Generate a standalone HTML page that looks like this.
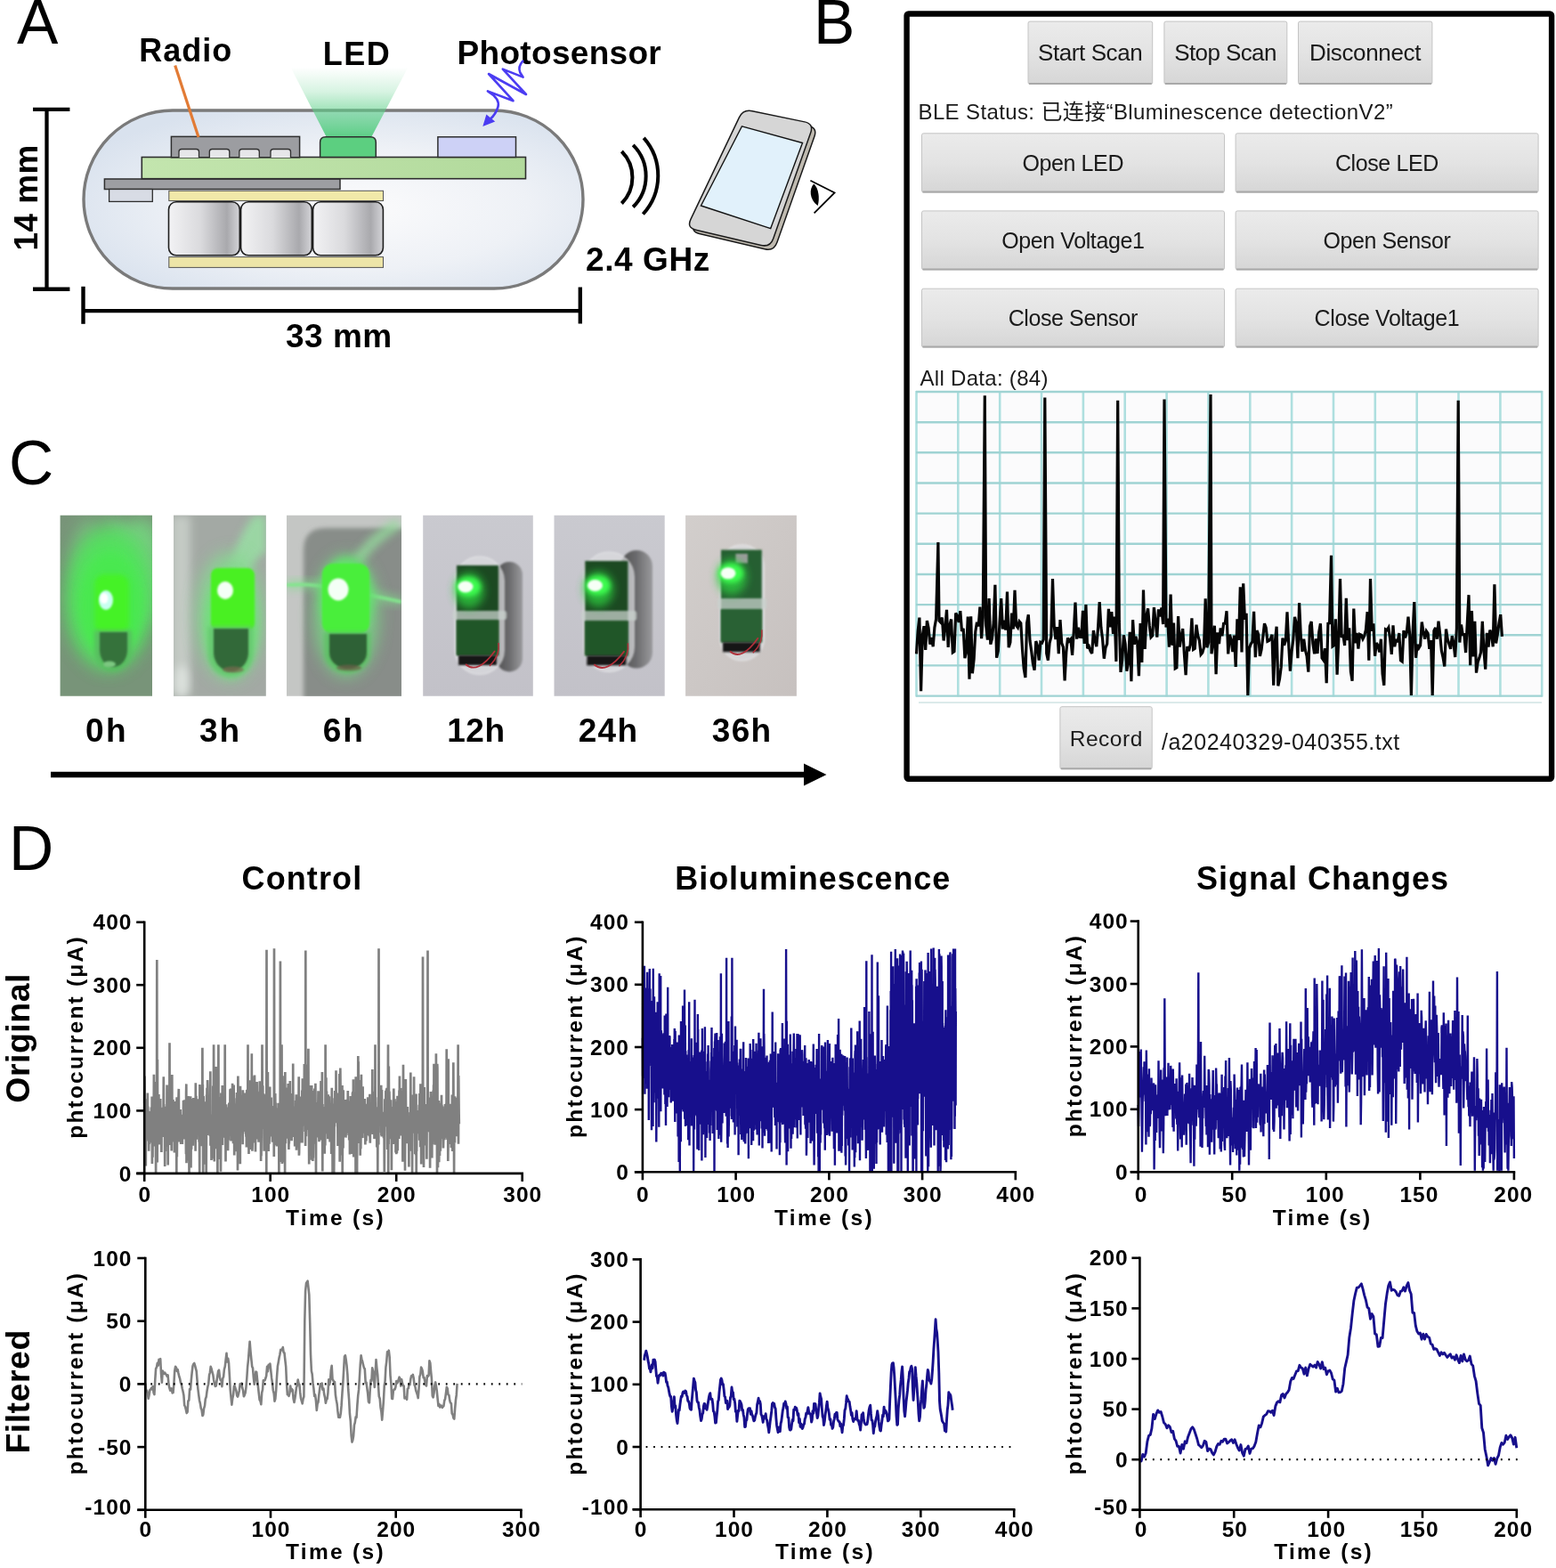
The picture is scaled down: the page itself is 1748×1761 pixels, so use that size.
<!DOCTYPE html>
<html><head><meta charset="utf-8"><title>Figure</title>
<style>html,body{margin:0;padding:0;background:#fff;overflow:hidden;width:1748px;height:1761px;} svg{display:block;}</style>
</head><body>
<svg width="1748" height="1761" viewBox="0 0 1748 1761">
<rect x="0" y="0" width="1748" height="1761" fill="#fff"/>
<defs>
<radialGradient id="capg" cx="0.55" cy="0.55" r="0.62">
 <stop offset="0" stop-color="#fbfbfc"/><stop offset="0.55" stop-color="#eef1f6"/><stop offset="1" stop-color="#d9e2ee"/>
</radialGradient>
<linearGradient id="coneg" x1="0" y1="0" x2="0" y2="1">
 <stop offset="0" stop-color="#5fd08a" stop-opacity="0"/><stop offset="0.35" stop-color="#5fd08a" stop-opacity="0.25"/><stop offset="0.62" stop-color="#5fd08a" stop-opacity="0.6"/><stop offset="1" stop-color="#55cc80" stop-opacity="0.95"/>
</linearGradient>
<linearGradient id="batg" x1="0" y1="0" x2="1" y2="0">
 <stop offset="0" stop-color="#f2f2f4"/><stop offset="0.45" stop-color="#dadadd"/><stop offset="0.82" stop-color="#a9a9ad"/><stop offset="1" stop-color="#d4d4d8"/>
</linearGradient>
<linearGradient id="pcbg" x1="0" y1="0" x2="1" y2="0">
 <stop offset="0" stop-color="#c3e5ae"/><stop offset="1" stop-color="#b2da9c"/>
</linearGradient>
</defs>
<text x="18.90" y="48.90" text-anchor="start" fill="#000" style="font-family:'Liberation Sans',Arial,sans-serif;font-size:69.5px">A</text>
<rect x="94" y="124" width="561" height="200" rx="100" ry="100" fill="url(#capg)" stroke="#7a7a7a" stroke-width="3.4"/>
<polygon points="326.5,75.6 458.4,75.6 417.2,154 366.8,154" fill="url(#coneg)"/>
<rect x="117.4" y="201" width="264.6" height="11.5" fill="#9d9ea2" stroke="#2e2e2e" stroke-width="1.5"/>
<rect x="122.6" y="212.5" width="48.7" height="13.9" fill="#d8dce5" stroke="#2e2e2e" stroke-width="1.3"/>
<rect x="159.3" y="176.5" width="431.2" height="24.2" fill="url(#pcbg)" stroke="#2e2e2e" stroke-width="1.6"/>
<rect x="192.4" y="153.4" width="144.2" height="23.4" fill="#9c9da1" stroke="#2e2e2e" stroke-width="1.5"/>
<path d="M201.0,177 L201.0,170.5 Q201.0,167.5 204.0,167.5 L220.5,167.5 Q223.5,167.5 223.5,170.5 L223.5,177" fill="#e7e7ea" stroke="#2e2e2e" stroke-width="1.3"/>
<path d="M235.3,177 L235.3,170.5 Q235.3,167.5 238.3,167.5 L254.8,167.5 Q257.8,167.5 257.8,170.5 L257.8,177" fill="#e7e7ea" stroke="#2e2e2e" stroke-width="1.3"/>
<path d="M268.8,177 L268.8,170.5 Q268.8,167.5 271.8,167.5 L288.3,167.5 Q291.3,167.5 291.3,170.5 L291.3,177" fill="#e7e7ea" stroke="#2e2e2e" stroke-width="1.3"/>
<path d="M304.0,177 L304.0,170.5 Q304.0,167.5 307.0,167.5 L323.5,167.5 Q326.5,167.5 326.5,170.5 L326.5,177" fill="#e7e7ea" stroke="#2e2e2e" stroke-width="1.3"/>
<line x1="196.7" y1="73.5" x2="223" y2="154" stroke="#e27b35" stroke-width="3.2"/>
<path d="M359.6,176.5 L359.6,160 Q359.6,153.8 366,153.8 L416,153.8 Q422.3,153.8 422.3,160 L422.3,176.5 Z" fill="#5ccf80" stroke="#2e2e2e" stroke-width="1.5"/>
<rect x="491.9" y="153.8" width="87.6" height="22.7" fill="#cdd1f6" stroke="#2e2e2e" stroke-width="1.5"/>
<rect x="189.8" y="214.3" width="240.7" height="11.2" fill="#f1e9a9" stroke="#555" stroke-width="1"/>
<rect x="189.8" y="288.6" width="240.7" height="11.8" fill="#ede5a8" stroke="#555" stroke-width="1"/>
<rect x="189.5" y="226.8" width="79.8" height="60" rx="8.5" fill="url(#batg)" stroke="#1e1e1e" stroke-width="1.6"/>
<rect x="270.6" y="226.8" width="79.7" height="60" rx="8.5" fill="url(#batg)" stroke="#1e1e1e" stroke-width="1.6"/>
<rect x="351.6" y="226.8" width="78.8" height="60" rx="8.5" fill="url(#batg)" stroke="#1e1e1e" stroke-width="1.6"/>
<line x1="52.5" y1="122.9" x2="52.5" y2="324.8" stroke="#000" stroke-width="4.3"/>
<line x1="37" y1="122.9" x2="78.4" y2="122.9" stroke="#000" stroke-width="4.4"/>
<line x1="37" y1="324.8" x2="78.4" y2="324.8" stroke="#000" stroke-width="4.4"/>
<line x1="93.5" y1="349.2" x2="651.8" y2="349.2" stroke="#000" stroke-width="4.3"/>
<line x1="93.5" y1="321.8" x2="93.5" y2="363.8" stroke="#000" stroke-width="4.4"/>
<line x1="651.8" y1="322.5" x2="651.8" y2="363.5" stroke="#000" stroke-width="4.4"/>
<text x="156.30" y="69.40" text-anchor="start" fill="#000" style="font-family:'Liberation Sans',Arial,sans-serif;font-weight:bold;font-size:36px;letter-spacing:1px">Radio</text>
<text x="362.80" y="72.50" text-anchor="start" fill="#000" style="font-family:'Liberation Sans',Arial,sans-serif;font-weight:bold;font-size:36px;letter-spacing:1.5px">LED</text>
<text x="513.60" y="72.00" text-anchor="start" fill="#000" style="font-family:'Liberation Sans',Arial,sans-serif;font-weight:bold;font-size:37px;letter-spacing:0.3px">Photosensor</text>
<text x="41.60" y="281.40" text-anchor="start" fill="#000" style="font-family:'Liberation Sans',Arial,sans-serif;font-weight:bold;font-size:37px;letter-spacing:0.4px" transform="rotate(-90 41.6 281.4)">14 mm</text>
<text x="321.00" y="390.00" text-anchor="start" fill="#000" style="font-family:'Liberation Sans',Arial,sans-serif;font-weight:bold;font-size:37px;letter-spacing:0.5px">33 mm</text>
<text x="658.00" y="303.50" text-anchor="start" fill="#000" style="font-family:'Liberation Sans',Arial,sans-serif;font-weight:bold;font-size:37px;letter-spacing:0.6px">2.4 GHz</text>
<path d="M587.3,68.7 Q581.5,75 584.3,81.5 L587.6,86.6 L564.8,77.6 L591,106 L549,83 L576.5,113.2 L547.9,102.4 Q562,111 559.5,120 Q557,128 551,133.5" fill="none" stroke="#4b3cf2" stroke-width="2.6" stroke-linejoin="round" stroke-linecap="round"/>
<polygon points="546.4,128.5 556.2,136.6 542.3,142" fill="#4b3cf2"/>
<path d="M698.4,170 A41.6,41.6 0 0 1 698.4,228.5" fill="none" stroke="#000" stroke-width="4"/>
<path d="M711.2,162.9 A49.2,49.2 0 0 1 711.2,232.5" fill="none" stroke="#000" stroke-width="4"/>
<path d="M723.2,154.8 A64,64 0 0 1 722.4,240.5" fill="none" stroke="#000" stroke-width="4"/>
<path d="M834.49,136.48 Q839.00,127.00 849.28,129.12 L908.12,141.28 Q918.40,143.40 914.90,153.30 L872.90,272.30 Q869.40,282.20 859.18,279.80 L785.82,262.60 Q775.60,260.20 780.11,250.72 Z" fill="#bfbab0" stroke="#1a1a1a" stroke-width="1.5"/>
<path d="M830.29,132.08 Q834.80,122.60 845.08,124.72 L903.92,136.88 Q914.20,139.00 910.70,148.90 L868.70,267.90 Q865.20,277.80 854.98,275.40 L781.62,258.20 Q771.40,255.80 775.91,246.32 Z" fill="#d6d6d6" stroke="#1a1a1a" stroke-width="1.5"/>
<polygon points="833.5,141.8 901.5,160.5 865.7,256.6 787.5,231.0" fill="#e1f1fb" stroke="#111" stroke-width="1.4"/>
<polyline points="910.4,202.7 937.6,216.4 914.6,239.4" fill="none" stroke="#000" stroke-width="1.7"/>
<path d="M914.3,206.5 C908.8,212 909,224 918.7,231 C921,223 919.8,211.5 914.3,206.5 Z" fill="#000"/>
<defs>
<linearGradient id="btng" x1="0" y1="0" x2="0" y2="1">
 <stop offset="0" stop-color="#ebebeb"/><stop offset="0.5" stop-color="#e3e3e3"/><stop offset="1" stop-color="#d6d6d6"/>
</linearGradient>
</defs>
<text x="913.90" y="48.90" text-anchor="start" fill="#000" style="font-family:'Liberation Sans',Arial,sans-serif;font-size:69.5px">B</text>
<rect x="1018.6" y="15.5" width="724.5" height="859.2" rx="2" fill="#fff" stroke="#000" stroke-width="6.4"/>
<rect x="1155.0" y="24.1" width="139.7" height="70.4" rx="2" fill="url(#btng)" stroke="#c4c4c4" stroke-width="1"/>
<line x1="1156.0" y1="94.0" x2="1293.7" y2="94.0" stroke="#a8a8a8" stroke-width="2"/>
<text x="1224.65" y="68.40" text-anchor="middle" fill="#1a1a1a" style="font-family:'Liberation Sans','Noto Sans CJK SC',sans-serif;font-size:26px;letter-spacing:-0.4px">Start Scan</text>
<rect x="1307.9" y="24.1" width="137.9" height="70.4" rx="2" fill="url(#btng)" stroke="#c4c4c4" stroke-width="1"/>
<line x1="1308.9" y1="94.0" x2="1444.8" y2="94.0" stroke="#a8a8a8" stroke-width="2"/>
<text x="1376.55" y="68.40" text-anchor="middle" fill="#1a1a1a" style="font-family:'Liberation Sans','Noto Sans CJK SC',sans-serif;font-size:26px;letter-spacing:-0.6px">Stop Scan</text>
<rect x="1458.5" y="24.1" width="150.4" height="70.4" rx="2" fill="url(#btng)" stroke="#c4c4c4" stroke-width="1"/>
<line x1="1459.5" y1="94.0" x2="1607.9" y2="94.0" stroke="#a8a8a8" stroke-width="2"/>
<text x="1533.53" y="68.40" text-anchor="middle" fill="#1a1a1a" style="font-family:'Liberation Sans','Noto Sans CJK SC',sans-serif;font-size:26px;letter-spacing:-0.35px">Disconnect</text>
<text x="1031.50" y="133.50" text-anchor="start" fill="#1a1a1a" style="font-family:'Liberation Sans','Noto Sans CJK SC',sans-serif;font-size:24px;letter-spacing:0.38px">BLE Status: 已连接“Bluminescence detectionV2”</text>
<rect x="1035.5" y="149.8" width="340.0" height="66.3" rx="2" fill="url(#btng)" stroke="#c4c4c4" stroke-width="1"/>
<line x1="1036.5" y1="215.6" x2="1374.5" y2="215.6" stroke="#a8a8a8" stroke-width="2"/>
<text x="1205.30" y="191.85" text-anchor="middle" fill="#1a1a1a" style="font-family:'Liberation Sans','Noto Sans CJK SC',sans-serif;font-size:25px;letter-spacing:-0.4px">Open LED</text>
<rect x="1388.1" y="149.8" width="340.0" height="66.3" rx="2" fill="url(#btng)" stroke="#c4c4c4" stroke-width="1"/>
<line x1="1389.1" y1="215.6" x2="1727.1" y2="215.6" stroke="#a8a8a8" stroke-width="2"/>
<text x="1557.90" y="191.85" text-anchor="middle" fill="#1a1a1a" style="font-family:'Liberation Sans','Noto Sans CJK SC',sans-serif;font-size:25px;letter-spacing:-0.4px">Close LED</text>
<rect x="1035.5" y="236.9" width="340.0" height="66.0" rx="2" fill="url(#btng)" stroke="#c4c4c4" stroke-width="1"/>
<line x1="1036.5" y1="302.4" x2="1374.5" y2="302.4" stroke="#a8a8a8" stroke-width="2"/>
<text x="1205.30" y="278.80" text-anchor="middle" fill="#1a1a1a" style="font-family:'Liberation Sans','Noto Sans CJK SC',sans-serif;font-size:25px;letter-spacing:-0.4px">Open Voltage1</text>
<rect x="1388.1" y="236.9" width="340.0" height="66.0" rx="2" fill="url(#btng)" stroke="#c4c4c4" stroke-width="1"/>
<line x1="1389.1" y1="302.4" x2="1727.1" y2="302.4" stroke="#a8a8a8" stroke-width="2"/>
<text x="1557.90" y="278.80" text-anchor="middle" fill="#1a1a1a" style="font-family:'Liberation Sans','Noto Sans CJK SC',sans-serif;font-size:25px;letter-spacing:-0.4px">Open Sensor</text>
<rect x="1035.5" y="324.2" width="340.0" height="65.8" rx="2" fill="url(#btng)" stroke="#c4c4c4" stroke-width="1"/>
<line x1="1036.5" y1="389.5" x2="1374.5" y2="389.5" stroke="#a8a8a8" stroke-width="2"/>
<text x="1205.30" y="366.00" text-anchor="middle" fill="#1a1a1a" style="font-family:'Liberation Sans','Noto Sans CJK SC',sans-serif;font-size:25px;letter-spacing:-0.4px">Close Sensor</text>
<rect x="1388.1" y="324.2" width="340.0" height="65.8" rx="2" fill="url(#btng)" stroke="#c4c4c4" stroke-width="1"/>
<line x1="1389.1" y1="389.5" x2="1727.1" y2="389.5" stroke="#a8a8a8" stroke-width="2"/>
<text x="1557.90" y="366.00" text-anchor="middle" fill="#1a1a1a" style="font-family:'Liberation Sans','Noto Sans CJK SC',sans-serif;font-size:25px;letter-spacing:-0.4px">Close Voltage1</text>
<text x="1033.50" y="432.50" text-anchor="start" fill="#1a1a1a" style="font-family:'Liberation Sans','Noto Sans CJK SC',sans-serif;font-size:24px;letter-spacing:0.3px">All Data: (84)</text>
<rect x="1029.0" y="439.0" width="703.7" height="343.6" fill="#fbfbfc"/>
<line x1="1029.5" y1="439.0" x2="1029.5" y2="782.6" stroke="#a6dcdc" stroke-width="2.6" opacity="0.9"/>
<line x1="1076.3" y1="439.0" x2="1076.3" y2="782.6" stroke="#a6dcdc" stroke-width="2.6" opacity="0.9"/>
<line x1="1123.2" y1="439.0" x2="1123.2" y2="782.6" stroke="#a6dcdc" stroke-width="2.6" opacity="0.9"/>
<line x1="1170.0" y1="439.0" x2="1170.0" y2="782.6" stroke="#a6dcdc" stroke-width="2.6" opacity="0.9"/>
<line x1="1216.9" y1="439.0" x2="1216.9" y2="782.6" stroke="#a6dcdc" stroke-width="2.6" opacity="0.9"/>
<line x1="1263.7" y1="439.0" x2="1263.7" y2="782.6" stroke="#a6dcdc" stroke-width="2.6" opacity="0.9"/>
<line x1="1310.6" y1="439.0" x2="1310.6" y2="782.6" stroke="#a6dcdc" stroke-width="2.6" opacity="0.9"/>
<line x1="1357.4" y1="439.0" x2="1357.4" y2="782.6" stroke="#a6dcdc" stroke-width="2.6" opacity="0.9"/>
<line x1="1404.3" y1="439.0" x2="1404.3" y2="782.6" stroke="#a6dcdc" stroke-width="2.6" opacity="0.9"/>
<line x1="1451.1" y1="439.0" x2="1451.1" y2="782.6" stroke="#a6dcdc" stroke-width="2.6" opacity="0.9"/>
<line x1="1498.0" y1="439.0" x2="1498.0" y2="782.6" stroke="#a6dcdc" stroke-width="2.6" opacity="0.9"/>
<line x1="1544.8" y1="439.0" x2="1544.8" y2="782.6" stroke="#a6dcdc" stroke-width="2.6" opacity="0.9"/>
<line x1="1591.7" y1="439.0" x2="1591.7" y2="782.6" stroke="#a6dcdc" stroke-width="2.6" opacity="0.9"/>
<line x1="1638.5" y1="439.0" x2="1638.5" y2="782.6" stroke="#a6dcdc" stroke-width="2.6" opacity="0.9"/>
<line x1="1685.4" y1="439.0" x2="1685.4" y2="782.6" stroke="#a6dcdc" stroke-width="2.6" opacity="0.9"/>
<line x1="1732.2" y1="439.0" x2="1732.2" y2="782.6" stroke="#a6dcdc" stroke-width="2.6" opacity="0.9"/>
<line x1="1029.0" y1="440.0" x2="1732.7" y2="440.0" stroke="#9fd3d3" stroke-width="2.4"/>
<line x1="1029.0" y1="474.2" x2="1732.7" y2="474.2" stroke="#9fd3d3" stroke-width="2.4"/>
<line x1="1029.0" y1="508.3" x2="1732.7" y2="508.3" stroke="#9fd3d3" stroke-width="2.4"/>
<line x1="1029.0" y1="542.5" x2="1732.7" y2="542.5" stroke="#9fd3d3" stroke-width="2.4"/>
<line x1="1029.0" y1="576.6" x2="1732.7" y2="576.6" stroke="#9fd3d3" stroke-width="2.4"/>
<line x1="1029.0" y1="610.8" x2="1732.7" y2="610.8" stroke="#9fd3d3" stroke-width="2.4"/>
<line x1="1029.0" y1="645.0" x2="1732.7" y2="645.0" stroke="#9fd3d3" stroke-width="2.4"/>
<line x1="1029.0" y1="679.1" x2="1732.7" y2="679.1" stroke="#9fd3d3" stroke-width="2.4"/>
<line x1="1029.0" y1="713.3" x2="1732.7" y2="713.3" stroke="#9fd3d3" stroke-width="2.4"/>
<line x1="1029.0" y1="747.4" x2="1732.7" y2="747.4" stroke="#9fd3d3" stroke-width="2.4"/>
<line x1="1029.0" y1="781.6" x2="1732.7" y2="781.6" stroke="#9fd3d3" stroke-width="2.4"/>
<line x1="1032" y1="789" x2="1732" y2="789" stroke="#cfe3e3" stroke-width="1.5"/>
<polyline points="1029.5,734.4 1031.2,708.4 1032.9,693.6 1034.6,776.2 1036.3,713.3 1038.0,703.2 1039.7,729.9 1041.4,697.2 1043.1,705.2 1044.8,723.7 1046.5,716.0 1048.2,726.2 1049.9,704.6 1051.6,695.3 1053.9,609.0 1055.0,697.2 1056.7,699.0 1058.4,693.6 1060.1,719.5 1061.8,704.8 1063.5,684.8 1065.2,726.9 1066.9,701.9 1068.6,695.5 1070.3,732.8 1072.0,731.6 1073.7,688.5 1075.4,691.8 1077.1,698.8 1078.8,686.1 1080.5,708.9 1082.2,705.8 1083.9,739.1 1085.6,731.4 1087.3,692.5 1089.0,762.8 1090.7,692.4 1092.4,756.3 1094.1,740.4 1095.8,709.3 1097.5,698.8 1099.2,703.5 1100.9,681.5 1102.6,717.1 1104.3,693.0 1106.3,444.3 1107.7,702.4 1109.4,718.7 1111.1,672.1 1112.8,723.6 1114.5,717.1 1116.2,699.0 1117.9,656.7 1119.6,738.7 1121.3,731.0 1123.0,699.6 1124.7,672.0 1126.4,706.4 1128.1,696.8 1129.8,707.6 1131.5,664.6 1133.2,727.1 1134.9,721.5 1136.6,688.5 1138.3,706.5 1140.0,662.7 1141.7,702.6 1143.4,704.9 1145.1,697.9 1146.8,699.9 1148.5,729.4 1150.2,750.7 1151.9,761.0 1153.6,699.7 1155.3,690.3 1157.0,719.5 1158.7,731.3 1160.4,745.2 1162.1,752.7 1163.8,720.1 1165.5,725.3 1167.2,741.7 1168.9,721.2 1170.6,722.1 1172.3,718.2 1173.8,446.4 1175.7,733.8 1177.4,741.7 1179.1,722.1 1180.8,715.3 1182.5,650.0 1184.2,702.6 1185.9,718.1 1187.6,704.1 1189.3,734.1 1191.0,696.1 1192.7,722.2 1194.4,726.7 1196.1,764.4 1197.8,732.4 1199.5,716.4 1201.2,719.9 1202.9,717.9 1204.6,735.9 1206.3,709.1 1208.0,676.6 1209.7,717.6 1211.4,704.7 1213.1,715.2 1214.8,715.4 1216.5,685.9 1218.2,723.0 1219.9,679.1 1221.6,728.3 1223.3,725.9 1225.0,731.1 1226.7,733.9 1228.4,708.0 1230.1,719.2 1231.8,726.2 1233.5,705.4 1235.2,676.2 1236.9,704.5 1238.6,717.9 1240.3,739.7 1242.0,727.4 1243.7,723.1 1245.4,683.8 1247.1,704.3 1248.8,687.0 1250.5,711.9 1252.2,692.6 1253.9,742.9 1255.7,449.8 1257.3,697.9 1259.0,754.9 1260.7,741.1 1262.4,713.4 1264.1,722.9 1265.8,753.6 1267.5,743.9 1269.2,709.9 1270.9,765.1 1272.6,696.2 1274.3,723.6 1276.0,714.8 1277.7,721.2 1279.4,759.2 1281.1,700.1 1282.8,744.0 1284.5,662.6 1286.2,728.9 1287.9,691.6 1289.6,683.3 1291.3,702.9 1293.0,715.7 1294.7,713.9 1296.4,682.1 1298.1,698.0 1299.8,715.6 1301.5,684.3 1303.2,692.3 1304.9,682.4 1306.6,701.1 1308.0,448.5 1310.0,704.5 1311.7,694.6 1313.4,726.6 1315.1,667.6 1316.8,724.8 1318.5,699.5 1320.2,750.8 1321.9,749.8 1323.6,692.0 1325.3,726.6 1327.0,714.7 1328.7,706.0 1330.4,734.5 1332.1,758.1 1333.8,726.1 1335.5,731.2 1337.2,724.0 1338.9,694.3 1340.6,729.4 1342.3,728.3 1344.0,701.7 1345.7,713.9 1347.4,719.3 1349.1,735.0 1350.8,732.9 1352.5,727.0 1354.2,672.3 1355.9,727.3 1357.6,721.6 1360.0,443.0 1361.0,734.2 1362.7,721.3 1364.4,702.7 1366.1,757.2 1367.8,710.4 1369.5,723.2 1371.2,705.5 1372.9,714.2 1374.6,700.4 1376.3,700.1 1378.0,686.2 1379.7,734.5 1381.4,712.8 1383.1,718.8 1384.8,732.0 1386.5,713.7 1388.2,749.0 1389.9,695.4 1391.6,718.8 1393.3,659.4 1395.0,732.4 1396.7,655.4 1398.4,695.6 1400.1,688.8 1401.8,781.0 1403.5,727.9 1405.2,723.3 1406.9,720.7 1408.6,686.9 1410.3,738.1 1412.0,708.1 1413.7,712.6 1415.4,736.8 1417.1,729.4 1418.8,715.3 1420.5,700.2 1422.2,704.9 1423.9,720.3 1425.6,719.4 1427.3,717.3 1429.0,712.8 1430.7,769.6 1432.4,720.4 1434.1,703.7 1435.8,770.3 1437.5,762.5 1439.2,749.2 1440.9,716.5 1442.6,724.8 1444.3,719.8 1446.0,687.4 1447.7,724.0 1449.4,753.7 1451.1,731.5 1452.8,718.1 1454.5,692.9 1456.2,699.9 1457.9,739.3 1459.6,677.1 1461.3,714.1 1463.0,731.9 1464.7,717.7 1466.4,730.1 1468.1,736.8 1469.8,754.6 1471.5,703.2 1473.2,698.1 1474.9,722.6 1476.6,734.3 1478.3,717.5 1480.0,734.0 1481.7,710.2 1483.4,700.3 1485.1,738.9 1486.8,741.4 1488.5,728.1 1490.2,767.3 1491.9,700.2 1493.6,699.8 1495.5,623.8 1497.0,725.9 1498.7,724.6 1500.4,695.3 1502.1,757.8 1503.8,716.9 1505.5,650.0 1507.2,716.0 1508.9,713.1 1510.6,724.9 1512.3,671.8 1514.0,719.1 1515.7,705.3 1517.4,754.1 1519.1,764.7 1520.8,683.5 1522.5,722.3 1524.2,711.0 1525.9,728.7 1527.6,712.3 1529.3,713.1 1531.0,717.6 1532.7,714.2 1534.4,707.5 1536.1,687.2 1537.8,741.7 1539.5,650.0 1541.2,708.7 1542.9,700.3 1544.6,736.7 1546.3,722.1 1548.0,725.0 1549.7,732.4 1551.4,717.8 1553.1,756.9 1554.8,769.8 1556.5,706.8 1558.2,707.7 1559.9,704.9 1561.6,717.4 1563.3,734.9 1565.0,702.4 1566.7,726.3 1568.4,717.9 1570.1,721.2 1571.8,711.0 1573.5,741.6 1575.2,742.9 1576.9,708.1 1578.6,716.3 1580.3,710.5 1582.0,692.7 1583.7,713.4 1585.4,781.0 1587.1,709.9 1588.8,676.1 1590.5,738.8 1592.2,724.0 1593.9,727.7 1595.6,724.8 1597.3,698.5 1599.0,709.7 1600.7,717.7 1602.4,708.9 1604.1,711.4 1605.8,728.8 1607.5,719.0 1609.2,781.0 1610.9,708.3 1612.6,705.0 1614.3,717.7 1616.0,697.6 1617.7,712.5 1619.4,730.8 1621.1,738.4 1622.8,748.5 1624.5,706.5 1626.2,717.8 1627.9,723.3 1629.6,728.7 1631.3,714.1 1633.0,722.4 1634.7,738.0 1636.4,705.9 1638.2,449.8 1639.8,721.6 1641.5,701.6 1643.2,712.5 1644.9,712.6 1646.6,733.0 1648.3,700.2 1650.0,668.2 1651.7,747.1 1653.4,686.0 1655.1,737.5 1656.8,697.7 1658.5,755.6 1660.2,743.6 1661.9,738.6 1663.6,732.6 1665.3,697.8 1667.0,731.3 1668.7,751.6 1670.4,710.9 1672.1,726.7 1673.8,707.7 1675.5,711.9 1677.2,726.3 1678.9,656.3 1680.6,722.4 1682.3,712.6 1684.0,699.7 1685.7,690.2 1687.4,714.8" fill="none" stroke="#050505" stroke-width="3.2" stroke-linejoin="miter" stroke-miterlimit="3"/>
<rect x="1190.9" y="793.7" width="103.3" height="70.0" rx="2" fill="url(#btng)" stroke="#c4c4c4" stroke-width="1"/>
<line x1="1191.9" y1="863.2" x2="1293.2" y2="863.2" stroke="#a8a8a8" stroke-width="2"/>
<text x="1242.80" y="837.70" text-anchor="middle" fill="#1a1a1a" style="font-family:'Liberation Sans','Noto Sans CJK SC',sans-serif;font-size:24.5px;letter-spacing:0.5px">Record</text>
<text x="1305.00" y="841.90" text-anchor="start" fill="#1a1a1a" style="font-family:'Liberation Sans','Noto Sans CJK SC',sans-serif;font-size:25px;letter-spacing:0.5px">/a20240329-040355.txt</text>
<text x="10.00" y="543.80" text-anchor="start" fill="#000" style="font-family:'Liberation Sans',Arial,sans-serif;font-size:69.5px">C</text>
<defs>
<filter id="b1" x="-50%" y="-50%" width="200%" height="200%"><feGaussianBlur stdDeviation="1.2"/></filter>
<filter id="b2" x="-50%" y="-50%" width="200%" height="200%"><feGaussianBlur stdDeviation="2.5"/></filter>
<filter id="b4" x="-50%" y="-50%" width="200%" height="200%"><feGaussianBlur stdDeviation="5"/></filter>
<filter id="b8" x="-50%" y="-50%" width="200%" height="200%"><feGaussianBlur stdDeviation="9"/></filter>
<linearGradient id="shadg" x1="0" y1="0" x2="1" y2="0"><stop offset="0" stop-color="#505052"/><stop offset="0.5" stop-color="#6c6c6e"/><stop offset="1" stop-color="#9a9a9d"/></linearGradient>
<linearGradient id="bg12" x1="0" y1="0" x2="0" y2="1"><stop offset="0" stop-color="#cacad0"/><stop offset="1" stop-color="#c2c1c8"/></linearGradient>
<linearGradient id="bg36" x1="0" y1="0" x2="1" y2="1"><stop offset="0" stop-color="#d3cfcd"/><stop offset="1" stop-color="#c6c0be"/></linearGradient>

<clipPath id="pc0"><rect x="67.6" y="578.8" width="103.4" height="203.0"/></clipPath>
<clipPath id="pc1"><rect x="195.0" y="578.8" width="103.8" height="203.0"/></clipPath>
<clipPath id="pc2"><rect x="322.0" y="578.8" width="129.0" height="203.0"/></clipPath>
<clipPath id="pc3"><rect x="475.2" y="578.8" width="123.6" height="203.0"/></clipPath>
<clipPath id="pc4"><rect x="622.5" y="578.8" width="124.2" height="203.0"/></clipPath>
<clipPath id="pc5"><rect x="770.1" y="578.8" width="124.8" height="203.0"/></clipPath>
</defs>
<g clip-path="url(#pc0)">
<rect x="57.599999999999994" y="568.8" width="123.4" height="223.0" fill="#789479" />
<path d="M120,579 Q150,600 171,590 L171,660 Q150,640 130,650 Z" fill="#7ee08a" filter="url(#b8)" opacity="0.8"/>
<ellipse cx="158" cy="640" rx="22" ry="60" fill="#74cf7e" filter="url(#b8)" opacity="0.8"/>
<ellipse cx="100" cy="620" rx="20" ry="40" fill="#7fbf85" filter="url(#b8)" opacity="0.6"/>
<ellipse cx="122" cy="672" rx="50" ry="82" fill="#58dc64" filter="url(#b8)" opacity="0.92"/>
<ellipse cx="124" cy="672" rx="38" ry="62" fill="#4ee856" filter="url(#b8)" opacity="0.9"/>
<ellipse cx="124" cy="680" rx="34" ry="56" fill="#4ae850" filter="url(#b4)"/>
<rect x="106" y="645" width="39.0" height="67.0" fill="#44f226" rx="12" filter="url(#b2)"/>
<path d="M106,708 L106,730 A21,24 0 0 0 148,730 L148,708 Z" fill="#58bd60" filter="url(#b2)"/>
<path d="M112,710 L112,730 A15.5,19 0 0 0 143,730 L143,710 Z" fill="#336b37" filter="url(#b1)" opacity="0.9"/>
<ellipse cx="123" cy="746" rx="7" ry="3.5" fill="#7cc880" filter="url(#b1)"/>
<ellipse cx="119" cy="674" rx="8" ry="11" fill="#c8fff0" filter="url(#b1)"/>
<ellipse cx="117" cy="672" rx="4.5" ry="6" fill="#ffffff" filter="url(#b1)"/>
</g>
<g clip-path="url(#pc1)">
<rect x="185.0" y="568.8" width="123.8" height="223.0" fill="#a3a9a4" />
<rect x="193" y="579" width="21.0" height="203.0" fill="#c4cac5" filter="url(#b4)"/>
<ellipse cx="204" cy="765" rx="7" ry="18" fill="#dde2de" filter="url(#b4)"/>
<path d="M255,650 Q262,610 285,579 L299,579 L299,620 Q280,630 275,660 Z" fill="#9adba4" filter="url(#b4)" opacity="0.9"/>
<ellipse cx="258" cy="692" rx="38" ry="72" fill="#86d890" filter="url(#b8)" opacity="0.85"/>
<ellipse cx="260" cy="700" rx="30" ry="60" fill="#6ee078" filter="url(#b4)" opacity="0.9"/>
<rect x="237" y="638" width="49.0" height="70.0" fill="#48f022" rx="8" filter="url(#b1)"/>
<path d="M234,704 L234,735 A25,25 0 0 0 284,735 L284,704 Z" fill="#66c870" filter="url(#b2)"/>
<path d="M240,706 L240,733 A19.5,21 0 0 0 279,733 L279,706 Z" fill="#2f6234" filter="url(#b1)" opacity="0.92"/>
<ellipse cx="262" cy="752" rx="12" ry="3.5" fill="#7a6a50" filter="url(#b1)" opacity="0.7"/>
<ellipse cx="253" cy="663" rx="9" ry="10" fill="#f4fff6" filter="url(#b1)"/>
</g>
<g clip-path="url(#pc2)">
<rect x="312.0" y="568.8" width="149.0" height="223.0" fill="#c4c6c4" />
<path d="M341,800 L341,618 Q341,593 366,593 L470,593 L470,800 Z" fill="#888d89" filter="url(#b2)"/>
<path d="M322,657 Q350,655 370,660 Q415,668 451,676" stroke="#86e890" stroke-width="4" fill="none" filter="url(#b1)" opacity="0.9"/>
<path d="M322,657 Q350,655 370,660 Q415,668 451,676" stroke="#80e08a" stroke-width="12" fill="none" filter="url(#b4)" opacity="0.5"/>
<path d="M400,632 Q418,605 448,588" stroke="#94dc9c" stroke-width="12" fill="none" filter="url(#b4)" opacity="0.8"/>
<ellipse cx="389" cy="692" rx="36" ry="68" fill="#78d884" filter="url(#b8)" opacity="0.85"/>
<ellipse cx="389" cy="672" rx="30" ry="46" fill="#5ee468" filter="url(#b4)" opacity="0.9"/>
<rect x="362" y="633" width="53.0" height="79.0" fill="#4aee3a" rx="12" filter="url(#b1)"/>
<path d="M364,710 L364,734 A26,22 0 0 0 416,734 L416,710 Z" fill="#60bf68" filter="url(#b2)"/>
<path d="M370,712 L370,733 A21,18 0 0 0 412,733 L412,712 Z" fill="#2c5a30" filter="url(#b1)" opacity="0.92"/>
<ellipse cx="392" cy="750" rx="14" ry="3.5" fill="#6d5e48" filter="url(#b1)" opacity="0.7"/>
<ellipse cx="380" cy="662" rx="11.5" ry="12.5" fill="#f4fff6" filter="url(#b1)"/>
</g>
<g clip-path="url(#pc3)">
<rect x="465.2" y="568.8" width="143.6" height="223.0" fill="url(#bg12)" />
<rect x="557.5" y="631" width="29.5" height="123.39999999999998" rx="14.8" fill="url(#shadg)" filter="url(#b1)"/>
<rect x="511.3" y="625" width="54.99999999999994" height="132.5" rx="27.5" fill="#dcdde0" opacity="0.7" stroke="#eeeef0" stroke-width="1.2" filter="url(#b1)"/>
<rect x="513" y="635" width="47" height="101" fill="#1d4a24" filter="url(#b1)"/>
<rect x="513" y="696" width="47" height="40.0" fill="#245a2c" opacity="0.8" filter="url(#b1)"/>
<rect x="508.3" y="686" width="61.0" height="10.0" rx="3" fill="#c8d0cc" opacity="0.75" filter="url(#b1)"/>
<rect x="515" y="736" width="43" height="11" fill="#161616" filter="url(#b1)"/>
<path d="M523,746 Q536.5,758 556,731" stroke="#b0303a" stroke-width="1.8" fill="none"/>
<path d="M550,748 Q562,736 560,722" stroke="#b0303a" stroke-width="1.5" fill="none"/>
<ellipse cx="527" cy="663" rx="17" ry="20" fill="#2fd040" filter="url(#b4)" opacity="0.75"/>
<ellipse cx="526" cy="659" rx="14" ry="11" fill="#3cff50" filter="url(#b2)" opacity="0.95"/>
<ellipse cx="523" cy="659" rx="8.5" ry="6.5" fill="#f6fff6" filter="url(#b1)"/>
</g>
<g clip-path="url(#pc4)">
<rect x="612.5" y="568.8" width="144.2" height="223.0" fill="url(#bg12)" />
<rect x="697.3" y="618" width="35.700000000000045" height="132.60000000000002" rx="17.9" fill="url(#shadg)" filter="url(#b1)"/>
<rect x="656" y="620" width="56.299999999999955" height="134.39999999999998" rx="28.1" fill="#dcdde0" opacity="0.7" stroke="#eeeef0" stroke-width="1.2" filter="url(#b1)"/>
<rect x="657.3" y="630" width="48.10000000000002" height="106.29999999999995" fill="#1d4a24" filter="url(#b1)"/>
<rect x="657.3" y="697" width="48.10000000000002" height="39.3" fill="#245a2c" opacity="0.8" filter="url(#b1)"/>
<rect x="653" y="686" width="62.3" height="11.0" rx="3" fill="#c8d0cc" opacity="0.75" filter="url(#b1)"/>
<rect x="659.3" y="736.3" width="44.10000000000002" height="11" fill="#161616" filter="url(#b1)"/>
<path d="M667.3,746.3 Q681.3499999999999,758.3 701.4,731.3" stroke="#b0303a" stroke-width="1.8" fill="none"/>
<path d="M695.4,748.3 Q707.4,736.3 705.4,722.3" stroke="#b0303a" stroke-width="1.5" fill="none"/>
<ellipse cx="672.5" cy="661.5" rx="17" ry="20" fill="#2fd040" filter="url(#b4)" opacity="0.75"/>
<ellipse cx="671.5" cy="657.5" rx="14" ry="11" fill="#3cff50" filter="url(#b2)" opacity="0.95"/>
<ellipse cx="668.5" cy="657.5" rx="8.5" ry="6.5" fill="#f6fff6" filter="url(#b1)"/>
</g>
<g clip-path="url(#pc5)">
<rect x="760.1" y="568.8" width="144.8" height="223.0" fill="url(#bg36)" />
<rect x="808.9" y="611.9" width="49.39999999999998" height="130.0" rx="24.7" fill="#dcdde0" opacity="0.7" stroke="#eeeef0" stroke-width="1.2" filter="url(#b1)"/>
<rect x="810" y="617.5" width="45.799999999999955" height="103.79999999999995" fill="#285f33" filter="url(#b1)"/>
<rect x="810" y="684" width="45.799999999999955" height="37.3" fill="#2a6234" opacity="0.8" filter="url(#b1)"/>
<rect x="805.9" y="672" width="55.4" height="12.0" rx="3" fill="#c8d0cc" opacity="0.75" filter="url(#b1)"/>
<rect x="812" y="721.3" width="41.799999999999955" height="11" fill="#161616" filter="url(#b1)"/>
<path d="M820,731.3 Q832.9,743.3 851.8,716.3" stroke="#b0303a" stroke-width="1.8" fill="none"/>
<path d="M845.8,733.3 Q857.8,721.3 855.8,707.3" stroke="#b0303a" stroke-width="1.5" fill="none"/>
<rect x="826.4" y="621.9" width="13.6" height="10.6" fill="#9c9c9c" filter="url(#b1)"/>
<ellipse cx="822" cy="647.8" rx="17" ry="20" fill="#2fd040" filter="url(#b4)" opacity="0.75"/>
<ellipse cx="821" cy="643.8" rx="14" ry="11" fill="#3cff50" filter="url(#b2)" opacity="0.95"/>
<ellipse cx="818" cy="643.8" rx="8.5" ry="6.5" fill="#f6fff6" filter="url(#b1)"/>
</g>
<text x="96.00" y="833.30" text-anchor="start" fill="#000" style="font-family:'Liberation Sans',Arial,sans-serif;font-weight:bold;font-size:37px;letter-spacing:2.5px">0h</text>
<text x="224.00" y="833.30" text-anchor="start" fill="#000" style="font-family:'Liberation Sans',Arial,sans-serif;font-weight:bold;font-size:37px;letter-spacing:2.0px">3h</text>
<text x="362.70" y="833.30" text-anchor="start" fill="#000" style="font-family:'Liberation Sans',Arial,sans-serif;font-weight:bold;font-size:37px;letter-spacing:2.0px">6h</text>
<text x="502.30" y="833.30" text-anchor="start" fill="#000" style="font-family:'Liberation Sans',Arial,sans-serif;font-weight:bold;font-size:37px;letter-spacing:0.5px">12h</text>
<text x="649.70" y="833.30" text-anchor="start" fill="#000" style="font-family:'Liberation Sans',Arial,sans-serif;font-weight:bold;font-size:37px;letter-spacing:1.3px">24h</text>
<text x="799.80" y="833.30" text-anchor="start" fill="#000" style="font-family:'Liberation Sans',Arial,sans-serif;font-weight:bold;font-size:37px;letter-spacing:1.3px">36h</text>
<line x1="57" y1="870" x2="905" y2="870" stroke="#000" stroke-width="6.5"/>
<polygon points="903,857.5 928.5,870 903,882.6" fill="#000"/>
<polyline points="162.2,1238.9 162.4,1208.6 162.6,1222.0 162.8,1283.4 163.0,1257.9 163.2,1234.2 163.4,1242.9 163.6,1267.0 163.8,1309.6 164.0,1265.6 164.2,1269.6 164.4,1281.5 164.6,1247.0 164.8,1267.9 165.0,1272.8 165.2,1261.7 165.4,1269.9 165.6,1242.7 165.8,1227.6 166.0,1265.5 166.2,1242.6 166.4,1250.0 166.6,1268.3 166.8,1275.6 167.0,1251.9 167.2,1292.8 167.4,1266.4 167.5,1247.9 167.7,1285.0 167.9,1262.3 168.1,1283.5 168.3,1255.7 168.5,1270.8 168.7,1247.9 168.9,1271.0 169.1,1255.3 169.3,1273.2 169.5,1260.5 169.7,1270.8 169.9,1243.6 170.1,1246.5 170.3,1283.4 170.5,1277.2 170.7,1231.5 170.9,1307.1 171.1,1256.2 171.3,1260.9 171.5,1299.8 171.7,1249.3 171.9,1248.5 172.1,1275.0 172.3,1269.0 172.5,1257.3 172.7,1250.3 172.9,1206.8 173.1,1284.7 173.3,1242.4 173.5,1286.9 173.7,1215.1 173.9,1287.6 174.1,1249.9 174.3,1242.3 174.5,1280.3 174.7,1232.3 174.9,1253.4 175.1,1317.2 175.3,1273.9 175.5,1271.6 175.7,1245.9 175.9,1302.2 176.1,1235.8 176.3,1078.0 176.5,1242.5 176.7,1305.4 176.9,1190.0 177.1,1255.8 177.3,1266.6 177.5,1269.8 177.7,1245.6 177.8,1276.9 178.0,1267.6 178.2,1259.6 178.4,1229.0 178.6,1264.7 178.8,1278.7 179.0,1285.5 179.2,1282.8 179.4,1284.1 179.6,1259.3 179.8,1254.7 180.0,1284.2 180.2,1234.1 180.4,1265.4 180.6,1264.0 180.8,1270.8 181.0,1265.8 181.2,1269.8 181.4,1294.1 181.6,1253.8 181.8,1271.3 182.0,1251.8 182.2,1243.8 182.4,1266.4 182.6,1260.5 182.8,1252.1 183.0,1262.3 183.2,1262.6 183.4,1277.0 183.6,1241.4 183.8,1209.3 184.0,1266.9 184.2,1239.9 184.4,1267.8 184.6,1258.4 184.8,1256.7 185.0,1253.7 185.2,1309.9 185.4,1271.1 185.6,1242.7 185.8,1293.0 186.0,1253.2 186.2,1267.8 186.4,1265.7 186.6,1247.2 186.8,1246.7 187.0,1288.0 187.2,1266.4 187.4,1252.9 187.6,1218.6 187.8,1280.0 188.0,1277.5 188.2,1255.9 188.3,1257.1 188.5,1269.6 188.7,1308.4 188.9,1255.2 189.1,1257.3 189.3,1275.1 189.5,1235.8 189.7,1243.6 189.9,1248.1 190.1,1286.0 190.3,1262.1 190.5,1171.2 190.7,1276.1 190.9,1277.4 191.1,1246.4 191.3,1236.8 191.5,1233.6 191.7,1242.2 191.9,1249.5 192.1,1249.0 192.3,1265.5 192.5,1264.1 192.7,1292.5 192.9,1244.6 193.1,1271.8 193.3,1206.9 193.5,1272.2 193.7,1272.3 193.9,1249.1 194.1,1251.9 194.3,1279.5 194.5,1235.0 194.7,1263.3 194.9,1271.4 195.1,1282.6 195.3,1248.8 195.5,1248.7 195.7,1242.4 195.9,1294.4 196.1,1263.0 196.3,1281.0 196.5,1244.2 196.7,1236.9 196.9,1276.1 197.1,1279.5 197.3,1262.6 197.5,1248.5 197.7,1267.2 197.9,1294.7 198.1,1249.2 198.3,1317.2 198.5,1237.1 198.7,1232.3 198.8,1299.3 199.0,1279.0 199.2,1270.4 199.4,1262.4 199.6,1245.1 199.8,1263.4 200.0,1258.5 200.2,1280.0 200.4,1235.8 200.6,1229.4 200.8,1222.9 201.0,1243.4 201.2,1269.7 201.4,1252.6 201.6,1282.5 201.8,1279.7 202.0,1265.8 202.2,1257.8 202.4,1261.5 202.6,1245.9 202.8,1268.5 203.0,1255.5 203.2,1285.1 203.4,1251.7 203.6,1271.4 203.8,1266.1 204.0,1254.0 204.2,1261.9 204.4,1284.1 204.6,1252.7 204.8,1285.1 205.0,1267.1 205.2,1261.2 205.4,1255.0 205.6,1261.8 205.8,1256.0 206.0,1235.7 206.2,1274.0 206.4,1245.5 206.6,1279.4 206.8,1270.1 207.0,1277.6 207.2,1257.2 207.4,1235.3 207.6,1258.9 207.8,1246.3 208.0,1274.0 208.2,1261.9 208.4,1236.8 208.6,1256.4 208.8,1277.3 209.0,1296.2 209.1,1227.6 209.3,1217.4 209.5,1306.3 209.7,1284.0 209.9,1262.4 210.1,1256.3 210.3,1252.8 210.5,1303.4 210.7,1256.0 210.9,1249.3 211.1,1276.5 211.3,1274.4 211.5,1231.0 211.7,1264.7 211.9,1254.1 212.1,1238.0 212.3,1265.1 212.5,1317.2 212.7,1252.6 212.9,1292.1 213.1,1304.7 213.3,1251.3 213.5,1262.2 213.7,1258.8 213.9,1262.9 214.1,1231.2 214.3,1238.1 214.5,1311.4 214.7,1234.0 214.9,1274.9 215.1,1290.8 215.3,1245.2 215.5,1237.9 215.7,1283.3 215.9,1234.5 216.1,1285.5 216.3,1254.0 216.5,1270.8 216.7,1286.7 216.9,1272.7 217.1,1278.1 217.3,1232.9 217.5,1245.3 217.7,1269.4 217.9,1241.3 218.1,1259.2 218.3,1254.4 218.5,1272.8 218.7,1243.5 218.9,1256.8 219.1,1261.1 219.3,1264.8 219.5,1276.6 219.6,1292.8 219.8,1216.3 220.0,1253.2 220.2,1265.2 220.4,1230.8 220.6,1265.6 220.8,1279.7 221.0,1247.2 221.2,1259.3 221.4,1269.4 221.6,1272.2 221.8,1264.9 222.0,1270.5 222.2,1234.2 222.4,1251.4 222.6,1267.6 222.8,1268.0 223.0,1270.7 223.2,1241.9 223.4,1254.5 223.6,1282.4 223.8,1271.6 224.0,1286.0 224.2,1317.2 224.4,1218.0 224.6,1220.6 224.8,1263.0 225.0,1268.4 225.2,1265.7 225.4,1287.3 225.6,1238.1 225.8,1277.1 226.0,1268.6 226.2,1247.1 226.4,1257.1 226.6,1265.0 226.8,1253.3 227.0,1286.2 227.2,1272.2 227.4,1176.8 227.6,1267.3 227.8,1217.9 228.0,1248.7 228.2,1317.2 228.4,1240.2 228.6,1231.0 228.8,1246.9 229.0,1287.8 229.2,1254.3 229.4,1294.6 229.6,1277.2 229.8,1264.6 230.0,1258.0 230.1,1261.8 230.3,1266.0 230.5,1281.4 230.7,1307.7 230.9,1258.9 231.1,1261.0 231.3,1237.3 231.5,1259.5 231.7,1317.2 231.9,1268.4 232.1,1229.4 232.3,1253.4 232.5,1221.8 232.7,1253.0 232.9,1274.9 233.1,1213.0 233.3,1219.5 233.5,1239.8 233.7,1229.8 233.9,1261.0 234.1,1274.0 234.3,1259.0 234.5,1264.4 234.7,1271.5 234.9,1244.6 235.1,1243.1 235.3,1263.3 235.5,1246.1 235.7,1275.8 235.9,1250.3 236.1,1233.0 236.3,1203.2 236.5,1286.8 236.7,1270.2 236.9,1260.3 237.1,1270.7 237.3,1253.3 237.5,1302.9 237.7,1259.7 237.9,1251.6 238.1,1301.4 238.3,1273.1 238.5,1267.3 238.7,1268.9 238.9,1275.9 239.1,1285.0 239.3,1219.4 239.5,1245.0 239.7,1294.8 239.9,1224.3 240.1,1173.3 240.3,1231.8 240.4,1264.1 240.6,1271.6 240.8,1304.6 241.0,1274.8 241.2,1252.5 241.4,1228.0 241.6,1254.9 241.8,1243.4 242.0,1270.2 242.2,1233.4 242.4,1288.2 242.6,1198.1 242.8,1263.7 243.0,1270.1 243.2,1241.5 243.4,1254.6 243.6,1290.3 243.8,1254.8 244.0,1286.4 244.2,1235.4 244.4,1317.2 244.6,1246.5 244.8,1255.3 245.0,1246.9 245.2,1253.6 245.4,1173.3 245.6,1255.7 245.8,1231.9 246.0,1268.2 246.2,1239.5 246.4,1232.7 246.6,1302.1 246.8,1274.9 247.0,1264.6 247.2,1235.2 247.4,1253.3 247.6,1233.7 247.8,1287.8 248.0,1315.8 248.2,1274.5 248.4,1227.6 248.6,1262.7 248.8,1254.2 249.0,1254.4 249.2,1259.6 249.4,1264.8 249.6,1245.7 249.8,1219.0 250.0,1285.9 250.2,1243.7 250.4,1231.0 250.6,1264.9 250.8,1241.5 250.9,1271.9 251.1,1263.1 251.3,1258.6 251.5,1240.0 251.7,1240.1 251.9,1277.8 252.1,1259.6 252.3,1254.4 252.5,1257.8 252.7,1173.3 252.9,1271.8 253.1,1276.1 253.3,1256.6 253.5,1304.4 253.7,1261.2 253.9,1267.0 254.1,1240.4 254.3,1247.2 254.5,1272.2 254.7,1263.9 254.9,1264.3 255.1,1276.2 255.3,1290.4 255.5,1245.3 255.7,1244.4 255.9,1285.4 256.1,1292.3 256.3,1262.7 256.5,1243.6 256.7,1280.5 256.9,1251.0 257.1,1250.7 257.3,1238.6 257.5,1276.0 257.7,1250.0 257.9,1261.3 258.1,1261.2 258.3,1265.3 258.5,1223.3 258.7,1254.7 258.9,1270.7 259.1,1232.3 259.3,1222.6 259.5,1281.5 259.7,1266.1 259.9,1246.4 260.1,1255.5 260.3,1274.6 260.5,1247.5 260.7,1256.6 260.9,1238.4 261.1,1216.8 261.2,1266.4 261.4,1237.3 261.6,1266.2 261.8,1259.9 262.0,1284.2 262.2,1277.9 262.4,1273.0 262.6,1218.5 262.8,1261.2 263.0,1233.2 263.2,1297.6 263.4,1254.7 263.6,1252.0 263.8,1248.5 264.0,1273.8 264.2,1239.5 264.4,1276.2 264.6,1260.4 264.8,1254.7 265.0,1283.2 265.2,1253.7 265.4,1281.7 265.6,1293.3 265.8,1240.1 266.0,1226.9 266.2,1285.1 266.4,1271.0 266.6,1284.5 266.8,1255.1 267.0,1314.4 267.2,1255.2 267.4,1208.4 267.6,1276.1 267.8,1281.0 268.0,1269.1 268.2,1238.6 268.4,1287.7 268.6,1284.6 268.8,1253.3 269.0,1248.9 269.2,1264.4 269.4,1255.8 269.6,1242.8 269.8,1307.2 270.0,1219.7 270.2,1236.6 270.4,1253.3 270.6,1244.9 270.8,1271.1 271.0,1243.3 271.2,1271.9 271.4,1261.4 271.6,1264.8 271.7,1256.3 271.9,1230.1 272.1,1240.7 272.3,1239.2 272.5,1258.0 272.7,1285.3 272.9,1224.2 273.1,1259.3 273.3,1240.5 273.5,1256.7 273.7,1257.3 273.9,1254.0 274.1,1247.2 274.3,1258.6 274.5,1238.6 274.7,1270.9 274.9,1238.6 275.1,1250.2 275.3,1254.7 275.5,1227.5 275.7,1236.5 275.9,1273.2 276.1,1255.5 276.3,1270.2 276.5,1276.8 276.7,1250.0 276.9,1288.5 277.1,1233.1 277.3,1223.9 277.5,1266.8 277.7,1268.4 277.9,1255.2 278.1,1279.0 278.3,1234.6 278.5,1173.3 278.7,1243.7 278.9,1249.0 279.1,1244.4 279.3,1273.3 279.5,1296.0 279.7,1242.0 279.9,1252.2 280.1,1254.2 280.3,1231.5 280.5,1288.3 280.7,1277.1 280.9,1291.1 281.1,1213.2 281.3,1255.8 281.5,1239.8 281.7,1285.7 281.9,1290.6 282.1,1255.3 282.2,1242.3 282.4,1253.1 282.6,1259.4 282.8,1183.3 283.0,1279.9 283.2,1208.5 283.4,1292.8 283.6,1287.5 283.8,1262.0 284.0,1263.2 284.2,1239.2 284.4,1276.9 284.6,1283.5 284.8,1258.6 285.0,1243.9 285.2,1227.6 285.4,1277.0 285.6,1257.7 285.8,1234.0 286.0,1207.6 286.2,1253.0 286.4,1266.0 286.6,1283.3 286.8,1248.9 287.0,1293.5 287.2,1243.8 287.4,1255.3 287.6,1264.7 287.8,1244.3 288.0,1279.5 288.2,1250.1 288.4,1249.7 288.6,1215.1 288.8,1246.9 289.0,1252.9 289.2,1249.8 289.4,1238.9 289.6,1255.9 289.8,1250.2 290.0,1235.3 290.2,1269.4 290.4,1272.5 290.6,1282.8 290.8,1228.6 291.0,1230.8 291.2,1248.2 291.4,1225.8 291.6,1227.7 291.8,1214.3 292.0,1227.0 292.2,1221.2 292.4,1245.5 292.5,1236.4 292.7,1281.2 292.9,1239.8 293.1,1304.1 293.3,1232.5 293.5,1298.3 293.7,1265.0 293.9,1241.5 294.1,1262.0 294.3,1252.1 294.5,1173.3 294.7,1219.3 294.9,1235.3 295.1,1262.7 295.3,1219.3 295.5,1268.0 295.7,1253.5 295.9,1266.7 296.1,1238.3 296.3,1228.3 296.5,1274.0 296.7,1292.8 296.9,1245.4 297.1,1250.2 297.3,1244.9 297.5,1262.8 297.7,1229.2 297.9,1257.1 298.1,1261.2 298.3,1284.0 298.5,1259.8 298.7,1267.2 298.9,1260.8 299.1,1259.9 299.3,1317.2 299.5,1066.7 299.7,1256.7 299.9,1223.6 300.1,1261.6 300.3,1254.9 300.5,1275.5 300.7,1266.7 300.9,1204.0 301.1,1279.3 301.3,1269.3 301.5,1255.0 301.7,1293.1 301.9,1240.0 302.1,1240.6 302.3,1248.3 302.5,1284.8 302.7,1274.1 302.9,1266.6 303.0,1272.9 303.2,1220.6 303.4,1268.1 303.6,1263.5 303.8,1260.3 304.0,1275.4 304.2,1276.3 304.4,1250.9 304.6,1232.5 304.8,1266.9 305.0,1253.3 305.2,1257.9 305.4,1275.8 305.6,1268.4 305.8,1264.4 306.0,1282.7 306.2,1276.5 306.4,1242.0 306.6,1260.1 306.8,1269.8 307.0,1253.5 307.2,1250.6 307.4,1273.9 307.6,1259.8 307.8,1299.0 308.0,1065.3 308.2,1234.7 308.4,1254.1 308.6,1236.9 308.8,1244.2 309.0,1286.3 309.2,1228.1 309.4,1243.7 309.6,1238.4 309.8,1285.7 310.0,1277.8 310.2,1265.0 310.4,1284.0 310.6,1244.3 310.8,1263.6 311.0,1287.4 311.2,1250.5 311.4,1256.4 311.6,1261.6 311.8,1278.4 312.0,1257.0 312.2,1259.7 312.4,1278.5 312.6,1238.8 312.8,1262.9 313.0,1257.0 313.2,1259.4 313.4,1317.2 313.5,1274.4 313.7,1261.6 313.9,1284.9 314.1,1248.6 314.3,1264.9 314.5,1257.8 314.7,1248.8 314.9,1079.4 315.1,1260.1 315.3,1288.7 315.5,1225.2 315.7,1203.6 315.9,1305.1 316.1,1252.9 316.3,1273.6 316.5,1173.3 316.7,1245.6 316.9,1306.9 317.1,1278.4 317.3,1259.5 317.5,1208.3 317.7,1233.6 317.9,1223.4 318.1,1259.7 318.3,1254.2 318.5,1245.7 318.7,1281.2 318.9,1267.8 319.1,1232.5 319.3,1256.6 319.5,1305.4 319.7,1251.6 319.9,1292.2 320.1,1317.2 320.3,1203.9 320.5,1247.3 320.7,1247.0 320.9,1284.2 321.1,1271.7 321.3,1247.7 321.5,1251.7 321.7,1273.5 321.9,1264.2 322.1,1278.8 322.3,1246.2 322.5,1260.8 322.7,1221.6 322.9,1276.8 323.1,1241.8 323.3,1254.1 323.5,1263.1 323.7,1216.9 323.8,1224.7 324.0,1266.6 324.2,1221.1 324.4,1291.1 324.6,1270.5 324.8,1284.5 325.0,1265.9 325.2,1248.8 325.4,1263.9 325.6,1258.2 325.8,1214.0 326.0,1259.9 326.2,1270.6 326.4,1240.1 326.6,1262.4 326.8,1228.1 327.0,1279.0 327.2,1268.6 327.4,1253.0 327.6,1281.2 327.8,1253.2 328.0,1262.3 328.2,1276.4 328.4,1265.0 328.6,1275.4 328.8,1239.6 329.0,1276.9 329.2,1194.4 329.4,1252.2 329.6,1246.2 329.8,1248.1 330.0,1256.3 330.2,1242.4 330.4,1256.5 330.6,1263.6 330.8,1254.4 331.0,1248.9 331.2,1287.4 331.4,1248.5 331.6,1249.7 331.8,1257.9 332.0,1271.1 332.2,1235.9 332.4,1255.5 332.6,1242.2 332.8,1229.2 333.0,1291.7 333.2,1287.3 333.4,1237.0 333.6,1281.9 333.8,1288.1 334.0,1237.0 334.2,1243.3 334.3,1249.8 334.5,1255.1 334.7,1263.8 334.9,1242.5 335.1,1264.4 335.3,1261.0 335.5,1235.1 335.7,1209.2 335.9,1297.7 336.1,1294.6 336.3,1278.3 336.5,1250.0 336.7,1250.7 336.9,1283.6 337.1,1251.1 337.3,1236.4 337.5,1231.4 337.7,1244.2 337.9,1262.2 338.1,1240.9 338.3,1280.3 338.5,1260.0 338.7,1237.0 338.9,1272.1 339.1,1277.7 339.3,1224.6 339.5,1283.5 339.7,1247.8 339.9,1211.3 340.1,1248.8 340.3,1264.4 340.5,1250.6 340.7,1239.9 340.9,1262.5 341.1,1260.8 341.3,1223.4 341.5,1240.3 341.7,1240.2 341.9,1195.0 342.1,1260.5 342.3,1218.2 342.5,1271.0 342.7,1225.9 342.9,1227.8 343.1,1286.9 343.3,1067.4 343.5,1253.0 343.7,1254.5 343.9,1276.3 344.1,1262.6 344.3,1241.2 344.5,1266.6 344.7,1268.8 344.8,1247.4 345.0,1263.2 345.2,1265.5 345.4,1251.2 345.6,1253.0 345.8,1231.5 346.0,1195.4 346.2,1250.4 346.4,1177.7 346.6,1240.4 346.8,1260.1 347.0,1273.6 347.2,1307.6 347.4,1246.0 347.6,1256.9 347.8,1244.3 348.0,1266.2 348.2,1254.4 348.4,1239.4 348.6,1266.7 348.8,1218.9 349.0,1271.4 349.2,1219.9 349.4,1254.7 349.6,1253.2 349.8,1269.8 350.0,1302.8 350.2,1218.9 350.4,1259.0 350.6,1265.3 350.8,1232.8 351.0,1262.1 351.2,1225.1 351.4,1304.1 351.6,1255.0 351.8,1300.6 352.0,1281.0 352.2,1247.4 352.4,1254.2 352.6,1256.7 352.8,1239.7 353.0,1281.0 353.2,1233.6 353.4,1222.5 353.6,1284.8 353.8,1250.5 354.0,1256.9 354.2,1262.3 354.4,1216.7 354.6,1269.2 354.8,1283.9 355.0,1317.2 355.1,1240.3 355.3,1271.3 355.5,1271.5 355.7,1263.1 355.9,1277.5 356.1,1237.9 356.3,1271.7 356.5,1252.9 356.7,1277.4 356.9,1266.2 357.1,1267.4 357.3,1244.6 357.5,1225.2 357.7,1246.1 357.9,1263.1 358.1,1267.9 358.3,1270.0 358.5,1282.2 358.7,1265.0 358.9,1246.7 359.1,1225.8 359.3,1245.0 359.5,1225.4 359.7,1243.4 359.9,1271.2 360.1,1250.5 360.3,1249.8 360.5,1213.9 360.7,1248.1 360.9,1251.6 361.1,1280.6 361.3,1254.8 361.5,1268.4 361.7,1260.5 361.9,1204.0 362.1,1262.2 362.3,1315.4 362.5,1240.1 362.7,1276.5 362.9,1243.1 363.1,1253.8 363.3,1246.5 363.5,1265.9 363.7,1267.7 363.9,1269.2 364.1,1247.4 364.3,1279.1 364.5,1281.0 364.7,1295.7 364.9,1254.2 365.1,1251.3 365.3,1286.6 365.5,1242.0 365.6,1173.3 365.8,1250.6 366.0,1220.3 366.2,1267.7 366.4,1210.3 366.6,1255.2 366.8,1273.3 367.0,1225.5 367.2,1256.4 367.4,1264.7 367.6,1269.8 367.8,1232.7 368.0,1239.9 368.2,1270.7 368.4,1279.2 368.6,1243.6 368.8,1229.2 369.0,1264.2 369.2,1246.6 369.4,1249.2 369.6,1254.3 369.8,1231.2 370.0,1241.6 370.2,1275.4 370.4,1253.8 370.6,1282.5 370.8,1276.9 371.0,1253.8 371.2,1264.8 371.4,1268.4 371.6,1253.9 371.8,1249.8 372.0,1252.9 372.2,1296.1 372.4,1254.2 372.6,1246.3 372.8,1221.7 373.0,1252.1 373.2,1240.9 373.4,1256.9 373.6,1317.2 373.8,1241.0 374.0,1240.5 374.2,1242.1 374.4,1273.2 374.6,1289.9 374.8,1239.4 375.0,1240.6 375.2,1317.2 375.4,1286.0 375.6,1256.8 375.8,1233.3 375.9,1265.3 376.1,1256.9 376.3,1225.0 376.5,1250.7 376.7,1237.4 376.9,1252.9 377.1,1226.0 377.3,1257.9 377.5,1202.3 377.7,1245.4 377.9,1248.3 378.1,1243.0 378.3,1241.2 378.5,1253.1 378.7,1261.3 378.9,1227.4 379.1,1253.4 379.3,1251.3 379.5,1287.0 379.7,1267.4 379.9,1286.1 380.1,1245.7 380.3,1265.5 380.5,1278.8 380.7,1229.0 380.9,1253.0 381.1,1262.7 381.3,1206.1 381.5,1248.0 381.7,1304.7 381.9,1226.8 382.1,1297.4 382.3,1199.5 382.5,1216.9 382.7,1272.7 382.9,1242.3 383.1,1287.6 383.3,1255.0 383.5,1293.0 383.7,1254.9 383.9,1252.1 384.1,1233.5 384.3,1266.0 384.5,1218.9 384.7,1317.2 384.9,1278.9 385.1,1235.0 385.3,1257.8 385.5,1289.6 385.7,1224.2 385.9,1253.5 386.1,1273.5 386.3,1265.1 386.4,1252.2 386.6,1256.0 386.8,1277.6 387.0,1252.6 387.2,1235.0 387.4,1274.8 387.6,1255.1 387.8,1262.2 388.0,1257.3 388.2,1241.3 388.4,1277.6 388.6,1273.9 388.8,1260.5 389.0,1238.1 389.2,1234.9 389.4,1256.2 389.6,1255.8 389.8,1263.6 390.0,1272.7 390.2,1245.3 390.4,1247.0 390.6,1254.0 390.8,1225.1 391.0,1249.8 391.2,1268.0 391.4,1254.7 391.6,1275.1 391.8,1252.3 392.0,1238.8 392.2,1280.4 392.4,1271.3 392.6,1236.6 392.8,1265.3 393.0,1296.4 393.2,1278.9 393.4,1256.6 393.6,1261.8 393.8,1230.9 394.0,1252.0 394.2,1266.3 394.4,1251.0 394.6,1267.5 394.8,1290.7 395.0,1254.5 395.2,1295.9 395.4,1230.9 395.6,1291.8 395.8,1262.4 396.0,1227.1 396.2,1249.1 396.4,1225.7 396.6,1259.9 396.8,1274.2 396.9,1212.3 397.1,1293.4 397.3,1299.5 397.5,1269.3 397.7,1297.2 397.9,1291.0 398.1,1244.0 398.3,1264.3 398.5,1249.1 398.7,1232.7 398.9,1236.2 399.1,1253.3 399.3,1231.0 399.5,1317.2 399.7,1209.3 399.9,1276.6 400.1,1293.2 400.3,1273.6 400.5,1283.9 400.7,1274.8 400.9,1300.9 401.1,1317.2 401.3,1228.1 401.5,1276.9 401.7,1259.2 401.9,1252.1 402.1,1258.8 402.3,1186.0 402.5,1236.4 402.7,1192.3 402.9,1257.2 403.1,1284.1 403.3,1266.3 403.5,1267.5 403.7,1244.0 403.9,1246.8 404.1,1244.1 404.3,1259.1 404.5,1213.1 404.7,1297.7 404.9,1235.6 405.1,1226.8 405.3,1290.3 405.5,1265.1 405.7,1274.8 405.9,1206.8 406.1,1249.9 406.3,1262.1 406.5,1239.7 406.7,1277.5 406.9,1275.2 407.1,1270.9 407.2,1270.5 407.4,1278.1 407.6,1220.3 407.8,1263.9 408.0,1261.1 408.2,1258.4 408.4,1254.1 408.6,1261.1 408.8,1254.9 409.0,1263.1 409.2,1267.1 409.4,1252.3 409.6,1272.4 409.8,1233.9 410.0,1272.8 410.2,1259.3 410.4,1285.6 410.6,1250.2 410.8,1256.6 411.0,1274.5 411.2,1261.5 411.4,1281.4 411.6,1268.8 411.8,1256.4 412.0,1239.8 412.2,1244.6 412.4,1242.4 412.6,1250.2 412.8,1248.9 413.0,1265.3 413.2,1232.2 413.4,1240.6 413.6,1261.8 413.8,1264.5 414.0,1262.5 414.2,1275.1 414.4,1245.3 414.6,1263.7 414.8,1276.2 415.0,1271.6 415.2,1245.2 415.4,1228.7 415.6,1278.6 415.8,1283.8 416.0,1268.4 416.2,1268.5 416.4,1243.0 416.6,1255.8 416.8,1261.6 417.0,1270.7 417.2,1261.8 417.4,1269.6 417.6,1268.3 417.7,1261.8 417.9,1262.5 418.1,1252.1 418.3,1201.1 418.5,1267.9 418.7,1272.7 418.9,1272.7 419.1,1263.1 419.3,1256.8 419.5,1225.7 419.7,1259.7 419.9,1226.9 420.1,1270.8 420.3,1259.8 420.5,1279.1 420.7,1269.3 420.9,1267.3 421.1,1265.1 421.3,1253.5 421.5,1173.3 421.7,1277.3 421.9,1273.4 422.1,1252.5 422.3,1276.6 422.5,1275.2 422.7,1246.8 422.9,1251.0 423.1,1243.2 423.3,1288.5 423.5,1257.9 423.7,1245.6 423.9,1249.9 424.1,1243.2 424.3,1317.2 424.5,1256.7 424.7,1245.5 424.9,1232.2 425.1,1259.2 425.3,1285.5 425.5,1065.3 425.7,1247.5 425.9,1260.1 426.1,1229.6 426.3,1228.4 426.5,1250.3 426.7,1264.9 426.9,1240.2 427.1,1237.2 427.3,1249.3 427.5,1261.5 427.7,1253.8 427.9,1243.0 428.1,1272.2 428.2,1218.8 428.4,1274.9 428.6,1268.7 428.8,1276.5 429.0,1224.0 429.2,1257.3 429.4,1252.9 429.6,1249.0 429.8,1271.6 430.0,1250.7 430.2,1251.2 430.4,1273.4 430.6,1271.4 430.8,1248.8 431.0,1278.3 431.2,1260.8 431.4,1257.2 431.6,1275.6 431.8,1316.1 432.0,1281.7 432.2,1255.7 432.4,1234.2 432.6,1241.8 432.8,1238.8 433.0,1265.4 433.2,1238.6 433.4,1224.8 433.6,1258.0 433.8,1251.8 434.0,1265.2 434.2,1222.8 434.4,1263.9 434.6,1221.7 434.8,1261.6 435.0,1229.3 435.2,1290.9 435.4,1245.5 435.6,1284.9 435.8,1223.7 436.0,1173.3 436.2,1317.2 436.4,1265.4 436.6,1284.9 436.8,1197.4 437.0,1235.9 437.2,1245.7 437.4,1225.9 437.6,1236.4 437.8,1279.3 438.0,1262.9 438.2,1259.3 438.4,1239.5 438.5,1261.7 438.7,1271.6 438.9,1272.4 439.1,1235.3 439.3,1272.3 439.5,1250.4 439.7,1253.4 439.9,1314.3 440.1,1242.9 440.3,1250.6 440.5,1269.2 440.7,1244.0 440.9,1263.3 441.1,1258.5 441.3,1248.2 441.5,1260.7 441.7,1284.9 441.9,1256.3 442.1,1242.3 442.3,1222.5 442.5,1244.6 442.7,1235.9 442.9,1279.1 443.1,1247.2 443.3,1282.3 443.5,1234.3 443.7,1260.6 443.9,1258.5 444.1,1283.6 444.3,1241.7 444.5,1294.4 444.7,1239.0 444.9,1257.5 445.1,1251.3 445.3,1296.2 445.5,1269.8 445.7,1237.3 445.9,1294.9 446.1,1251.8 446.3,1250.5 446.5,1230.8 446.7,1292.2 446.9,1267.9 447.1,1263.1 447.3,1270.0 447.5,1255.2 447.7,1268.4 447.9,1257.8 448.1,1275.1 448.3,1279.1 448.5,1224.4 448.7,1255.4 448.9,1208.6 449.0,1245.3 449.2,1254.2 449.4,1258.1 449.6,1254.5 449.8,1222.1 450.0,1245.0 450.2,1240.3 450.4,1258.0 450.6,1275.5 450.8,1225.0 451.0,1265.6 451.2,1262.3 451.4,1256.9 451.6,1262.0 451.8,1271.4 452.0,1252.2 452.2,1241.0 452.4,1304.7 452.6,1221.8 452.8,1261.0 453.0,1195.7 453.2,1238.6 453.4,1247.6 453.6,1244.4 453.8,1212.3 454.0,1266.8 454.2,1240.6 454.4,1233.9 454.6,1247.8 454.8,1267.1 455.0,1314.8 455.2,1262.9 455.4,1258.1 455.6,1261.5 455.8,1212.0 456.0,1240.0 456.2,1266.8 456.4,1269.6 456.6,1251.3 456.8,1254.5 457.0,1263.1 457.2,1245.0 457.4,1262.2 457.6,1284.2 457.8,1242.9 458.0,1258.1 458.2,1249.3 458.4,1250.2 458.6,1279.4 458.8,1280.0 459.0,1274.2 459.2,1269.4 459.4,1310.5 459.5,1254.0 459.7,1269.8 459.9,1260.8 460.1,1263.0 460.3,1286.8 460.5,1263.4 460.7,1256.4 460.9,1256.1 461.1,1264.2 461.3,1204.4 461.5,1260.4 461.7,1241.7 461.9,1292.7 462.1,1243.7 462.3,1258.8 462.5,1229.6 462.7,1246.0 462.9,1272.5 463.1,1317.2 463.3,1256.6 463.5,1237.5 463.7,1261.6 463.9,1265.7 464.1,1270.0 464.3,1256.2 464.5,1265.4 464.7,1272.7 464.9,1247.1 465.1,1209.3 465.3,1266.5 465.5,1255.5 465.7,1236.9 465.9,1267.0 466.1,1229.8 466.3,1296.0 466.5,1270.8 466.7,1251.0 466.9,1265.3 467.1,1297.3 467.3,1235.2 467.5,1228.4 467.7,1317.2 467.9,1264.0 468.1,1292.9 468.3,1247.2 468.5,1255.5 468.7,1254.4 468.9,1271.7 469.1,1269.7 469.3,1263.3 469.5,1260.1 469.7,1273.3 469.8,1246.9 470.0,1253.6 470.2,1259.9 470.4,1246.9 470.6,1251.2 470.8,1240.8 471.0,1262.8 471.2,1280.7 471.4,1227.9 471.6,1248.2 471.8,1248.3 472.0,1240.4 472.2,1288.2 472.4,1217.3 472.6,1249.8 472.8,1274.3 473.0,1266.5 473.2,1307.5 473.4,1250.7 473.6,1264.6 473.8,1257.2 474.0,1262.0 474.2,1291.9 474.4,1277.8 474.6,1273.8 474.8,1257.8 475.0,1074.5 475.2,1228.6 475.4,1260.6 475.6,1283.6 475.8,1258.8 476.0,1311.1 476.2,1263.5 476.4,1285.0 476.6,1236.9 476.8,1221.0 477.0,1271.2 477.2,1281.9 477.4,1240.0 477.6,1286.4 477.8,1262.7 478.0,1265.9 478.2,1264.5 478.4,1269.5 478.6,1245.3 478.8,1240.0 479.0,1256.7 479.2,1241.7 479.4,1301.8 479.6,1255.0 479.8,1269.9 480.0,1247.0 480.2,1251.3 480.3,1236.1 480.5,1067.4 480.7,1268.0 480.9,1261.6 481.1,1246.2 481.3,1271.0 481.5,1244.0 481.7,1265.7 481.9,1250.7 482.1,1232.4 482.3,1259.5 482.5,1271.4 482.7,1244.8 482.9,1248.1 483.1,1311.7 483.3,1264.9 483.5,1258.3 483.7,1267.8 483.9,1226.1 484.1,1267.6 484.3,1234.3 484.5,1270.5 484.7,1259.9 484.9,1268.7 485.1,1230.9 485.3,1300.4 485.5,1256.4 485.7,1251.0 485.9,1285.3 486.1,1267.2 486.3,1252.4 486.5,1251.1 486.7,1224.6 486.9,1254.6 487.1,1218.4 487.3,1246.8 487.5,1194.7 487.7,1220.8 487.9,1254.8 488.1,1281.4 488.3,1260.6 488.5,1258.0 488.7,1285.8 488.9,1271.3 489.1,1257.5 489.3,1236.9 489.5,1255.3 489.7,1250.2 489.9,1183.2 490.1,1257.5 490.3,1242.6 490.5,1230.3 490.6,1254.0 490.8,1219.2 491.0,1317.2 491.2,1194.9 491.4,1199.2 491.6,1255.6 491.8,1245.7 492.0,1311.2 492.2,1248.8 492.4,1253.2 492.6,1292.1 492.8,1236.1 493.0,1237.8 493.2,1305.3 493.4,1280.8 493.6,1278.5 493.8,1239.1 494.0,1297.9 494.2,1265.8 494.4,1250.6 494.6,1259.9 494.8,1292.8 495.0,1274.8 495.2,1271.3 495.4,1264.4 495.6,1264.1 495.8,1254.1 496.0,1229.8 496.2,1260.1 496.4,1240.7 496.6,1269.4 496.8,1250.4 497.0,1245.6 497.2,1242.6 497.4,1256.2 497.6,1279.0 497.8,1273.1 498.0,1289.4 498.2,1280.4 498.4,1266.6 498.6,1245.8 498.8,1261.9 499.0,1275.2 499.2,1258.9 499.4,1280.2 499.6,1253.6 499.8,1268.7 500.0,1240.1 500.2,1249.1 500.4,1256.7 500.6,1262.1 500.8,1251.2 501.0,1270.0 501.1,1239.4 501.3,1278.1 501.5,1261.6 501.7,1178.2 501.9,1220.6 502.1,1263.1 502.3,1255.2 502.5,1280.0 502.7,1241.3 502.9,1253.0 503.1,1223.7 503.3,1304.0 503.5,1285.0 503.7,1189.2 503.9,1261.1 504.1,1259.6 504.3,1270.3 504.5,1270.7 504.7,1268.0 504.9,1248.3 505.1,1242.5 505.3,1253.2 505.5,1266.3 505.7,1285.1 505.9,1269.9 506.1,1278.6 506.3,1239.7 506.5,1257.5 506.7,1270.7 506.9,1289.0 507.1,1286.6 507.3,1258.3 507.5,1272.2 507.7,1284.8 507.9,1229.6 508.1,1256.0 508.3,1293.0 508.5,1252.4 508.7,1231.5 508.9,1262.5 509.1,1252.0 509.3,1193.3 509.5,1234.1 509.7,1286.7 509.9,1263.0 510.1,1317.2 510.3,1253.0 510.5,1251.0 510.7,1277.8 510.9,1283.6 511.1,1231.2 511.3,1267.1 511.5,1245.1 511.6,1271.3 511.8,1238.4 512.0,1232.7 512.2,1238.4 512.4,1257.8 512.6,1248.7 512.8,1272.8 513.0,1235.9 513.2,1236.4 513.4,1242.8 513.6,1276.3 513.8,1244.6 514.0,1268.5 514.2,1275.8 514.4,1239.1 514.6,1173.3 514.8,1263.8 515.0,1284.7 515.2,1208.0 515.4,1231.6 515.6,1250.8 515.8,1262.3 516.0,1262.3" fill="none" stroke="#808080" stroke-width="2.7" stroke-linejoin="miter" stroke-miterlimit="2"/>
<line x1="162.2" y1="1034.4" x2="162.2" y2="1319.2" stroke="#000" stroke-width="2.6"/>
<line x1="153.2" y1="1317.9" x2="588.0" y2="1317.9" stroke="#000" stroke-width="2.6"/>
<line x1="153.2" y1="1317.9" x2="162.2" y2="1317.9" stroke="#000" stroke-width="2.6"/>
<text x="148.50" y="1326.50" text-anchor="end" fill="#000" style="font-family:'Liberation Sans',Arial,sans-serif;font-weight:bold;font-size:24.5px;letter-spacing:1px">0</text>
<line x1="153.2" y1="1247.4" x2="162.2" y2="1247.4" stroke="#000" stroke-width="2.6"/>
<text x="148.50" y="1255.95" text-anchor="end" fill="#000" style="font-family:'Liberation Sans',Arial,sans-serif;font-weight:bold;font-size:24.5px;letter-spacing:1px">100</text>
<line x1="153.2" y1="1176.8" x2="162.2" y2="1176.8" stroke="#000" stroke-width="2.6"/>
<text x="148.50" y="1185.40" text-anchor="end" fill="#000" style="font-family:'Liberation Sans',Arial,sans-serif;font-weight:bold;font-size:24.5px;letter-spacing:1px">200</text>
<line x1="153.2" y1="1106.2" x2="162.2" y2="1106.2" stroke="#000" stroke-width="2.6"/>
<text x="148.50" y="1114.85" text-anchor="end" fill="#000" style="font-family:'Liberation Sans',Arial,sans-serif;font-weight:bold;font-size:24.5px;letter-spacing:1px">300</text>
<line x1="153.2" y1="1035.7" x2="162.2" y2="1035.7" stroke="#000" stroke-width="2.6"/>
<text x="148.50" y="1044.30" text-anchor="end" fill="#000" style="font-family:'Liberation Sans',Arial,sans-serif;font-weight:bold;font-size:24.5px;letter-spacing:1px">400</text>
<line x1="162.2" y1="1317.9" x2="162.2" y2="1326.9" stroke="#000" stroke-width="2.6"/>
<text x="162.70" y="1349.60" text-anchor="middle" fill="#000" style="font-family:'Liberation Sans',Arial,sans-serif;font-weight:bold;font-size:24.5px;letter-spacing:1px">0</text>
<line x1="303.7" y1="1317.9" x2="303.7" y2="1326.9" stroke="#000" stroke-width="2.6"/>
<text x="304.20" y="1349.60" text-anchor="middle" fill="#000" style="font-family:'Liberation Sans',Arial,sans-serif;font-weight:bold;font-size:24.5px;letter-spacing:1px">100</text>
<line x1="445.2" y1="1317.9" x2="445.2" y2="1326.9" stroke="#000" stroke-width="2.6"/>
<text x="445.70" y="1349.60" text-anchor="middle" fill="#000" style="font-family:'Liberation Sans',Arial,sans-serif;font-weight:bold;font-size:24.5px;letter-spacing:1px">200</text>
<line x1="586.7" y1="1317.9" x2="586.7" y2="1326.9" stroke="#000" stroke-width="2.6"/>
<text x="587.20" y="1349.60" text-anchor="middle" fill="#000" style="font-family:'Liberation Sans',Arial,sans-serif;font-weight:bold;font-size:24.5px;letter-spacing:1px">300</text>
<text x="376.90" y="1375.90" text-anchor="middle" fill="#000" style="font-family:'Liberation Sans',Arial,sans-serif;font-weight:bold;font-size:24.5px;letter-spacing:2.3px">Time (s)</text>
<text x="93.00" y="1164.50" text-anchor="middle" fill="#000" style="font-family:'Liberation Sans',Arial,sans-serif;font-weight:bold;font-size:24.5px;letter-spacing:2.2px" transform="rotate(-90 93.0 1164.5000000000002)">phtocurrent (μA)</text>
<polyline points="721.9,1165.8 722.1,1208.6 722.2,1102.0 722.4,1137.1 722.6,1123.4 722.7,1210.9 722.9,1134.1 723.1,1204.7 723.2,1169.3 723.4,1146.5 723.6,1167.4 723.7,1183.6 723.9,1084.8 724.1,1129.6 724.2,1157.3 724.4,1228.7 724.6,1141.0 724.7,1167.9 724.9,1215.4 725.1,1156.2 725.3,1212.1 725.4,1178.6 725.6,1109.5 725.8,1196.8 725.9,1161.3 726.1,1217.3 726.3,1167.8 726.4,1201.4 726.6,1211.3 726.8,1178.4 726.9,1222.7 727.1,1091.8 727.3,1118.4 727.4,1180.7 727.6,1198.2 727.8,1195.8 727.9,1195.6 728.1,1186.1 728.3,1168.8 728.4,1160.8 728.6,1110.2 728.8,1257.9 728.9,1135.8 729.1,1147.7 729.3,1173.7 729.4,1160.5 729.6,1176.9 729.8,1088.1 729.9,1169.1 730.1,1134.5 730.3,1193.0 730.4,1110.6 730.6,1165.0 730.8,1168.7 730.9,1136.3 731.1,1164.8 731.3,1197.6 731.5,1188.0 731.6,1175.6 731.8,1241.6 732.0,1269.3 732.1,1163.9 732.3,1124.1 732.5,1176.7 732.6,1166.7 732.8,1218.8 733.0,1212.2 733.1,1141.1 733.3,1136.9 733.5,1265.0 733.6,1150.2 733.8,1087.7 734.0,1180.6 734.1,1187.3 734.3,1189.8 734.5,1136.9 734.6,1238.2 734.8,1215.9 735.0,1119.3 735.1,1143.0 735.3,1148.8 735.5,1227.2 735.6,1167.6 735.8,1209.1 736.0,1182.2 736.1,1214.0 736.3,1200.5 736.5,1136.8 736.6,1164.3 736.8,1187.9 737.0,1154.5 737.1,1193.0 737.3,1282.6 737.5,1248.8 737.7,1221.2 737.8,1147.3 738.0,1190.1 738.2,1220.6 738.3,1184.9 738.5,1232.1 738.7,1125.3 738.8,1189.7 739.0,1233.7 739.2,1167.3 739.3,1163.8 739.5,1217.1 739.7,1181.1 739.8,1192.4 740.0,1166.4 740.2,1193.6 740.3,1265.8 740.5,1188.7 740.7,1093.2 740.8,1174.2 741.0,1193.2 741.2,1136.8 741.3,1209.7 741.5,1136.3 741.7,1184.8 741.8,1225.4 742.0,1153.7 742.2,1095.9 742.3,1248.3 742.5,1178.4 742.7,1167.6 742.8,1157.2 743.0,1161.7 743.2,1176.6 743.3,1162.1 743.5,1200.5 743.7,1185.9 743.9,1176.0 744.0,1222.6 744.2,1207.4 744.4,1167.5 744.5,1191.4 744.7,1176.7 744.9,1169.2 745.0,1183.1 745.2,1188.4 745.4,1166.5 745.5,1160.4 745.7,1180.6 745.9,1196.1 746.0,1160.3 746.2,1189.8 746.4,1229.5 746.5,1209.7 746.7,1140.6 746.9,1213.5 747.0,1226.1 747.2,1145.1 747.4,1239.9 747.5,1173.2 747.7,1211.1 747.9,1242.7 748.0,1264.0 748.2,1186.2 748.4,1138.5 748.5,1223.5 748.7,1213.8 748.9,1202.2 749.0,1160.1 749.2,1178.7 749.4,1186.0 749.5,1243.1 749.7,1221.3 749.9,1194.0 750.1,1190.1 750.2,1108.7 750.4,1227.9 750.6,1173.5 750.7,1173.4 750.9,1229.5 751.1,1232.3 751.2,1182.1 751.4,1213.1 751.6,1192.3 751.7,1187.1 751.9,1163.1 752.1,1209.1 752.2,1188.4 752.4,1163.4 752.6,1183.1 752.7,1223.9 752.9,1199.9 753.1,1184.6 753.2,1180.3 753.4,1204.1 753.6,1201.6 753.7,1238.6 753.9,1222.9 754.1,1175.9 754.2,1211.6 754.4,1184.4 754.6,1215.7 754.7,1196.3 754.9,1187.7 755.1,1205.8 755.2,1172.9 755.4,1208.0 755.6,1211.9 755.7,1203.1 755.9,1223.0 756.1,1236.8 756.3,1232.8 756.4,1182.2 756.6,1195.6 756.8,1192.8 756.9,1217.5 757.1,1232.6 757.3,1193.9 757.4,1167.0 757.6,1195.1 757.8,1155.1 757.9,1229.6 758.1,1213.3 758.3,1259.9 758.4,1190.4 758.6,1157.8 758.8,1197.5 758.9,1245.5 759.1,1216.8 759.3,1203.2 759.4,1205.1 759.6,1220.1 759.8,1175.9 759.9,1185.9 760.1,1250.5 760.3,1205.1 760.4,1207.5 760.6,1170.4 760.8,1209.5 760.9,1206.6 761.1,1249.2 761.3,1233.6 761.4,1199.5 761.6,1276.6 761.8,1197.2 761.9,1204.6 762.1,1249.6 762.3,1192.4 762.5,1238.8 762.6,1305.1 762.8,1162.4 763.0,1182.0 763.1,1209.5 763.3,1186.9 763.5,1189.3 763.6,1178.4 763.8,1314.9 764.0,1226.5 764.1,1180.0 764.3,1252.7 764.5,1269.6 764.6,1254.0 764.8,1282.2 765.0,1147.1 765.1,1224.5 765.3,1246.2 765.5,1218.2 765.6,1239.3 765.8,1223.1 766.0,1214.0 766.1,1216.4 766.3,1203.4 766.5,1176.7 766.6,1232.9 766.8,1230.8 767.0,1194.4 767.1,1129.6 767.3,1229.5 767.5,1175.2 767.6,1248.6 767.8,1211.1 768.0,1203.6 768.1,1185.8 768.3,1204.4 768.5,1173.8 768.7,1217.7 768.8,1238.3 769.0,1111.5 769.2,1256.7 769.3,1217.8 769.5,1234.7 769.7,1211.7 769.8,1151.4 770.0,1264.9 770.2,1238.6 770.3,1180.2 770.5,1213.2 770.7,1197.4 770.8,1225.9 771.0,1196.2 771.2,1184.4 771.3,1263.9 771.5,1235.4 771.7,1262.4 771.8,1233.1 772.0,1261.3 772.2,1222.7 772.3,1194.8 772.5,1235.2 772.7,1219.1 772.8,1224.4 773.0,1251.8 773.2,1280.2 773.3,1228.6 773.5,1201.2 773.7,1179.1 773.8,1239.9 774.0,1181.7 774.2,1125.3 774.3,1223.2 774.5,1286.5 774.7,1197.3 774.9,1254.1 775.0,1191.9 775.2,1203.2 775.4,1204.2 775.5,1196.8 775.7,1216.5 775.9,1219.8 776.0,1229.8 776.2,1209.4 776.4,1215.6 776.5,1229.0 776.7,1216.7 776.9,1166.2 777.0,1264.5 777.2,1235.9 777.4,1248.3 777.5,1192.6 777.7,1234.3 777.9,1215.4 778.0,1238.1 778.2,1194.3 778.4,1188.0 778.5,1216.5 778.7,1205.1 778.9,1193.0 779.0,1187.5 779.2,1315.6 779.4,1232.2 779.5,1255.5 779.7,1185.1 779.9,1197.5 780.0,1268.5 780.2,1226.5 780.4,1179.7 780.5,1122.7 780.7,1239.4 780.9,1224.9 781.1,1210.7 781.2,1219.7 781.4,1202.6 781.6,1218.8 781.7,1172.6 781.9,1237.2 782.1,1206.3 782.2,1252.5 782.4,1208.3 782.6,1170.8 782.7,1235.0 782.9,1253.4 783.1,1233.1 783.2,1244.6 783.4,1290.8 783.6,1270.2 783.7,1248.3 783.9,1139.1 784.1,1233.5 784.2,1156.1 784.4,1279.7 784.6,1244.9 784.7,1218.3 784.9,1206.7 785.1,1248.0 785.2,1292.1 785.4,1226.7 785.6,1238.2 785.7,1228.6 785.9,1257.8 786.1,1239.7 786.2,1181.5 786.4,1244.1 786.6,1195.3 786.7,1232.0 786.9,1262.7 787.1,1221.0 787.3,1218.9 787.4,1237.1 787.6,1202.7 787.8,1245.1 787.9,1245.3 788.1,1185.3 788.3,1179.5 788.4,1303.6 788.6,1194.8 788.8,1243.1 788.9,1155.1 789.1,1247.4 789.3,1249.4 789.4,1238.5 789.6,1229.2 789.8,1182.3 789.9,1274.3 790.1,1180.8 790.3,1271.9 790.4,1241.8 790.6,1198.3 790.8,1249.5 790.9,1223.8 791.1,1224.1 791.3,1204.3 791.4,1194.7 791.6,1208.6 791.8,1189.1 791.9,1153.3 792.1,1232.6 792.3,1210.0 792.4,1300.1 792.6,1243.4 792.8,1226.9 792.9,1232.1 793.1,1232.1 793.3,1217.6 793.5,1203.1 793.6,1266.5 793.8,1251.6 794.0,1255.8 794.1,1278.1 794.3,1243.6 794.5,1232.2 794.6,1192.3 794.8,1238.6 795.0,1197.3 795.1,1183.5 795.3,1214.4 795.5,1204.8 795.6,1174.1 795.8,1228.8 796.0,1225.3 796.1,1263.1 796.3,1241.4 796.5,1248.7 796.6,1212.7 796.8,1225.7 797.0,1272.5 797.1,1225.8 797.3,1228.6 797.5,1225.9 797.6,1281.0 797.8,1214.8 798.0,1243.7 798.1,1264.0 798.3,1202.1 798.5,1196.8 798.6,1191.6 798.8,1227.5 799.0,1232.5 799.1,1181.9 799.3,1188.8 799.5,1154.0 799.7,1227.0 799.8,1194.7 800.0,1247.7 800.2,1200.6 800.3,1194.5 800.5,1237.6 800.7,1273.1 800.8,1241.5 801.0,1220.2 801.2,1186.7 801.3,1220.8 801.5,1189.1 801.7,1228.4 801.8,1192.3 802.0,1201.5 802.2,1209.1 802.3,1177.1 802.5,1315.6 802.7,1197.1 802.8,1231.5 803.0,1169.4 803.2,1206.7 803.3,1166.8 803.5,1160.5 803.7,1219.6 803.8,1165.4 804.0,1232.5 804.2,1214.8 804.3,1235.4 804.5,1246.6 804.7,1237.5 804.8,1234.6 805.0,1226.8 805.2,1160.0 805.3,1247.7 805.5,1182.4 805.7,1269.0 805.9,1233.6 806.0,1206.8 806.2,1193.5 806.4,1198.7 806.5,1168.0 806.7,1247.0 806.9,1181.4 807.0,1246.2 807.2,1198.1 807.4,1279.1 807.5,1216.9 807.7,1255.7 807.9,1273.4 808.0,1196.3 808.2,1217.6 808.4,1257.5 808.5,1274.7 808.7,1232.3 808.9,1216.0 809.0,1164.3 809.2,1220.8 809.4,1205.3 809.5,1209.7 809.7,1225.0 809.9,1093.2 810.0,1194.3 810.2,1282.8 810.4,1265.2 810.5,1213.4 810.7,1249.2 810.9,1160.7 811.0,1184.6 811.2,1193.8 811.4,1226.9 811.5,1261.6 811.7,1211.6 811.9,1209.7 812.1,1196.3 812.2,1236.7 812.4,1204.6 812.6,1201.8 812.7,1230.7 812.9,1224.9 813.1,1250.1 813.2,1219.6 813.4,1210.3 813.6,1210.3 813.7,1171.6 813.9,1226.0 814.1,1218.7 814.2,1221.1 814.4,1249.7 814.6,1237.0 814.7,1214.3 814.9,1169.7 815.1,1215.6 815.2,1207.8 815.4,1235.3 815.6,1184.2 815.7,1253.7 815.9,1234.0 816.1,1075.7 816.2,1205.0 816.4,1211.3 816.6,1184.6 816.7,1187.6 816.9,1220.3 817.1,1284.4 817.2,1217.5 817.4,1226.9 817.6,1289.1 817.7,1272.2 817.9,1211.0 818.1,1254.2 818.3,1199.4 818.4,1146.9 818.6,1276.4 818.8,1262.1 818.9,1229.5 819.1,1253.4 819.3,1197.8 819.4,1195.9 819.6,1202.2 819.8,1233.8 819.9,1192.1 820.1,1244.1 820.3,1228.8 820.4,1218.8 820.6,1244.7 820.8,1195.1 820.9,1239.6 821.1,1200.8 821.3,1233.2 821.4,1226.2 821.6,1203.8 821.8,1141.6 821.9,1257.0 822.1,1231.4 822.3,1227.6 822.4,1075.7 822.6,1196.9 822.8,1222.1 822.9,1212.5 823.1,1224.7 823.3,1227.4 823.4,1191.4 823.6,1195.5 823.8,1187.5 823.9,1260.6 824.1,1242.8 824.3,1225.1 824.5,1232.0 824.6,1245.0 824.8,1180.7 825.0,1218.7 825.1,1206.5 825.3,1173.9 825.5,1250.8 825.6,1274.5 825.8,1221.8 826.0,1152.4 826.1,1203.4 826.3,1219.7 826.5,1170.9 826.6,1200.2 826.8,1202.9 827.0,1192.0 827.1,1224.4 827.3,1212.8 827.5,1202.6 827.6,1167.7 827.8,1211.5 828.0,1205.0 828.1,1193.4 828.3,1265.5 828.5,1264.5 828.6,1238.4 828.8,1249.0 829.0,1243.9 829.1,1231.0 829.3,1219.7 829.5,1205.4 829.6,1297.2 829.8,1226.3 830.0,1196.6 830.1,1197.3 830.3,1229.7 830.5,1208.0 830.7,1232.5 830.8,1189.6 831.0,1222.3 831.2,1252.3 831.3,1242.7 831.5,1252.7 831.7,1208.6 831.8,1177.7 832.0,1221.5 832.2,1257.5 832.3,1274.1 832.5,1223.8 832.7,1219.2 832.8,1235.9 833.0,1250.4 833.2,1280.0 833.3,1221.4 833.5,1228.7 833.7,1205.0 833.8,1223.8 834.0,1276.7 834.2,1200.5 834.3,1246.7 834.5,1261.5 834.7,1177.8 834.8,1242.7 835.0,1215.0 835.2,1170.3 835.3,1269.5 835.5,1239.6 835.7,1282.0 835.8,1249.0 836.0,1262.0 836.2,1210.4 836.3,1282.5 836.5,1212.6 836.7,1203.1 836.9,1229.7 837.0,1265.0 837.2,1284.5 837.4,1271.0 837.5,1274.3 837.7,1221.3 837.9,1235.1 838.0,1188.1 838.2,1224.1 838.4,1259.7 838.5,1198.6 838.7,1214.9 838.9,1236.9 839.0,1272.8 839.2,1197.8 839.4,1238.1 839.5,1215.4 839.7,1247.7 839.9,1205.4 840.0,1207.8 840.2,1250.3 840.4,1211.4 840.5,1266.4 840.7,1188.6 840.9,1301.2 841.0,1196.8 841.2,1223.8 841.4,1200.0 841.5,1218.3 841.7,1205.4 841.9,1267.3 842.0,1216.9 842.2,1192.0 842.4,1244.0 842.5,1238.3 842.7,1172.0 842.9,1185.4 843.1,1227.0 843.2,1195.4 843.4,1179.0 843.6,1209.3 843.7,1248.6 843.9,1265.6 844.1,1195.6 844.2,1285.9 844.4,1199.9 844.6,1195.9 844.7,1188.7 844.9,1189.6 845.1,1207.4 845.2,1228.1 845.4,1264.2 845.6,1228.7 845.7,1265.4 845.9,1256.2 846.1,1281.3 846.2,1167.0 846.4,1261.4 846.6,1270.1 846.7,1247.1 846.9,1269.1 847.1,1191.5 847.2,1210.7 847.4,1234.6 847.6,1237.1 847.7,1205.6 847.9,1180.8 848.1,1185.3 848.2,1230.2 848.4,1233.0 848.6,1263.5 848.7,1203.6 848.9,1258.3 849.1,1210.3 849.3,1222.7 849.4,1268.4 849.6,1171.7 849.8,1255.6 849.9,1256.7 850.1,1245.2 850.3,1200.0 850.4,1245.0 850.6,1274.4 850.8,1244.4 850.9,1191.3 851.1,1224.2 851.3,1182.6 851.4,1209.6 851.6,1211.6 851.8,1198.6 851.9,1214.2 852.1,1179.7 852.3,1193.5 852.4,1159.8 852.6,1236.1 852.8,1286.5 852.9,1230.9 853.1,1235.1 853.3,1199.6 853.4,1168.3 853.6,1194.0 853.8,1227.3 853.9,1237.4 854.1,1181.9 854.3,1198.2 854.4,1166.2 854.6,1199.8 854.8,1199.1 854.9,1179.6 855.1,1259.3 855.3,1231.5 855.5,1224.2 855.6,1204.6 855.8,1267.5 856.0,1232.3 856.1,1241.4 856.3,1224.0 856.5,1289.4 856.6,1243.1 856.8,1175.2 857.0,1219.9 857.1,1272.3 857.3,1225.5 857.5,1249.8 857.6,1217.0 857.8,1180.2 858.0,1110.8 858.1,1218.2 858.3,1160.9 858.5,1175.9 858.6,1250.1 858.8,1241.1 859.0,1209.5 859.1,1275.8 859.3,1187.8 859.5,1238.8 859.6,1189.9 859.8,1244.3 860.0,1202.7 860.1,1268.0 860.3,1216.5 860.5,1226.8 860.6,1211.9 860.8,1200.2 861.0,1204.1 861.1,1191.1 861.3,1209.9 861.5,1185.6 861.7,1222.0 861.8,1230.9 862.0,1230.7 862.2,1204.4 862.3,1233.0 862.5,1269.8 862.7,1219.4 862.8,1263.8 863.0,1246.4 863.2,1284.0 863.3,1206.6 863.5,1213.6 863.7,1265.9 863.8,1205.0 864.0,1192.7 864.2,1216.4 864.3,1212.9 864.5,1230.4 864.7,1225.8 864.8,1232.4 865.0,1190.8 865.2,1223.6 865.3,1283.7 865.5,1200.1 865.7,1210.5 865.8,1183.4 866.0,1256.0 866.2,1206.6 866.3,1210.4 866.5,1184.7 866.7,1293.4 866.8,1247.6 867.0,1212.8 867.2,1211.9 867.3,1208.4 867.5,1226.5 867.7,1136.4 867.9,1226.0 868.0,1195.9 868.2,1237.5 868.4,1228.0 868.5,1234.7 868.7,1237.7 868.9,1216.8 869.0,1210.4 869.2,1242.1 869.4,1242.0 869.5,1223.8 869.7,1180.9 869.9,1220.3 870.0,1237.5 870.2,1255.1 870.4,1226.7 870.5,1250.2 870.7,1244.4 870.9,1223.0 871.0,1264.1 871.2,1170.4 871.4,1223.9 871.5,1253.1 871.7,1246.4 871.9,1215.7 872.0,1234.6 872.2,1260.6 872.4,1226.7 872.5,1290.6 872.7,1217.4 872.9,1234.3 873.0,1227.4 873.2,1231.8 873.4,1215.7 873.5,1230.5 873.7,1223.7 873.9,1259.9 874.1,1183.3 874.2,1220.4 874.4,1245.9 874.6,1247.3 874.7,1233.8 874.9,1228.5 875.1,1184.2 875.2,1225.9 875.4,1230.0 875.6,1261.4 875.7,1233.6 875.9,1297.3 876.1,1233.9 876.2,1247.1 876.4,1283.3 876.6,1178.6 876.7,1212.5 876.9,1247.2 877.1,1176.9 877.2,1260.8 877.4,1240.5 877.6,1196.7 877.7,1206.4 877.9,1183.1 878.1,1216.5 878.2,1184.8 878.4,1206.5 878.6,1209.7 878.7,1200.1 878.9,1148.9 879.1,1229.4 879.2,1262.9 879.4,1212.1 879.6,1190.3 879.7,1236.9 879.9,1242.0 880.1,1255.8 880.3,1239.6 880.4,1241.4 880.6,1217.7 880.8,1218.8 880.9,1223.4 881.1,1262.3 881.3,1231.7 881.4,1166.4 881.6,1225.9 881.8,1240.2 881.9,1271.5 882.1,1283.5 882.3,1207.6 882.4,1238.6 882.6,1244.4 882.8,1239.8 882.9,1192.1 883.1,1065.9 883.3,1161.9 883.4,1211.9 883.6,1308.4 883.8,1146.8 883.9,1187.4 884.1,1232.4 884.3,1292.9 884.4,1214.6 884.6,1206.6 884.8,1221.9 884.9,1172.8 885.1,1293.2 885.3,1242.5 885.4,1207.9 885.6,1228.1 885.8,1210.6 885.9,1215.3 886.1,1235.3 886.3,1211.2 886.5,1236.8 886.6,1200.2 886.8,1264.3 887.0,1260.1 887.1,1234.7 887.3,1184.6 887.5,1267.6 887.6,1259.7 887.8,1161.4 888.0,1227.0 888.1,1248.3 888.3,1233.8 888.5,1289.7 888.6,1200.9 888.8,1194.2 889.0,1263.6 889.1,1279.1 889.3,1244.8 889.5,1250.4 889.6,1257.8 889.8,1254.9 890.0,1201.8 890.1,1206.1 890.3,1241.0 890.5,1180.7 890.6,1273.8 890.8,1237.4 891.0,1186.4 891.1,1244.1 891.3,1259.2 891.5,1204.7 891.6,1178.7 891.8,1160.6 892.0,1179.9 892.1,1266.3 892.3,1224.0 892.5,1188.4 892.7,1232.0 892.8,1223.2 893.0,1211.7 893.2,1196.8 893.3,1250.1 893.5,1211.3 893.7,1257.2 893.8,1207.5 894.0,1213.5 894.2,1209.2 894.3,1242.8 894.5,1178.1 894.7,1266.4 894.8,1231.7 895.0,1216.8 895.2,1236.8 895.3,1254.1 895.5,1161.1 895.7,1238.8 895.8,1278.4 896.0,1214.4 896.2,1228.3 896.3,1244.6 896.5,1235.1 896.7,1161.2 896.8,1243.0 897.0,1219.4 897.2,1248.0 897.3,1177.0 897.5,1240.6 897.7,1258.0 897.8,1226.6 898.0,1193.9 898.2,1200.2 898.3,1199.5 898.5,1212.6 898.7,1162.3 898.9,1223.7 899.0,1236.5 899.2,1211.2 899.4,1274.6 899.5,1223.2 899.7,1243.2 899.9,1242.2 900.0,1219.6 900.2,1183.4 900.4,1243.4 900.5,1242.7 900.7,1200.7 900.9,1225.8 901.0,1179.2 901.2,1180.3 901.4,1184.6 901.5,1198.7 901.7,1236.7 901.9,1239.3 902.0,1204.6 902.2,1191.7 902.4,1198.2 902.5,1253.0 902.7,1233.5 902.9,1231.2 903.0,1198.2 903.2,1235.5 903.4,1215.0 903.5,1233.4 903.7,1214.5 903.9,1247.6 904.0,1237.9 904.2,1173.9 904.4,1260.7 904.5,1263.2 904.7,1211.7 904.9,1259.4 905.1,1267.6 905.2,1234.7 905.4,1188.2 905.6,1256.8 905.7,1205.8 905.9,1297.8 906.1,1290.1 906.2,1208.8 906.4,1266.0 906.6,1194.0 906.7,1254.4 906.9,1224.0 907.1,1203.8 907.2,1267.4 907.4,1278.0 907.6,1241.3 907.7,1245.5 907.9,1223.6 908.1,1200.9 908.2,1218.0 908.4,1252.6 908.6,1206.1 908.7,1190.0 908.9,1199.6 909.1,1210.3 909.2,1203.9 909.4,1242.7 909.6,1260.7 909.7,1236.5 909.9,1205.3 910.1,1256.1 910.2,1202.2 910.4,1244.4 910.6,1284.1 910.7,1281.8 910.9,1233.0 911.1,1192.0 911.3,1216.2 911.4,1241.0 911.6,1228.2 911.8,1260.7 911.9,1251.4 912.1,1231.5 912.3,1196.9 912.4,1239.9 912.6,1237.2 912.8,1254.5 912.9,1281.5 913.1,1256.2 913.3,1231.3 913.4,1193.0 913.6,1217.0 913.8,1172.4 913.9,1280.6 914.1,1204.0 914.3,1200.9 914.4,1282.3 914.6,1308.5 914.8,1278.1 914.9,1198.9 915.1,1236.8 915.3,1243.4 915.4,1242.7 915.6,1250.1 915.8,1230.3 915.9,1212.1 916.1,1209.8 916.3,1245.8 916.4,1216.6 916.6,1195.7 916.8,1219.3 916.9,1227.9 917.1,1250.8 917.3,1247.9 917.5,1197.8 917.6,1177.9 917.8,1251.3 918.0,1272.7 918.1,1197.2 918.3,1215.1 918.5,1196.0 918.6,1216.1 918.8,1240.9 919.0,1247.5 919.1,1299.3 919.3,1191.6 919.5,1196.3 919.6,1315.6 919.8,1236.1 920.0,1268.8 920.1,1161.0 920.3,1215.8 920.5,1239.0 920.6,1217.2 920.8,1314.9 921.0,1222.1 921.1,1250.9 921.3,1211.5 921.5,1216.2 921.6,1283.6 921.8,1223.9 922.0,1233.0 922.1,1274.6 922.3,1226.8 922.5,1247.0 922.6,1245.8 922.8,1212.9 923.0,1244.5 923.1,1177.4 923.3,1174.1 923.5,1207.4 923.7,1214.4 923.8,1231.4 924.0,1239.8 924.2,1226.5 924.3,1224.3 924.5,1246.2 924.7,1175.5 924.8,1219.1 925.0,1242.1 925.2,1219.2 925.3,1261.6 925.5,1201.7 925.7,1209.8 925.8,1219.6 926.0,1258.6 926.2,1260.7 926.3,1267.2 926.5,1259.6 926.7,1237.5 926.8,1291.8 927.0,1170.5 927.2,1204.6 927.3,1208.0 927.5,1214.3 927.7,1257.6 927.8,1217.9 928.0,1251.7 928.2,1245.7 928.3,1207.7 928.5,1216.6 928.7,1274.9 928.8,1250.8 929.0,1202.8 929.2,1231.3 929.3,1209.5 929.5,1274.5 929.7,1227.9 929.9,1168.1 930.0,1242.8 930.2,1243.0 930.4,1200.7 930.5,1272.5 930.7,1242.7 930.9,1233.5 931.0,1231.7 931.2,1265.3 931.4,1249.7 931.5,1173.7 931.7,1191.5 931.9,1171.9 932.0,1275.8 932.2,1257.9 932.4,1246.4 932.5,1240.3 932.7,1196.3 932.9,1232.0 933.0,1196.5 933.2,1196.3 933.4,1192.0 933.5,1213.4 933.7,1197.5 933.9,1208.1 934.0,1248.3 934.2,1233.5 934.4,1231.5 934.5,1216.9 934.7,1270.8 934.9,1233.9 935.0,1219.0 935.2,1251.7 935.4,1187.7 935.5,1214.9 935.7,1214.8 935.9,1231.2 936.1,1221.1 936.2,1247.7 936.4,1194.0 936.6,1204.4 936.7,1261.5 936.9,1290.3 937.1,1243.5 937.2,1208.3 937.4,1228.9 937.6,1269.5 937.7,1222.3 937.9,1308.8 938.1,1227.7 938.2,1241.4 938.4,1231.3 938.6,1257.4 938.7,1172.8 938.9,1238.3 939.1,1211.5 939.2,1223.8 939.4,1212.4 939.6,1225.6 939.7,1207.7 939.9,1245.6 940.1,1257.3 940.2,1259.3 940.4,1272.6 940.6,1220.3 940.7,1187.9 940.9,1236.1 941.1,1161.9 941.2,1258.3 941.4,1186.1 941.6,1247.4 941.7,1194.4 941.9,1257.2 942.1,1143.9 942.3,1250.3 942.4,1292.8 942.6,1204.2 942.8,1243.7 942.9,1250.5 943.1,1240.7 943.3,1288.5 943.4,1246.9 943.6,1178.9 943.8,1185.8 943.9,1223.3 944.1,1214.7 944.3,1292.8 944.4,1233.8 944.6,1188.3 944.8,1255.0 944.9,1210.2 945.1,1201.6 945.3,1183.7 945.4,1294.7 945.6,1193.8 945.8,1286.9 945.9,1226.6 946.1,1245.7 946.3,1252.9 946.4,1225.7 946.6,1202.4 946.8,1197.3 946.9,1232.1 947.1,1185.2 947.3,1217.2 947.4,1227.6 947.6,1222.8 947.8,1202.9 947.9,1215.8 948.1,1234.9 948.3,1241.6 948.5,1206.8 948.6,1221.0 948.8,1237.5 949.0,1247.4 949.1,1186.0 949.3,1241.5 949.5,1193.2 949.6,1298.4 949.8,1233.1 950.0,1244.6 950.1,1308.4 950.3,1280.5 950.5,1234.8 950.6,1271.7 950.8,1238.8 951.0,1216.3 951.1,1210.6 951.3,1218.1 951.5,1223.0 951.6,1187.4 951.8,1226.5 952.0,1278.9 952.1,1268.7 952.3,1225.8 952.5,1258.0 952.6,1227.1 952.8,1250.0 953.0,1237.2 953.1,1286.5 953.3,1237.7 953.5,1260.0 953.6,1257.0 953.8,1233.1 954.0,1222.7 954.1,1315.6 954.3,1243.6 954.5,1198.3 954.7,1270.0 954.8,1269.7 955.0,1188.4 955.2,1277.6 955.3,1243.2 955.5,1189.5 955.7,1188.5 955.8,1241.8 956.0,1231.8 956.2,1238.0 956.3,1154.5 956.5,1214.4 956.7,1242.7 956.8,1266.5 957.0,1217.9 957.2,1215.7 957.3,1203.5 957.5,1190.6 957.7,1291.4 957.8,1188.5 958.0,1252.7 958.2,1224.5 958.3,1204.5 958.5,1221.5 958.7,1221.6 958.8,1223.8 959.0,1234.6 959.2,1218.9 959.3,1278.9 959.5,1236.0 959.7,1273.2 959.8,1310.6 960.0,1222.5 960.2,1236.8 960.3,1300.2 960.5,1185.2 960.7,1180.0 960.9,1228.3 961.0,1173.5 961.2,1294.3 961.4,1239.1 961.5,1243.1 961.7,1240.7 961.9,1241.7 962.0,1275.4 962.2,1220.8 962.4,1263.4 962.5,1253.0 962.7,1186.7 962.9,1229.5 963.0,1263.9 963.2,1158.3 963.4,1234.5 963.5,1238.1 963.7,1235.0 963.9,1237.5 964.0,1284.3 964.2,1230.4 964.4,1206.4 964.5,1200.1 964.7,1238.2 964.9,1232.2 965.0,1266.0 965.2,1248.3 965.4,1267.9 965.5,1268.7 965.7,1146.5 965.9,1202.9 966.0,1303.3 966.2,1203.1 966.4,1252.1 966.5,1217.1 966.7,1265.7 966.9,1244.0 967.1,1257.5 967.2,1166.8 967.4,1229.8 967.6,1245.0 967.7,1235.4 967.9,1229.0 968.1,1204.8 968.2,1250.9 968.4,1223.8 968.6,1280.7 968.7,1215.8 968.9,1211.5 969.1,1269.1 969.2,1252.7 969.4,1242.5 969.6,1221.6 969.7,1200.5 969.9,1190.0 970.1,1239.7 970.2,1256.3 970.4,1199.7 970.6,1234.2 970.7,1257.4 970.9,1231.1 971.1,1131.1 971.2,1241.3 971.4,1253.5 971.6,1208.8 971.7,1222.5 971.9,1245.5 972.1,1268.7 972.2,1184.5 972.4,1234.9 972.6,1201.5 972.7,1269.3 972.9,1301.1 973.1,1264.7 973.3,1079.2 973.4,1240.1 973.6,1187.3 973.8,1246.3 973.9,1216.9 974.1,1209.2 974.3,1291.9 974.4,1236.8 974.6,1243.7 974.8,1277.7 974.9,1255.5 975.1,1291.8 975.3,1231.4 975.4,1208.5 975.6,1236.5 975.8,1247.4 975.9,1205.5 976.1,1238.8 976.3,1200.1 976.4,1136.1 976.6,1261.5 976.8,1206.5 976.9,1237.3 977.1,1230.3 977.3,1244.4 977.4,1315.6 977.6,1234.5 977.8,1255.6 977.9,1246.3 978.1,1201.8 978.3,1161.3 978.4,1202.0 978.6,1264.0 978.8,1244.9 978.9,1196.5 979.1,1235.5 979.3,1271.6 979.5,1072.2 979.6,1255.5 979.8,1315.6 980.0,1241.1 980.1,1250.7 980.3,1241.3 980.5,1199.3 980.6,1158.8 980.8,1246.7 981.0,1215.2 981.1,1223.3 981.3,1229.1 981.5,1240.0 981.6,1249.9 981.8,1312.8 982.0,1258.6 982.1,1219.3 982.3,1273.9 982.5,1231.2 982.6,1210.8 982.8,1185.6 983.0,1195.4 983.1,1194.9 983.3,1258.6 983.5,1284.7 983.6,1282.4 983.8,1247.5 984.0,1235.6 984.1,1201.0 984.3,1231.1 984.5,1307.1 984.6,1251.0 984.8,1229.2 985.0,1283.2 985.1,1259.8 985.3,1214.2 985.5,1216.2 985.7,1209.8 985.8,1080.6 986.0,1268.5 986.2,1234.0 986.3,1237.3 986.5,1204.3 986.7,1253.8 986.8,1198.7 987.0,1118.3 987.2,1242.2 987.3,1201.8 987.5,1268.1 987.7,1254.2 987.8,1196.1 988.0,1212.6 988.2,1230.3 988.3,1256.2 988.5,1219.9 988.7,1285.4 988.8,1202.6 989.0,1249.3 989.2,1230.5 989.3,1243.4 989.5,1191.9 989.7,1218.2 989.8,1260.6 990.0,1265.0 990.2,1237.9 990.3,1265.3 990.5,1168.1 990.7,1258.8 990.8,1251.0 991.0,1271.7 991.2,1245.6 991.3,1204.0 991.5,1203.0 991.7,1228.7 991.9,1249.7 992.0,1185.9 992.2,1213.8 992.4,1202.2 992.5,1243.2 992.7,1230.7 992.9,1211.1 993.0,1265.4 993.2,1244.9 993.4,1230.5 993.5,1190.0 993.7,1225.2 993.9,1215.5 994.0,1234.2 994.2,1225.2 994.4,1247.7 994.5,1194.4 994.7,1202.5 994.9,1209.1 995.0,1205.1 995.2,1174.5 995.4,1196.1 995.5,1173.1 995.7,1274.5 995.9,1246.2 996.0,1249.4 996.2,1253.3 996.4,1258.4 996.5,1260.9 996.7,1283.0 996.9,1129.5 997.0,1279.0 997.2,1247.0 997.4,1201.6 997.5,1248.5 997.7,1180.6 997.9,1315.6 998.1,1214.5 998.2,1273.2 998.4,1215.9 998.6,1251.8 998.7,1176.2 998.9,1174.9 999.1,1315.6 999.2,1298.7 999.4,1315.6 999.6,1290.9 999.7,1246.1 999.9,1265.1 1000.1,1314.7 1000.2,1236.4 1000.4,1134.3 1000.6,1315.6 1000.7,1112.9 1000.9,1256.2 1001.1,1068.8 1001.2,1250.7 1001.4,1315.6 1001.6,1226.9 1001.7,1209.6 1001.9,1253.0 1002.1,1253.1 1002.2,1202.2 1002.4,1163.5 1002.6,1100.8 1002.7,1172.1 1002.9,1130.4 1003.1,1085.2 1003.2,1140.8 1003.4,1181.9 1003.6,1128.2 1003.7,1175.7 1003.9,1104.9 1004.1,1150.2 1004.3,1306.7 1004.4,1173.5 1004.6,1135.9 1004.8,1178.6 1004.9,1183.8 1005.1,1204.5 1005.3,1274.3 1005.4,1158.2 1005.6,1131.5 1005.8,1065.9 1005.9,1223.8 1006.1,1283.7 1006.3,1181.8 1006.4,1256.0 1006.6,1220.3 1006.8,1213.6 1006.9,1155.7 1007.1,1152.6 1007.3,1280.3 1007.4,1085.2 1007.6,1201.9 1007.8,1260.2 1007.9,1093.1 1008.1,1076.3 1008.3,1095.6 1008.4,1315.6 1008.6,1098.6 1008.8,1198.9 1008.9,1292.3 1009.1,1257.3 1009.3,1315.6 1009.4,1133.0 1009.6,1273.4 1009.8,1084.4 1009.9,1137.6 1010.1,1126.5 1010.3,1230.1 1010.5,1157.1 1010.6,1120.5 1010.8,1244.0 1011.0,1187.4 1011.1,1071.4 1011.3,1124.5 1011.5,1105.2 1011.6,1268.7 1011.8,1231.5 1012.0,1228.5 1012.1,1272.4 1012.3,1142.0 1012.5,1315.6 1012.6,1225.3 1012.8,1219.1 1013.0,1237.6 1013.1,1149.7 1013.3,1073.1 1013.5,1222.2 1013.6,1209.6 1013.8,1081.4 1014.0,1067.5 1014.1,1140.7 1014.3,1069.1 1014.5,1086.4 1014.6,1245.9 1014.8,1183.0 1015.0,1152.8 1015.1,1070.8 1015.3,1202.0 1015.5,1257.6 1015.6,1139.1 1015.8,1199.2 1016.0,1262.6 1016.1,1215.4 1016.3,1265.9 1016.5,1164.8 1016.7,1229.8 1016.8,1258.7 1017.0,1195.3 1017.2,1128.4 1017.3,1229.8 1017.5,1300.8 1017.7,1144.8 1017.8,1091.2 1018.0,1120.3 1018.2,1188.8 1018.3,1145.6 1018.5,1298.0 1018.7,1079.8 1018.8,1090.8 1019.0,1194.7 1019.2,1124.5 1019.3,1134.9 1019.5,1111.4 1019.7,1149.9 1019.8,1315.6 1020.0,1195.3 1020.2,1230.9 1020.3,1098.6 1020.5,1181.6 1020.7,1151.2 1020.8,1200.5 1021.0,1238.7 1021.2,1093.1 1021.3,1238.0 1021.5,1163.9 1021.7,1286.6 1021.8,1161.0 1022.0,1151.8 1022.2,1183.6 1022.3,1183.9 1022.5,1101.2 1022.7,1067.5 1022.9,1134.7 1023.0,1185.2 1023.2,1126.5 1023.4,1213.3 1023.5,1147.4 1023.7,1180.4 1023.9,1243.0 1024.0,1192.5 1024.2,1089.8 1024.4,1275.6 1024.5,1106.3 1024.7,1222.9 1024.9,1123.3 1025.0,1167.6 1025.2,1223.7 1025.4,1207.1 1025.5,1315.6 1025.7,1315.6 1025.9,1163.1 1026.0,1193.2 1026.2,1257.7 1026.4,1154.2 1026.5,1188.8 1026.7,1157.4 1026.9,1223.2 1027.0,1228.9 1027.2,1149.3 1027.4,1301.5 1027.5,1269.7 1027.7,1215.2 1027.9,1206.7 1028.0,1166.2 1028.2,1177.3 1028.4,1242.1 1028.5,1223.5 1028.7,1258.3 1028.9,1267.1 1029.1,1107.7 1029.2,1127.7 1029.4,1315.6 1029.6,1099.2 1029.7,1252.6 1029.9,1201.7 1030.1,1106.6 1030.2,1236.8 1030.4,1199.9 1030.6,1206.9 1030.7,1161.3 1030.9,1263.5 1031.1,1144.4 1031.2,1234.0 1031.4,1106.6 1031.6,1178.6 1031.7,1157.3 1031.9,1128.4 1032.1,1183.5 1032.2,1139.9 1032.4,1224.0 1032.6,1181.3 1032.7,1092.5 1032.9,1110.4 1033.1,1081.0 1033.2,1207.7 1033.4,1228.2 1033.6,1223.5 1033.7,1146.9 1033.9,1156.9 1034.1,1160.5 1034.2,1195.8 1034.4,1134.9 1034.6,1135.8 1034.7,1102.1 1034.9,1079.6 1035.1,1315.6 1035.3,1251.9 1035.4,1147.7 1035.6,1088.7 1035.8,1173.2 1035.9,1180.6 1036.1,1316.3 1036.3,1176.4 1036.4,1146.7 1036.6,1242.8 1036.8,1191.6 1036.9,1270.2 1037.1,1187.8 1037.3,1190.6 1037.4,1161.0 1037.6,1159.7 1037.8,1168.1 1037.9,1176.1 1038.1,1195.6 1038.3,1101.9 1038.4,1130.6 1038.6,1221.2 1038.8,1151.5 1038.9,1183.1 1039.1,1231.8 1039.3,1180.9 1039.4,1089.5 1039.6,1091.4 1039.8,1204.2 1039.9,1139.9 1040.1,1243.7 1040.3,1298.5 1040.4,1093.1 1040.6,1225.3 1040.8,1111.7 1040.9,1127.4 1041.1,1164.3 1041.3,1137.3 1041.5,1180.5 1041.6,1195.2 1041.8,1115.3 1042.0,1100.5 1042.1,1260.9 1042.3,1315.6 1042.5,1142.6 1042.6,1069.9 1042.8,1228.1 1043.0,1245.7 1043.1,1310.2 1043.3,1211.7 1043.5,1233.6 1043.6,1174.8 1043.8,1091.1 1044.0,1115.6 1044.1,1140.5 1044.3,1122.0 1044.5,1158.7 1044.6,1208.6 1044.8,1169.2 1045.0,1249.5 1045.1,1168.2 1045.3,1254.8 1045.5,1262.4 1045.6,1279.2 1045.8,1288.8 1046.0,1195.9 1046.1,1065.6 1046.3,1123.5 1046.5,1231.9 1046.6,1158.3 1046.8,1164.5 1047.0,1226.8 1047.1,1195.8 1047.3,1202.9 1047.5,1198.0 1047.7,1168.7 1047.8,1263.9 1048.0,1227.1 1048.2,1171.9 1048.3,1181.7 1048.5,1246.5 1048.7,1064.5 1048.8,1237.6 1049.0,1080.4 1049.2,1207.2 1049.3,1138.2 1049.5,1286.5 1049.7,1194.0 1049.8,1181.3 1050.0,1199.0 1050.2,1075.7 1050.3,1258.4 1050.5,1088.8 1050.7,1100.7 1050.8,1245.4 1051.0,1244.9 1051.2,1211.2 1051.3,1126.2 1051.5,1269.2 1051.7,1225.2 1051.8,1170.3 1052.0,1193.9 1052.2,1141.6 1052.3,1183.0 1052.5,1143.4 1052.7,1107.7 1052.8,1176.4 1053.0,1171.1 1053.2,1254.0 1053.3,1229.1 1053.5,1125.4 1053.7,1315.6 1053.9,1207.8 1054.0,1186.2 1054.2,1309.8 1054.4,1117.3 1054.5,1145.2 1054.7,1213.5 1054.9,1065.9 1055.0,1271.8 1055.2,1135.3 1055.4,1071.2 1055.5,1084.4 1055.7,1200.0 1055.9,1160.7 1056.0,1220.0 1056.2,1157.8 1056.4,1212.0 1056.5,1315.6 1056.7,1308.9 1056.9,1168.9 1057.0,1244.6 1057.2,1102.2 1057.4,1223.8 1057.5,1073.4 1057.7,1084.8 1057.9,1193.1 1058.0,1270.5 1058.2,1103.7 1058.4,1176.1 1058.5,1166.4 1058.7,1101.9 1058.9,1274.9 1059.0,1149.0 1059.2,1202.8 1059.4,1230.8 1059.5,1154.0 1059.7,1235.2 1059.9,1268.3 1060.1,1281.0 1060.2,1164.1 1060.4,1288.4 1060.6,1233.5 1060.7,1192.8 1060.9,1285.5 1061.1,1265.4 1061.2,1173.6 1061.4,1161.1 1061.6,1221.6 1061.7,1183.5 1061.9,1151.9 1062.1,1303.0 1062.2,1165.3 1062.4,1134.2 1062.6,1256.1 1062.7,1256.6 1062.9,1259.4 1063.1,1305.3 1063.2,1253.4 1063.4,1183.1 1063.6,1189.9 1063.7,1193.1 1063.9,1188.9 1064.1,1194.1 1064.2,1142.2 1064.4,1221.1 1064.6,1189.0 1064.7,1209.7 1064.9,1290.4 1065.1,1072.4 1065.2,1184.5 1065.4,1152.4 1065.6,1080.0 1065.7,1286.1 1065.9,1242.0 1066.1,1193.4 1066.3,1171.9 1066.4,1145.5 1066.6,1149.3 1066.8,1085.4 1066.9,1183.7 1067.1,1216.3 1067.3,1212.1 1067.4,1069.4 1067.6,1075.4 1067.8,1269.0 1067.9,1213.0 1068.1,1171.7 1068.3,1135.9 1068.4,1302.2 1068.6,1176.3 1068.8,1180.5 1068.9,1299.0 1069.1,1214.4 1069.3,1267.8 1069.4,1129.7 1069.6,1180.9 1069.8,1203.4 1069.9,1232.3 1070.1,1234.2 1070.3,1071.3 1070.4,1236.8 1070.6,1074.3 1070.8,1182.2 1070.9,1094.8 1071.1,1065.5 1071.3,1108.4 1071.4,1168.0 1071.6,1198.0 1071.8,1154.7 1071.9,1155.2 1072.1,1211.6 1072.3,1173.4 1072.5,1268.0 1072.6,1215.9 1072.8,1253.7 1073.0,1065.5 1073.1,1238.6 1073.3,1109.9 1073.5,1142.8 1073.6,1241.4 1073.8,1136.1" fill="none" stroke="#170f8c" stroke-width="2.4" stroke-linejoin="miter" stroke-miterlimit="2"/>
<line x1="721.9" y1="1034.4" x2="721.9" y2="1317.6" stroke="#000" stroke-width="2.6"/>
<line x1="712.9" y1="1316.3" x2="1142.1" y2="1316.3" stroke="#000" stroke-width="2.6"/>
<line x1="712.9" y1="1316.3" x2="721.9" y2="1316.3" stroke="#000" stroke-width="2.6"/>
<text x="706.90" y="1324.90" text-anchor="end" fill="#000" style="font-family:'Liberation Sans',Arial,sans-serif;font-weight:bold;font-size:24.5px;letter-spacing:1px">0</text>
<line x1="712.9" y1="1246.1" x2="721.9" y2="1246.1" stroke="#000" stroke-width="2.6"/>
<text x="706.90" y="1254.75" text-anchor="end" fill="#000" style="font-family:'Liberation Sans',Arial,sans-serif;font-weight:bold;font-size:24.5px;letter-spacing:1px">100</text>
<line x1="712.9" y1="1176.0" x2="721.9" y2="1176.0" stroke="#000" stroke-width="2.6"/>
<text x="706.90" y="1184.60" text-anchor="end" fill="#000" style="font-family:'Liberation Sans',Arial,sans-serif;font-weight:bold;font-size:24.5px;letter-spacing:1px">200</text>
<line x1="712.9" y1="1105.8" x2="721.9" y2="1105.8" stroke="#000" stroke-width="2.6"/>
<text x="706.90" y="1114.45" text-anchor="end" fill="#000" style="font-family:'Liberation Sans',Arial,sans-serif;font-weight:bold;font-size:24.5px;letter-spacing:1px">300</text>
<line x1="712.9" y1="1035.7" x2="721.9" y2="1035.7" stroke="#000" stroke-width="2.6"/>
<text x="706.90" y="1044.30" text-anchor="end" fill="#000" style="font-family:'Liberation Sans',Arial,sans-serif;font-weight:bold;font-size:24.5px;letter-spacing:1px">400</text>
<line x1="721.9" y1="1316.3" x2="721.9" y2="1325.3" stroke="#000" stroke-width="2.6"/>
<text x="722.40" y="1349.60" text-anchor="middle" fill="#000" style="font-family:'Liberation Sans',Arial,sans-serif;font-weight:bold;font-size:24.5px;letter-spacing:1px">0</text>
<line x1="826.6" y1="1316.3" x2="826.6" y2="1325.3" stroke="#000" stroke-width="2.6"/>
<text x="827.13" y="1349.60" text-anchor="middle" fill="#000" style="font-family:'Liberation Sans',Arial,sans-serif;font-weight:bold;font-size:24.5px;letter-spacing:1px">100</text>
<line x1="931.4" y1="1316.3" x2="931.4" y2="1325.3" stroke="#000" stroke-width="2.6"/>
<text x="931.86" y="1349.60" text-anchor="middle" fill="#000" style="font-family:'Liberation Sans',Arial,sans-serif;font-weight:bold;font-size:24.5px;letter-spacing:1px">200</text>
<line x1="1036.1" y1="1316.3" x2="1036.1" y2="1325.3" stroke="#000" stroke-width="2.6"/>
<text x="1036.59" y="1349.60" text-anchor="middle" fill="#000" style="font-family:'Liberation Sans',Arial,sans-serif;font-weight:bold;font-size:24.5px;letter-spacing:1px">300</text>
<line x1="1140.8" y1="1316.3" x2="1140.8" y2="1325.3" stroke="#000" stroke-width="2.6"/>
<text x="1141.32" y="1349.60" text-anchor="middle" fill="#000" style="font-family:'Liberation Sans',Arial,sans-serif;font-weight:bold;font-size:24.5px;letter-spacing:1px">400</text>
<text x="925.90" y="1375.90" text-anchor="middle" fill="#000" style="font-family:'Liberation Sans',Arial,sans-serif;font-weight:bold;font-size:24.5px;letter-spacing:2.3px">Time (s)</text>
<text x="654.00" y="1163.70" text-anchor="middle" fill="#000" style="font-family:'Liberation Sans',Arial,sans-serif;font-weight:bold;font-size:24.5px;letter-spacing:2.2px" transform="rotate(-90 654.0 1163.7)">phtocurrent (μA)</text>
<polyline points="1278.7,1241.0 1279.1,1265.0 1279.5,1239.6 1279.8,1183.2 1280.2,1232.6 1280.6,1181.1 1281.0,1210.1 1281.4,1226.0 1281.7,1178.4 1282.1,1219.0 1282.5,1239.2 1282.9,1293.8 1283.3,1273.0 1283.6,1240.6 1284.0,1219.7 1284.4,1215.3 1284.8,1198.3 1285.2,1229.6 1285.5,1192.2 1285.9,1225.4 1286.3,1225.7 1286.7,1237.0 1287.1,1226.8 1287.4,1285.5 1287.8,1179.4 1288.2,1224.4 1288.6,1263.2 1289.0,1271.1 1289.3,1206.5 1289.7,1236.5 1290.1,1234.3 1290.5,1276.8 1290.9,1200.3 1291.2,1253.9 1291.6,1265.1 1292.0,1262.9 1292.4,1227.8 1292.8,1251.2 1293.1,1242.9 1293.5,1210.5 1293.9,1229.4 1294.3,1232.4 1294.7,1235.8 1295.0,1247.3 1295.4,1223.3 1295.8,1218.7 1296.2,1216.4 1296.6,1313.6 1296.9,1275.5 1297.3,1246.5 1297.7,1281.0 1298.1,1218.2 1298.5,1237.6 1298.8,1237.7 1299.2,1272.0 1299.6,1234.4 1300.0,1248.0 1300.4,1229.6 1300.7,1242.3 1301.1,1255.9 1301.5,1191.3 1301.9,1243.3 1302.3,1218.7 1302.6,1266.3 1303.0,1289.2 1303.4,1241.5 1303.8,1246.4 1304.2,1201.6 1304.5,1236.4 1304.9,1239.6 1305.3,1270.5 1305.7,1212.4 1306.1,1247.7 1306.4,1222.9 1306.8,1295.2 1307.2,1261.6 1307.6,1199.3 1308.0,1236.5 1308.3,1121.2 1308.7,1203.5 1309.1,1253.1 1309.5,1237.3 1309.9,1215.6 1310.2,1209.4 1310.6,1235.6 1311.0,1219.1 1311.4,1253.1 1311.8,1223.7 1312.1,1240.9 1312.5,1193.8 1312.9,1238.6 1313.3,1246.4 1313.7,1212.8 1314.0,1217.5 1314.4,1246.1 1314.8,1232.6 1315.2,1196.9 1315.6,1207.7 1315.9,1209.2 1316.3,1241.1 1316.7,1214.4 1317.1,1235.0 1317.5,1266.1 1317.8,1200.4 1318.2,1243.0 1318.6,1270.7 1319.0,1220.6 1319.4,1244.4 1319.7,1217.1 1320.1,1230.6 1320.5,1222.8 1320.9,1234.3 1321.3,1256.5 1321.6,1211.2 1322.0,1255.0 1322.4,1262.9 1322.8,1238.8 1323.2,1292.5 1323.5,1271.6 1323.9,1225.8 1324.3,1254.1 1324.7,1217.4 1325.1,1193.2 1325.4,1215.0 1325.8,1250.6 1326.2,1279.4 1326.6,1263.8 1327.0,1210.3 1327.3,1260.6 1327.7,1288.5 1328.1,1207.4 1328.5,1237.1 1328.9,1248.5 1329.2,1263.2 1329.6,1244.5 1330.0,1274.8 1330.4,1262.1 1330.8,1246.8 1331.1,1228.6 1331.5,1254.2 1331.9,1263.7 1332.3,1217.6 1332.7,1285.7 1333.0,1242.8 1333.4,1215.9 1333.8,1224.7 1334.2,1221.1 1334.6,1231.8 1334.9,1227.9 1335.3,1260.7 1335.7,1261.9 1336.1,1205.8 1336.5,1246.9 1336.8,1268.1 1337.2,1279.0 1337.6,1306.3 1338.0,1265.7 1338.4,1246.1 1338.7,1222.3 1339.1,1240.3 1339.5,1210.1 1339.9,1226.8 1340.3,1223.1 1340.6,1263.7 1341.0,1236.4 1341.4,1309.7 1341.8,1218.8 1342.2,1279.8 1342.5,1243.1 1342.9,1222.1 1343.3,1219.7 1343.7,1264.6 1344.1,1247.8 1344.4,1195.5 1344.8,1233.1 1345.2,1208.0 1345.6,1246.1 1346.0,1172.5 1346.3,1092.3 1346.7,1244.5 1347.1,1255.3 1347.5,1209.1 1347.9,1245.5 1348.2,1236.2 1348.6,1287.8 1349.0,1170.0 1349.4,1268.9 1349.8,1231.4 1350.1,1241.1 1350.5,1288.9 1350.9,1252.9 1351.3,1255.9 1351.7,1229.8 1352.0,1225.0 1352.4,1225.8 1352.8,1242.0 1353.2,1185.8 1353.6,1225.3 1353.9,1243.9 1354.3,1240.9 1354.7,1265.0 1355.1,1219.2 1355.5,1274.5 1355.8,1219.0 1356.2,1229.2 1356.6,1237.1 1357.0,1288.3 1357.4,1236.1 1357.7,1200.9 1358.1,1203.7 1358.5,1218.1 1358.9,1296.8 1359.3,1229.0 1359.6,1256.9 1360.0,1254.4 1360.4,1234.3 1360.8,1252.6 1361.2,1282.8 1361.5,1250.6 1361.9,1268.7 1362.3,1225.8 1362.7,1202.0 1363.1,1242.1 1363.4,1268.3 1363.8,1237.3 1364.2,1296.5 1364.6,1229.9 1365.0,1266.1 1365.3,1268.5 1365.7,1266.7 1366.1,1199.6 1366.5,1217.1 1366.9,1218.4 1367.2,1239.8 1367.6,1229.4 1368.0,1257.8 1368.4,1256.7 1368.8,1278.3 1369.1,1253.3 1369.5,1227.4 1369.9,1233.0 1370.3,1249.7 1370.7,1290.4 1371.0,1227.7 1371.4,1239.8 1371.8,1293.5 1372.2,1264.5 1372.6,1206.8 1372.9,1282.0 1373.3,1243.2 1373.7,1226.7 1374.1,1238.8 1374.5,1253.7 1374.8,1239.1 1375.2,1221.1 1375.6,1285.3 1376.0,1292.0 1376.4,1208.5 1376.7,1245.9 1377.1,1191.0 1377.5,1271.9 1377.9,1232.0 1378.3,1278.2 1378.6,1257.7 1379.0,1258.1 1379.4,1276.0 1379.8,1222.1 1380.2,1273.7 1380.5,1250.6 1380.9,1187.9 1381.3,1237.8 1381.7,1270.2 1382.1,1308.6 1382.4,1214.1 1382.8,1223.6 1383.2,1286.4 1383.6,1254.8 1384.0,1281.8 1384.3,1257.2 1384.7,1279.0 1385.1,1294.0 1385.5,1257.8 1385.9,1243.8 1386.2,1284.4 1386.6,1206.5 1387.0,1226.7 1387.4,1273.0 1387.8,1290.1 1388.1,1241.0 1388.5,1259.3 1388.9,1235.1 1389.3,1297.6 1389.7,1233.8 1390.0,1221.6 1390.4,1230.8 1390.8,1291.7 1391.2,1275.9 1391.6,1245.8 1391.9,1224.1 1392.3,1314.8 1392.7,1248.7 1393.1,1307.7 1393.5,1220.8 1393.8,1289.3 1394.2,1221.6 1394.6,1219.2 1395.0,1195.5 1395.4,1238.9 1395.7,1272.7 1396.1,1291.0 1396.5,1279.2 1396.9,1299.5 1397.3,1235.8 1397.6,1255.4 1398.0,1298.9 1398.4,1279.9 1398.8,1256.5 1399.2,1240.2 1399.5,1223.8 1399.9,1228.0 1400.3,1269.1 1400.7,1270.7 1401.1,1247.4 1401.4,1193.2 1401.8,1240.3 1402.2,1245.9 1402.6,1253.2 1403.0,1308.5 1403.3,1272.9 1403.7,1265.6 1404.1,1211.7 1404.5,1258.8 1404.9,1291.8 1405.2,1224.5 1405.6,1266.6 1406.0,1200.0 1406.4,1239.7 1406.8,1245.8 1407.1,1228.7 1407.5,1226.6 1407.9,1210.4 1408.3,1267.3 1408.7,1232.3 1409.0,1192.0 1409.4,1208.4 1409.8,1247.3 1410.2,1217.6 1410.6,1176.9 1410.9,1266.9 1411.3,1252.6 1411.7,1178.9 1412.1,1260.8 1412.5,1227.9 1412.8,1254.7 1413.2,1217.3 1413.6,1224.3 1414.0,1222.8 1414.4,1217.8 1414.7,1228.0 1415.1,1217.5 1415.5,1261.1 1415.9,1263.5 1416.3,1205.8 1416.6,1271.6 1417.0,1225.3 1417.4,1220.6 1417.8,1239.6 1418.2,1248.2 1418.5,1237.3 1418.9,1223.9 1419.3,1276.2 1419.7,1227.2 1420.1,1201.5 1420.4,1262.2 1420.8,1206.4 1421.2,1226.0 1421.6,1226.4 1422.0,1250.6 1422.3,1231.1 1422.7,1231.5 1423.1,1246.7 1423.5,1241.5 1423.9,1196.1 1424.2,1260.8 1424.6,1242.1 1425.0,1241.0 1425.4,1197.4 1425.8,1302.1 1426.1,1220.1 1426.5,1148.6 1426.9,1229.4 1427.3,1203.9 1427.7,1212.2 1428.0,1235.1 1428.4,1211.5 1428.8,1229.1 1429.2,1228.2 1429.6,1185.3 1429.9,1230.7 1430.3,1268.7 1430.7,1250.7 1431.1,1271.0 1431.5,1259.1 1431.8,1215.1 1432.2,1173.7 1432.6,1190.5 1433.0,1216.1 1433.4,1172.1 1433.7,1244.7 1434.1,1200.4 1434.5,1239.1 1434.9,1234.1 1435.3,1209.3 1435.6,1182.6 1436.0,1241.4 1436.4,1236.7 1436.8,1238.3 1437.2,1254.8 1437.5,1155.1 1437.9,1207.9 1438.3,1279.1 1438.7,1241.3 1439.1,1198.3 1439.4,1230.6 1439.8,1253.3 1440.2,1195.3 1440.6,1181.9 1441.0,1188.3 1441.3,1232.7 1441.7,1203.8 1442.1,1214.5 1442.5,1268.5 1442.9,1223.9 1443.2,1199.9 1443.6,1222.7 1444.0,1235.6 1444.4,1196.2 1444.8,1213.2 1445.1,1147.3 1445.5,1207.6 1445.9,1244.2 1446.3,1201.7 1446.7,1205.4 1447.0,1178.1 1447.4,1212.2 1447.8,1234.7 1448.2,1233.7 1448.6,1281.4 1448.9,1195.9 1449.3,1149.3 1449.7,1274.1 1450.1,1173.7 1450.5,1252.2 1450.8,1207.2 1451.2,1201.5 1451.6,1225.1 1452.0,1191.2 1452.4,1256.2 1452.7,1210.8 1453.1,1203.0 1453.5,1166.8 1453.9,1220.5 1454.3,1169.8 1454.6,1195.9 1455.0,1224.7 1455.4,1166.8 1455.8,1197.2 1456.2,1243.4 1456.5,1200.3 1456.9,1199.4 1457.3,1182.1 1457.7,1214.4 1458.1,1247.5 1458.4,1203.0 1458.8,1200.0 1459.2,1171.7 1459.6,1219.2 1460.0,1215.1 1460.3,1202.9 1460.7,1197.8 1461.1,1209.6 1461.5,1147.6 1461.9,1277.6 1462.2,1166.7 1462.6,1233.4 1463.0,1212.7 1463.4,1209.7 1463.8,1262.4 1464.1,1237.4 1464.5,1226.9 1464.9,1197.2 1465.3,1177.9 1465.7,1221.8 1466.0,1207.8 1466.4,1235.0 1466.8,1110.1 1467.2,1226.7 1467.6,1207.0 1467.9,1217.2 1468.3,1188.9 1468.7,1131.9 1469.1,1196.4 1469.4,1208.3 1469.8,1164.2 1470.2,1179.5 1470.6,1194.4 1471.0,1199.4 1471.3,1175.8 1471.7,1215.5 1472.1,1178.8 1472.5,1204.6 1472.9,1202.2 1473.2,1170.2 1473.6,1174.4 1474.0,1231.4 1474.4,1243.8 1474.8,1168.6 1475.1,1176.6 1475.5,1158.2 1475.9,1206.8 1476.3,1263.8 1476.7,1098.4 1477.0,1239.9 1477.4,1208.8 1477.8,1231.8 1478.2,1239.0 1478.6,1185.4 1478.9,1196.0 1479.3,1105.0 1479.7,1137.3 1480.1,1224.0 1480.5,1240.3 1480.8,1198.8 1481.2,1195.8 1481.6,1208.8 1482.0,1216.7 1482.4,1219.7 1482.7,1179.4 1483.1,1204.9 1483.5,1200.0 1483.9,1202.8 1484.3,1190.9 1484.6,1259.6 1485.0,1214.5 1485.4,1101.5 1485.8,1234.7 1486.2,1237.9 1486.5,1122.7 1486.9,1238.1 1487.3,1257.2 1487.7,1240.8 1488.1,1214.9 1488.4,1173.4 1488.8,1201.5 1489.2,1155.9 1489.6,1166.8 1490.0,1207.3 1490.3,1116.6 1490.7,1221.2 1491.1,1095.5 1491.5,1230.7 1491.9,1257.5 1492.2,1190.3 1492.6,1192.7 1493.0,1210.1 1493.4,1199.9 1493.8,1109.7 1494.1,1266.9 1494.5,1205.0 1494.9,1151.1 1495.3,1210.0 1495.7,1203.0 1496.0,1195.1 1496.4,1141.4 1496.8,1199.7 1497.2,1212.7 1497.6,1161.3 1497.9,1259.6 1498.3,1241.4 1498.7,1143.5 1499.1,1211.4 1499.5,1185.1 1499.8,1220.5 1500.2,1187.4 1500.6,1218.4 1501.0,1184.7 1501.4,1184.7 1501.7,1164.3 1502.1,1142.9 1502.5,1193.4 1502.9,1238.8 1503.3,1196.3 1503.6,1135.6 1504.0,1191.5 1504.4,1176.2 1504.8,1096.2 1505.2,1100.6 1505.5,1148.4 1505.9,1152.0 1506.3,1205.7 1506.7,1169.0 1507.1,1127.9 1507.4,1084.3 1507.8,1204.2 1508.2,1182.2 1508.6,1182.7 1509.0,1162.0 1509.3,1190.5 1509.7,1166.2 1510.1,1154.5 1510.5,1096.4 1510.9,1123.3 1511.2,1152.4 1511.6,1220.4 1512.0,1092.5 1512.4,1265.5 1512.8,1174.6 1513.1,1162.3 1513.5,1152.3 1513.9,1219.1 1514.3,1210.2 1514.7,1200.5 1515.0,1101.8 1515.4,1207.9 1515.8,1226.6 1516.2,1199.5 1516.6,1158.9 1516.9,1108.1 1517.3,1121.7 1517.7,1092.1 1518.1,1160.6 1518.5,1144.6 1518.8,1206.5 1519.2,1184.2 1519.6,1075.4 1520.0,1181.7 1520.4,1132.8 1520.7,1180.8 1521.1,1105.1 1521.5,1116.2 1521.9,1166.0 1522.3,1068.0 1522.6,1106.6 1523.0,1206.7 1523.4,1090.7 1523.8,1078.5 1524.2,1125.4 1524.5,1136.6 1524.9,1230.9 1525.3,1113.1 1525.7,1208.4 1526.1,1130.7 1526.4,1212.6 1526.8,1141.6 1527.2,1151.3 1527.6,1164.0 1528.0,1168.7 1528.3,1165.1 1528.7,1263.2 1529.1,1238.0 1529.5,1160.8 1529.9,1066.3 1530.2,1123.5 1530.6,1133.3 1531.0,1209.3 1531.4,1193.4 1531.8,1184.0 1532.1,1158.6 1532.5,1120.9 1532.9,1230.3 1533.3,1188.4 1533.7,1170.5 1534.0,1138.5 1534.4,1134.2 1534.8,1165.5 1535.2,1151.5 1535.6,1207.5 1535.9,1143.4 1536.3,1191.5 1536.7,1131.3 1537.1,1184.8 1537.5,1153.0 1537.8,1097.0 1538.2,1225.0 1538.6,1188.4 1539.0,1220.9 1539.4,1141.4 1539.7,1126.7 1540.1,1106.5 1540.5,1162.7 1540.9,1099.8 1541.3,1136.1 1541.6,1207.5 1542.0,1168.8 1542.4,1117.3 1542.8,1079.5 1543.2,1173.6 1543.5,1141.0 1543.9,1109.1 1544.3,1100.6 1544.7,1072.9 1545.1,1110.7 1545.4,1176.8 1545.8,1118.0 1546.2,1160.6 1546.6,1079.0 1547.0,1139.4 1547.3,1107.4 1547.7,1198.6 1548.1,1228.4 1548.5,1194.8 1548.9,1064.9 1549.2,1172.7 1549.6,1226.4 1550.0,1117.4 1550.4,1134.8 1550.8,1141.9 1551.1,1158.0 1551.5,1132.0 1551.9,1176.7 1552.3,1133.6 1552.7,1158.0 1553.0,1187.2 1553.4,1156.4 1553.8,1258.9 1554.2,1137.5 1554.6,1085.3 1554.9,1162.7 1555.3,1185.7 1555.7,1216.3 1556.1,1198.7 1556.5,1212.2 1556.8,1271.8 1557.2,1069.8 1557.6,1120.1 1558.0,1103.9 1558.4,1134.5 1558.7,1259.7 1559.1,1125.0 1559.5,1099.1 1559.9,1278.1 1560.3,1122.9 1560.6,1121.1 1561.0,1196.7 1561.4,1213.6 1561.8,1228.9 1562.2,1148.0 1562.5,1178.0 1562.9,1167.9 1563.3,1263.7 1563.7,1197.8 1564.1,1190.3 1564.4,1162.5 1564.8,1232.2 1565.2,1112.7 1565.6,1169.1 1566.0,1140.0 1566.3,1164.1 1566.7,1211.4 1567.1,1076.8 1567.5,1077.8 1567.9,1100.6 1568.2,1262.1 1568.6,1213.7 1569.0,1083.5 1569.4,1099.2 1569.8,1167.5 1570.1,1136.3 1570.5,1201.0 1570.9,1113.6 1571.3,1203.5 1571.7,1102.8 1572.0,1091.2 1572.4,1183.4 1572.8,1198.0 1573.2,1085.1 1573.6,1121.6 1573.9,1178.7 1574.3,1139.8 1574.7,1154.2 1575.1,1108.2 1575.5,1171.0 1575.8,1132.7 1576.2,1088.6 1576.6,1135.2 1577.0,1154.5 1577.4,1153.7 1577.7,1217.0 1578.1,1174.2 1578.5,1173.0 1578.9,1126.3 1579.3,1161.2 1579.6,1160.5 1580.0,1210.4 1580.4,1074.7 1580.8,1223.7 1581.2,1169.5 1581.5,1168.1 1581.9,1233.6 1582.3,1152.7 1582.7,1115.5 1583.1,1268.5 1583.4,1141.3 1583.8,1179.0 1584.2,1133.3 1584.6,1191.6 1585.0,1142.5 1585.3,1144.1 1585.7,1200.0 1586.1,1122.1 1586.5,1234.7 1586.9,1181.6 1587.2,1155.8 1587.6,1203.5 1588.0,1121.7 1588.4,1150.4 1588.8,1183.0 1589.1,1178.7 1589.5,1206.1 1589.9,1177.3 1590.3,1178.1 1590.7,1139.0 1591.0,1183.8 1591.4,1172.7 1591.8,1216.0 1592.2,1168.5 1592.6,1115.6 1592.9,1260.6 1593.3,1198.2 1593.7,1206.2 1594.1,1173.4 1594.5,1149.1 1594.8,1186.6 1595.2,1152.8 1595.6,1192.0 1596.0,1228.3 1596.4,1200.6 1596.7,1134.8 1597.1,1142.2 1597.5,1174.8 1597.9,1182.2 1598.3,1182.4 1598.6,1217.4 1599.0,1175.8 1599.4,1154.8 1599.8,1160.5 1600.2,1187.7 1600.5,1226.5 1600.9,1159.8 1601.3,1161.5 1601.7,1146.3 1602.1,1166.2 1602.4,1211.5 1602.8,1206.4 1603.2,1187.6 1603.6,1200.2 1604.0,1240.3 1604.3,1190.8 1604.7,1163.2 1605.1,1218.9 1605.5,1194.0 1605.9,1113.7 1606.2,1206.3 1606.6,1226.3 1607.0,1153.1 1607.4,1145.4 1607.8,1160.0 1608.1,1214.5 1608.5,1207.3 1608.9,1229.2 1609.3,1164.5 1609.7,1157.8 1610.0,1101.5 1610.4,1172.5 1610.8,1159.9 1611.2,1118.6 1611.6,1185.3 1611.9,1193.3 1612.3,1129.5 1612.7,1191.7 1613.1,1216.3 1613.5,1142.6 1613.8,1139.9 1614.2,1155.0 1614.6,1192.5 1615.0,1209.0 1615.4,1190.0 1615.7,1160.1 1616.1,1194.5 1616.5,1220.7 1616.9,1205.0 1617.3,1189.2 1617.6,1198.1 1618.0,1194.1 1618.4,1189.2 1618.8,1190.0 1619.2,1207.2 1619.5,1154.0 1619.9,1151.4 1620.3,1169.7 1620.7,1162.2 1621.1,1204.8 1621.4,1222.9 1621.8,1137.3 1622.2,1177.9 1622.6,1252.4 1623.0,1152.1 1623.3,1186.6 1623.7,1184.0 1624.1,1236.5 1624.5,1149.6 1624.9,1287.1 1625.2,1188.0 1625.6,1216.8 1626.0,1214.7 1626.4,1232.8 1626.8,1184.6 1627.1,1145.7 1627.5,1194.7 1627.9,1187.9 1628.3,1228.3 1628.7,1169.9 1629.0,1194.4 1629.4,1160.5 1629.8,1212.1 1630.2,1220.1 1630.6,1185.8 1630.9,1192.0 1631.3,1164.0 1631.7,1182.0 1632.1,1146.0 1632.5,1211.1 1632.8,1187.1 1633.2,1223.8 1633.6,1181.0 1634.0,1196.0 1634.4,1135.1 1634.7,1210.4 1635.1,1212.7 1635.5,1154.7 1635.9,1154.2 1636.3,1238.8 1636.6,1226.1 1637.0,1097.4 1637.4,1179.7 1637.8,1203.5 1638.2,1165.7 1638.5,1136.0 1638.9,1272.8 1639.3,1212.1 1639.7,1184.5 1640.1,1234.8 1640.4,1222.6 1640.8,1309.1 1641.2,1220.2 1641.6,1197.6 1642.0,1211.7 1642.3,1205.9 1642.7,1139.9 1643.1,1203.6 1643.5,1158.4 1643.9,1164.1 1644.2,1244.6 1644.6,1217.1 1645.0,1172.3 1645.4,1179.9 1645.8,1181.2 1646.1,1186.8 1646.5,1205.5 1646.9,1214.1 1647.3,1193.8 1647.7,1191.6 1648.0,1220.6 1648.4,1235.1 1648.8,1140.5 1649.2,1226.4 1649.6,1243.2 1649.9,1219.6 1650.3,1253.5 1650.7,1247.9 1651.1,1242.0 1651.5,1265.2 1651.8,1215.6 1652.2,1221.8 1652.6,1240.3 1653.0,1238.8 1653.4,1203.4 1653.7,1233.9 1654.1,1253.7 1654.5,1228.0 1654.9,1212.0 1655.3,1206.2 1655.6,1221.2 1656.0,1187.2 1656.4,1214.0 1656.8,1314.8 1657.2,1263.8 1657.5,1242.1 1657.9,1244.2 1658.3,1258.3 1658.7,1245.0 1659.1,1247.9 1659.4,1189.0 1659.8,1207.5 1660.2,1255.1 1660.6,1222.3 1661.0,1275.8 1661.3,1244.9 1661.7,1297.9 1662.1,1233.6 1662.5,1285.4 1662.9,1271.8 1663.2,1240.3 1663.6,1265.3 1664.0,1234.8 1664.4,1284.0 1664.8,1257.1 1665.1,1311.3 1665.5,1246.9 1665.9,1314.8 1666.3,1306.1 1666.7,1312.4 1667.0,1243.1 1667.4,1295.7 1667.8,1252.1 1668.2,1305.1 1668.6,1263.5 1668.9,1250.6 1669.3,1237.0 1669.7,1266.8 1670.1,1177.4 1670.5,1257.5 1670.8,1226.6 1671.2,1232.0 1671.6,1212.5 1672.0,1270.7 1672.4,1252.0 1672.7,1286.6 1673.1,1252.7 1673.5,1255.8 1673.9,1306.3 1674.3,1266.7 1674.6,1246.8 1675.0,1269.9 1675.4,1235.1 1675.8,1278.4 1676.2,1296.2 1676.5,1227.9 1676.9,1295.3 1677.3,1289.2 1677.7,1314.8 1678.1,1249.5 1678.4,1302.5 1678.8,1299.2 1679.2,1290.0 1679.6,1260.7 1680.0,1244.0 1680.3,1204.3 1680.7,1240.8 1681.1,1240.5 1681.5,1240.0 1681.9,1090.9 1682.2,1314.8 1682.6,1275.0 1683.0,1265.8 1683.4,1257.0 1683.8,1307.3 1684.1,1314.8 1684.5,1314.1 1684.9,1218.2 1685.3,1283.5 1685.7,1266.7 1686.0,1314.8 1686.4,1267.8 1686.8,1314.8 1687.2,1216.2 1687.6,1261.3 1687.9,1252.6 1688.3,1246.8 1688.7,1227.3 1689.1,1246.4 1689.5,1223.7 1689.8,1220.6 1690.2,1255.0 1690.6,1294.5 1691.0,1259.2 1691.4,1285.4 1691.7,1281.8 1692.1,1276.0 1692.5,1176.8 1692.9,1274.8 1693.3,1279.1 1693.6,1312.7 1694.0,1238.7 1694.4,1314.8 1694.8,1280.3 1695.2,1275.5 1695.5,1245.8 1695.9,1220.9 1696.3,1264.5 1696.7,1254.0 1697.1,1268.6 1697.4,1236.6 1697.8,1287.1 1698.2,1215.0 1698.6,1219.8 1699.0,1233.7 1699.3,1236.3 1699.7,1279.1 1700.1,1277.9 1700.5,1231.3 1700.9,1301.0" fill="none" stroke="#170f8c" stroke-width="2.4" stroke-linejoin="miter" stroke-miterlimit="2"/>
<line x1="1278.7" y1="1033.3" x2="1278.7" y2="1317.5" stroke="#000" stroke-width="2.6"/>
<line x1="1269.7" y1="1316.2" x2="1702.2" y2="1316.2" stroke="#000" stroke-width="2.6"/>
<line x1="1269.7" y1="1316.2" x2="1278.7" y2="1316.2" stroke="#000" stroke-width="2.6"/>
<text x="1267.70" y="1324.80" text-anchor="end" fill="#000" style="font-family:'Liberation Sans',Arial,sans-serif;font-weight:bold;font-size:24.5px;letter-spacing:1px">0</text>
<line x1="1269.7" y1="1245.8" x2="1278.7" y2="1245.8" stroke="#000" stroke-width="2.6"/>
<text x="1267.70" y="1254.40" text-anchor="end" fill="#000" style="font-family:'Liberation Sans',Arial,sans-serif;font-weight:bold;font-size:24.5px;letter-spacing:1px">100</text>
<line x1="1269.7" y1="1175.4" x2="1278.7" y2="1175.4" stroke="#000" stroke-width="2.6"/>
<text x="1267.70" y="1184.00" text-anchor="end" fill="#000" style="font-family:'Liberation Sans',Arial,sans-serif;font-weight:bold;font-size:24.5px;letter-spacing:1px">200</text>
<line x1="1269.7" y1="1105.0" x2="1278.7" y2="1105.0" stroke="#000" stroke-width="2.6"/>
<text x="1267.70" y="1113.60" text-anchor="end" fill="#000" style="font-family:'Liberation Sans',Arial,sans-serif;font-weight:bold;font-size:24.5px;letter-spacing:1px">300</text>
<line x1="1269.7" y1="1034.6" x2="1278.7" y2="1034.6" stroke="#000" stroke-width="2.6"/>
<text x="1267.70" y="1043.20" text-anchor="end" fill="#000" style="font-family:'Liberation Sans',Arial,sans-serif;font-weight:bold;font-size:24.5px;letter-spacing:1px">400</text>
<line x1="1278.7" y1="1316.2" x2="1278.7" y2="1325.2" stroke="#000" stroke-width="2.6"/>
<text x="1282.10" y="1349.60" text-anchor="middle" fill="#000" style="font-family:'Liberation Sans',Arial,sans-serif;font-weight:bold;font-size:24.5px;letter-spacing:1px">0</text>
<line x1="1384.2" y1="1316.2" x2="1384.2" y2="1325.2" stroke="#000" stroke-width="2.6"/>
<text x="1387.05" y="1349.60" text-anchor="middle" fill="#000" style="font-family:'Liberation Sans',Arial,sans-serif;font-weight:bold;font-size:24.5px;letter-spacing:1px">50</text>
<line x1="1489.8" y1="1316.2" x2="1489.8" y2="1325.2" stroke="#000" stroke-width="2.6"/>
<text x="1488.80" y="1349.60" text-anchor="middle" fill="#000" style="font-family:'Liberation Sans',Arial,sans-serif;font-weight:bold;font-size:24.5px;letter-spacing:1px">100</text>
<line x1="1595.4" y1="1316.2" x2="1595.4" y2="1325.2" stroke="#000" stroke-width="2.6"/>
<text x="1594.35" y="1349.60" text-anchor="middle" fill="#000" style="font-family:'Liberation Sans',Arial,sans-serif;font-weight:bold;font-size:24.5px;letter-spacing:1px">150</text>
<line x1="1700.9" y1="1316.2" x2="1700.9" y2="1325.2" stroke="#000" stroke-width="2.6"/>
<text x="1700.20" y="1349.60" text-anchor="middle" fill="#000" style="font-family:'Liberation Sans',Arial,sans-serif;font-weight:bold;font-size:24.5px;letter-spacing:1px">200</text>
<text x="1485.60" y="1375.90" text-anchor="middle" fill="#000" style="font-family:'Liberation Sans',Arial,sans-serif;font-weight:bold;font-size:24.5px;letter-spacing:2.3px">Time (s)</text>
<text x="1215.00" y="1163.10" text-anchor="middle" fill="#000" style="font-family:'Liberation Sans',Arial,sans-serif;font-weight:bold;font-size:24.5px;letter-spacing:2.2px" transform="rotate(-90 1215.0 1163.1000000000001)">phtocurrent (μA)</text>
<polyline points="163.3,1553.5 164.1,1562.0 165.0,1561.6 165.8,1564.6 166.7,1570.8 167.5,1567.0 168.4,1561.0 169.2,1560.6 170.1,1558.8 170.9,1560.3 171.7,1557.0 172.6,1564.2 173.4,1566.1 174.3,1549.2 175.1,1537.1 176.0,1535.5 176.8,1530.9 177.7,1533.6 178.5,1526.9 179.3,1527.7 180.2,1526.2 181.0,1543.0 181.9,1552.6 182.7,1539.5 183.6,1541.7 184.4,1542.9 185.2,1541.7 186.1,1543.2 186.9,1544.1 187.8,1545.8 188.6,1544.3 189.5,1554.8 190.3,1558.4 191.2,1561.7 192.0,1559.2 192.8,1559.4 193.7,1564.4 194.5,1564.1 195.4,1554.0 196.2,1539.7 197.1,1534.7 197.9,1535.9 198.8,1540.0 199.6,1538.1 200.4,1542.1 201.3,1546.0 202.1,1548.2 203.0,1553.0 203.8,1554.6 204.7,1559.3 205.5,1562.5 206.4,1567.0 207.2,1578.4 208.0,1579.6 208.9,1583.3 209.7,1587.1 210.6,1585.8 211.4,1573.3 212.3,1572.6 213.1,1560.0 214.0,1560.6 214.8,1550.1 215.6,1542.0 216.5,1534.1 217.3,1532.0 218.2,1531.0 219.0,1533.4 219.9,1536.8 220.7,1539.9 221.5,1549.8 222.4,1559.8 223.2,1566.5 224.1,1573.0 224.9,1576.1 225.8,1581.7 226.6,1583.5 227.5,1590.0 228.3,1588.7 229.1,1581.8 230.0,1578.9 230.8,1571.2 231.7,1568.8 232.5,1562.5 233.4,1557.3 234.2,1554.2 235.1,1544.2 235.9,1541.5 236.7,1534.9 237.6,1537.2 238.4,1540.9 239.3,1543.9 240.1,1549.7 241.0,1554.2 241.8,1556.9 242.7,1556.5 243.5,1550.8 244.3,1545.5 245.2,1539.7 246.0,1538.7 246.9,1546.9 247.7,1550.0 248.6,1549.8 249.4,1557.2 250.3,1547.8 251.1,1546.3 251.9,1538.0 252.8,1534.6 253.6,1527.3 254.5,1519.8 255.3,1529.4 256.2,1525.7 257.0,1530.4 257.9,1545.5 258.7,1560.6 259.5,1569.0 260.4,1577.6 261.2,1570.7 262.1,1566.5 262.9,1556.9 263.8,1557.1 264.6,1559.6 265.4,1562.0 266.3,1567.7 267.1,1568.6 268.0,1565.3 268.8,1562.0 269.7,1554.2 270.5,1556.9 271.4,1553.6 272.2,1558.6 273.0,1561.3 273.9,1568.3 274.7,1566.8 275.6,1564.4 276.4,1558.6 277.3,1548.0 278.1,1535.4 279.0,1526.8 279.8,1516.4 280.6,1506.7 281.5,1518.0 282.3,1526.1 283.2,1534.9 284.0,1536.4 284.9,1547.6 285.7,1554.8 286.6,1550.0 287.4,1540.6 288.2,1541.0 289.1,1549.7 289.9,1556.8 290.8,1565.2 291.6,1572.0 292.5,1573.6 293.3,1577.3 294.2,1564.1 295.0,1560.8 295.8,1550.3 296.7,1550.5 297.5,1550.4 298.4,1547.8 299.2,1545.1 300.1,1534.7 300.9,1540.3 301.7,1532.8 302.6,1535.0 303.4,1531.6 304.3,1539.5 305.1,1547.4 306.0,1553.5 306.8,1561.5 307.7,1564.8 308.5,1573.7 309.3,1571.2 310.2,1561.1 311.0,1546.8 311.9,1534.6 312.7,1530.3 313.6,1524.8 314.4,1521.2 315.3,1515.8 316.1,1516.4 316.9,1515.7 317.8,1513.1 318.6,1518.8 319.5,1519.4 320.3,1527.0 321.2,1534.8 322.0,1553.5 322.9,1566.3 323.7,1566.4 324.5,1567.8 325.4,1564.5 326.2,1556.5 327.1,1562.2 327.9,1560.0 328.8,1561.2 329.6,1571.0 330.5,1574.9 331.3,1571.1 332.1,1565.5 333.0,1558.0 333.8,1556.4 334.7,1549.5 335.5,1553.8 336.4,1554.8 337.2,1563.7 338.0,1570.5 338.9,1573.7 339.7,1576.3 340.6,1570.9 341.4,1568.5 342.3,1483.7 343.1,1449.8 344.0,1441.3 344.8,1440.0 345.6,1438.7 346.5,1446.4 347.3,1454.1 348.2,1485.2 349.0,1520.9 349.9,1539.7 350.7,1543.3 351.6,1553.9 352.4,1559.4 353.2,1567.9 354.1,1566.3 354.9,1573.0 355.8,1583.9 356.6,1576.8 357.5,1574.7 358.3,1566.8 359.2,1559.6 360.0,1554.2 360.8,1556.7 361.7,1553.6 362.5,1560.8 363.4,1559.3 364.2,1565.9 365.1,1569.6 365.9,1575.8 366.8,1571.7 367.6,1571.0 368.4,1564.8 369.3,1549.3 370.1,1555.1 371.0,1550.9 371.8,1539.0 372.7,1533.7 373.5,1548.9 374.4,1550.4 375.2,1552.2 376.0,1552.0 376.9,1566.5 377.7,1571.9 378.6,1576.5 379.4,1584.9 380.3,1591.8 381.1,1589.7 381.9,1591.9 382.8,1587.3 383.6,1578.4 384.5,1564.2 385.3,1553.6 386.2,1537.8 387.0,1523.5 387.9,1522.2 388.7,1527.1 389.5,1533.4 390.4,1543.6 391.2,1560.2 392.1,1571.8 392.9,1587.5 393.8,1595.8 394.6,1611.8 395.5,1619.6 396.3,1617.3 397.1,1612.7 398.0,1600.5 398.8,1597.6 399.7,1591.3 400.5,1592.0 401.4,1577.8 402.2,1567.6 403.1,1560.4 403.9,1547.0 404.7,1533.3 405.6,1522.3 406.4,1526.6 407.3,1529.4 408.1,1533.2 409.0,1536.5 409.8,1537.2 410.7,1553.1 411.5,1552.7 412.3,1558.6 413.2,1565.3 414.0,1574.3 414.9,1575.3 415.7,1561.5 416.6,1549.7 417.4,1551.0 418.2,1536.4 419.1,1539.8 419.9,1547.1 420.8,1557.9 421.6,1543.8 422.5,1527.0 423.3,1536.1 424.2,1543.7 425.0,1556.1 425.8,1568.3 426.7,1570.7 427.5,1580.4 428.4,1585.4 429.2,1594.7 430.1,1584.0 430.9,1573.4 431.8,1555.9 432.6,1551.1 433.4,1535.7 434.3,1528.6 435.1,1518.2 436.0,1519.6 436.8,1516.7 437.7,1524.5 438.5,1544.6 439.4,1554.0 440.2,1570.7 441.0,1571.0 441.9,1561.6 442.7,1560.4 443.6,1560.5 444.4,1557.8 445.3,1551.1 446.1,1553.5 447.0,1551.9 447.8,1549.1 448.6,1546.7 449.5,1548.3 450.3,1556.5 451.2,1549.2 452.0,1553.5 452.9,1556.2 453.7,1556.4 454.5,1570.5 455.4,1570.0 456.2,1569.1 457.1,1571.7 457.9,1559.6 458.8,1559.2 459.6,1554.3 460.5,1555.2 461.3,1548.7 462.1,1545.4 463.0,1545.3 463.8,1543.8 464.7,1547.9 465.5,1555.2 466.4,1557.3 467.2,1561.5 468.1,1564.1 468.9,1566.5 469.7,1570.1 470.6,1559.0 471.4,1546.0 472.3,1543.8 473.1,1535.5 474.0,1537.3 474.8,1540.2 475.7,1547.3 476.5,1547.0 477.3,1551.8 478.2,1555.4 479.0,1556.4 479.9,1545.1 480.7,1545.9 481.6,1544.7 482.4,1528.2 483.3,1530.7 484.1,1540.4 484.9,1548.2 485.8,1567.7 486.6,1569.4 487.5,1564.6 488.3,1556.5 489.2,1552.4 490.0,1556.9 490.8,1562.3 491.7,1571.7 492.5,1579.0 493.4,1577.0 494.2,1580.5 495.1,1578.6 495.9,1578.6 496.8,1580.9 497.6,1579.9 498.4,1579.1 499.3,1572.9 500.1,1571.1 501.0,1564.3 501.8,1557.9 502.7,1559.5 503.5,1566.3 504.4,1567.0 505.2,1572.6 506.0,1575.5 506.9,1576.1 507.7,1587.4 508.6,1588.7 509.4,1592.6 510.3,1593.5 511.1,1582.5 512.0,1572.2 512.8,1566.4 513.6,1553.8" fill="none" stroke="#808080" stroke-width="2.6" stroke-linejoin="round" stroke-miterlimit="2"/>
<line x1="169.3" y1="1554.4" x2="586.4" y2="1554.4" stroke="#000" stroke-width="2.2" stroke-dasharray="1.8 6.7"/>
<line x1="163.3" y1="1411.7" x2="163.3" y2="1697.1" stroke="#000" stroke-width="2.6"/>
<line x1="154.3" y1="1695.8" x2="586.7" y2="1695.8" stroke="#000" stroke-width="2.6"/>
<line x1="154.3" y1="1695.8" x2="163.3" y2="1695.8" stroke="#000" stroke-width="2.6"/>
<text x="148.40" y="1701.40" text-anchor="end" fill="#000" style="font-family:'Liberation Sans',Arial,sans-serif;font-weight:bold;font-size:24.5px;letter-spacing:1px">-100</text>
<line x1="154.3" y1="1625.1" x2="163.3" y2="1625.1" stroke="#000" stroke-width="2.6"/>
<text x="148.40" y="1633.70" text-anchor="end" fill="#000" style="font-family:'Liberation Sans',Arial,sans-serif;font-weight:bold;font-size:24.5px;letter-spacing:1px">-50</text>
<line x1="154.3" y1="1554.4" x2="163.3" y2="1554.4" stroke="#000" stroke-width="2.6"/>
<text x="148.40" y="1563.00" text-anchor="end" fill="#000" style="font-family:'Liberation Sans',Arial,sans-serif;font-weight:bold;font-size:24.5px;letter-spacing:1px">0</text>
<line x1="154.3" y1="1483.7" x2="163.3" y2="1483.7" stroke="#000" stroke-width="2.6"/>
<text x="148.40" y="1492.30" text-anchor="end" fill="#000" style="font-family:'Liberation Sans',Arial,sans-serif;font-weight:bold;font-size:24.5px;letter-spacing:1px">50</text>
<line x1="154.3" y1="1413.0" x2="163.3" y2="1413.0" stroke="#000" stroke-width="2.6"/>
<text x="148.40" y="1421.60" text-anchor="end" fill="#000" style="font-family:'Liberation Sans',Arial,sans-serif;font-weight:bold;font-size:24.5px;letter-spacing:1px">100</text>
<line x1="163.3" y1="1695.8" x2="163.3" y2="1704.8" stroke="#000" stroke-width="2.6"/>
<text x="163.80" y="1725.70" text-anchor="middle" fill="#000" style="font-family:'Liberation Sans',Arial,sans-serif;font-weight:bold;font-size:24.5px;letter-spacing:1px">0</text>
<line x1="304.0" y1="1695.8" x2="304.0" y2="1704.8" stroke="#000" stroke-width="2.6"/>
<text x="304.50" y="1725.70" text-anchor="middle" fill="#000" style="font-family:'Liberation Sans',Arial,sans-serif;font-weight:bold;font-size:24.5px;letter-spacing:1px">100</text>
<line x1="444.7" y1="1695.8" x2="444.7" y2="1704.8" stroke="#000" stroke-width="2.6"/>
<text x="445.20" y="1725.70" text-anchor="middle" fill="#000" style="font-family:'Liberation Sans',Arial,sans-serif;font-weight:bold;font-size:24.5px;letter-spacing:1px">200</text>
<line x1="585.4" y1="1695.8" x2="585.4" y2="1704.8" stroke="#000" stroke-width="2.6"/>
<text x="585.90" y="1725.70" text-anchor="middle" fill="#000" style="font-family:'Liberation Sans',Arial,sans-serif;font-weight:bold;font-size:24.5px;letter-spacing:1px">300</text>
<text x="377.00" y="1750.90" text-anchor="middle" fill="#000" style="font-family:'Liberation Sans',Arial,sans-serif;font-weight:bold;font-size:24.5px;letter-spacing:2.3px">Time (s)</text>
<text x="93.00" y="1542.10" text-anchor="middle" fill="#000" style="font-family:'Liberation Sans',Arial,sans-serif;font-weight:bold;font-size:24.5px;letter-spacing:2.2px" transform="rotate(-90 93.0 1542.1000000000001)">phtocurrent (μA)</text>
<polyline points="723.6,1527.7 724.3,1522.3 725.1,1520.1 725.8,1517.2 726.5,1519.8 727.3,1523.5 728.0,1528.2 728.7,1531.1 729.5,1537.0 730.2,1536.0 730.9,1540.9 731.7,1536.1 732.4,1532.6 733.1,1536.5 733.9,1527.1 734.6,1528.9 735.3,1527.0 736.1,1529.4 736.8,1537.7 737.5,1545.5 738.3,1545.9 739.0,1553.2 739.7,1548.4 740.5,1544.5 741.2,1544.2 741.9,1544.6 742.7,1542.2 743.4,1542.6 744.1,1542.6 744.9,1545.1 745.6,1541.1 746.3,1543.5 747.1,1542.0 747.8,1546.0 748.6,1552.4 749.3,1552.0 750.0,1556.3 750.8,1558.3 751.5,1562.2 752.2,1566.0 753.0,1568.5 753.7,1568.4 754.4,1579.4 755.2,1585.3 755.9,1581.1 756.6,1576.6 757.4,1568.8 758.1,1580.3 758.8,1578.8 759.6,1589.4 760.3,1595.1 761.0,1598.5 761.8,1590.2 762.5,1583.3 763.2,1583.9 764.0,1576.9 764.7,1572.0 765.4,1568.1 766.2,1568.4 766.9,1564.4 767.6,1563.0 768.4,1563.3 769.1,1564.4 769.8,1562.0 770.6,1562.7 771.3,1566.8 772.1,1568.5 772.8,1573.6 773.5,1573.7 774.3,1576.4 775.0,1581.5 775.7,1582.8 776.5,1583.3 777.2,1573.0 777.9,1565.3 778.7,1556.4 779.4,1548.2 780.1,1550.4 780.9,1552.7 781.6,1561.1 782.3,1563.4 783.1,1573.3 783.8,1575.0 784.5,1575.0 785.3,1581.0 786.0,1583.8 786.7,1590.4 787.5,1595.6 788.2,1593.8 788.9,1588.7 789.7,1587.0 790.4,1579.4 791.1,1576.5 791.9,1576.7 792.6,1581.9 793.3,1581.3 794.1,1583.3 794.8,1579.4 795.5,1574.8 796.3,1569.9 797.0,1566.5 797.8,1564.7 798.5,1571.3 799.2,1571.0 800.0,1571.4 800.7,1576.2 801.4,1584.8 802.2,1585.7 802.9,1590.7 803.6,1598.0 804.4,1597.8 805.1,1590.3 805.8,1584.6 806.6,1573.9 807.3,1572.3 808.0,1563.7 808.8,1556.4 809.5,1549.6 810.2,1548.1 811.0,1550.1 811.7,1554.8 812.4,1554.5 813.2,1560.9 813.9,1568.1 814.6,1568.9 815.4,1575.6 816.1,1574.6 816.8,1573.2 817.6,1582.6 818.3,1577.7 819.0,1580.5 819.8,1578.5 820.5,1569.5 821.2,1568.4 822.0,1558.0 822.7,1563.1 823.5,1563.9 824.2,1571.7 824.9,1571.1 825.7,1575.9 826.4,1585.3 827.1,1584.8 827.9,1596.3 828.6,1589.5 829.3,1584.1 830.1,1584.6 830.8,1573.3 831.5,1573.8 832.3,1575.5 833.0,1577.4 833.7,1583.9 834.5,1583.5 835.2,1588.8 835.9,1591.7 836.7,1602.6 837.4,1602.4 838.1,1595.5 838.9,1594.7 839.6,1587.4 840.3,1582.8 841.1,1581.7 841.8,1581.7 842.5,1581.7 843.3,1588.3 844.0,1584.6 844.7,1588.5 845.5,1590.1 846.2,1593.3 846.9,1595.8 847.7,1595.2 848.4,1591.3 849.2,1588.3 849.9,1586.7 850.6,1577.6 851.4,1573.9 852.1,1570.2 852.8,1575.9 853.6,1573.6 854.3,1576.9 855.0,1588.3 855.8,1589.9 856.5,1593.3 857.2,1597.4 858.0,1590.8 858.7,1591.9 859.4,1592.3 860.2,1587.7 860.9,1594.0 861.6,1594.7 862.4,1600.3 863.1,1603.6 863.8,1608.7 864.6,1601.8 865.3,1595.7 866.0,1590.8 866.8,1584.4 867.5,1576.5 868.2,1575.5 869.0,1578.2 869.7,1576.4 870.4,1580.5 871.2,1582.1 871.9,1593.2 872.6,1600.9 873.4,1605.2 874.1,1608.6 874.9,1606.3 875.6,1602.7 876.3,1607.5 877.1,1598.6 877.8,1596.0 878.5,1590.6 879.3,1584.1 880.0,1581.2 880.7,1576.3 881.5,1577.8 882.2,1573.9 882.9,1576.3 883.7,1581.8 884.4,1579.9 885.1,1591.7 885.9,1592.2 886.6,1603.0 887.3,1605.8 888.1,1606.1 888.8,1604.9 889.5,1599.3 890.3,1594.5 891.0,1595.7 891.7,1583.2 892.5,1583.6 893.2,1580.2 893.9,1582.1 894.7,1581.4 895.4,1584.4 896.1,1589.3 896.9,1587.6 897.6,1597.7 898.3,1593.5 899.1,1602.4 899.8,1599.0 900.6,1603.2 901.3,1604.4 902.0,1603.2 902.8,1599.8 903.5,1599.3 904.2,1593.7 905.0,1591.7 905.7,1587.3 906.4,1588.1 907.2,1584.1 907.9,1580.6 908.6,1585.5 909.4,1587.8 910.1,1587.8 910.8,1589.5 911.6,1597.1 912.3,1594.4 913.0,1584.6 913.8,1587.4 914.5,1576.5 915.2,1577.8 916.0,1576.6 916.7,1582.9 917.4,1586.6 918.2,1592.6 918.9,1590.2 919.6,1582.5 920.4,1575.7 921.1,1564.9 921.8,1568.5 922.6,1571.2 923.3,1581.4 924.1,1590.9 924.8,1592.6 925.5,1600.5 926.3,1596.3 927.0,1589.5 927.7,1584.6 928.5,1578.4 929.2,1574.1 929.9,1581.3 930.7,1583.8 931.4,1587.8 932.1,1594.3 932.9,1593.8 933.6,1600.4 934.3,1599.5 935.1,1604.4 935.8,1602.9 936.5,1596.7 937.3,1593.5 938.0,1588.1 938.7,1590.8 939.5,1586.4 940.2,1586.4 940.9,1594.0 941.7,1595.7 942.4,1596.6 943.1,1596.6 943.9,1601.9 944.6,1598.9 945.3,1602.8 946.1,1608.7 946.8,1601.3 947.5,1600.6 948.3,1593.7 949.0,1584.1 949.8,1581.8 950.5,1575.7 951.2,1567.8 952.0,1571.2 952.7,1571.7 953.4,1574.2 954.2,1574.3 954.9,1579.6 955.6,1583.6 956.4,1589.2 957.1,1586.6 957.8,1593.4 958.6,1596.5 959.3,1593.9 960.0,1593.3 960.8,1594.0 961.5,1592.4 962.2,1584.7 963.0,1593.4 963.7,1595.4 964.4,1595.3 965.2,1599.6 965.9,1601.2 966.6,1606.1 967.4,1597.8 968.1,1588.7 968.8,1591.3 969.6,1586.7 970.3,1594.6 971.0,1598.0 971.8,1598.9 972.5,1600.0 973.2,1599.7 974.0,1599.6 974.7,1596.1 975.5,1589.0 976.2,1583.5 976.9,1580.2 977.7,1578.2 978.4,1587.7 979.1,1594.8 979.9,1595.3 980.6,1600.2 981.3,1609.7 982.1,1601.9 982.8,1602.0 983.5,1596.4 984.3,1592.6 985.0,1590.1 985.7,1584.6 986.5,1589.9 987.2,1596.9 987.9,1602.3 988.7,1606.5 989.4,1607.0 990.1,1600.9 990.9,1595.2 991.6,1589.3 992.3,1590.8 993.1,1580.1 993.8,1587.0 994.5,1583.9 995.3,1585.3 996.0,1587.3 996.7,1591.0 997.5,1595.9 998.2,1595.3 998.9,1593.8 999.7,1573.1 1000.4,1558.0 1001.2,1541.0 1001.9,1532.5 1002.6,1530.9 1003.4,1530.8 1004.1,1536.5 1004.8,1545.6 1005.6,1560.8 1006.3,1573.4 1007.0,1589.8 1007.8,1600.4 1008.5,1599.7 1009.2,1581.8 1010.0,1572.3 1010.7,1566.9 1011.4,1557.1 1012.2,1549.7 1012.9,1540.7 1013.6,1534.9 1014.4,1549.3 1015.1,1570.1 1015.8,1584.7 1016.6,1590.7 1017.3,1583.1 1018.0,1574.4 1018.8,1567.8 1019.5,1561.5 1020.2,1553.6 1021.0,1548.0 1021.7,1540.5 1022.4,1539.7 1023.2,1535.8 1023.9,1534.2 1024.6,1537.3 1025.4,1559.5 1026.1,1572.5 1026.9,1560.0 1027.6,1551.3 1028.3,1535.6 1029.1,1545.9 1029.8,1552.8 1030.5,1564.0 1031.3,1574.8 1032.0,1588.1 1032.7,1595.8 1033.5,1590.9 1034.2,1578.1 1034.9,1571.4 1035.7,1559.3 1036.4,1550.9 1037.1,1569.3 1037.9,1581.3 1038.6,1580.1 1039.3,1572.9 1040.1,1560.6 1040.8,1555.5 1041.5,1546.6 1042.3,1538.4 1043.0,1540.9 1043.7,1549.9 1044.5,1551.0 1045.2,1551.9 1045.9,1554.0 1046.7,1549.3 1047.4,1540.4 1048.1,1529.8 1048.9,1515.3 1049.6,1505.6 1050.3,1495.1 1051.1,1481.8 1051.8,1492.3 1052.6,1496.8 1053.3,1506.9 1054.0,1518.4 1054.8,1541.7 1055.5,1573.7 1056.2,1582.8 1057.0,1586.9 1057.7,1590.9 1058.4,1595.8 1059.2,1597.1 1059.9,1598.1 1060.6,1598.9 1061.4,1606.9 1062.1,1606.3 1062.8,1607.9 1063.6,1593.6 1064.3,1583.3 1065.0,1578.1 1065.8,1563.7 1066.5,1566.2 1067.2,1565.7 1068.0,1567.6 1068.7,1573.1 1069.4,1577.4 1070.2,1583.8" fill="none" stroke="#170f8c" stroke-width="2.9" stroke-linejoin="round" stroke-miterlimit="2"/>
<line x1="725.6" y1="1625.0" x2="1140.2" y2="1625.0" stroke="#000" stroke-width="2.2" stroke-dasharray="1.8 6.7"/>
<line x1="719.6" y1="1413.1" x2="719.6" y2="1696.5" stroke="#000" stroke-width="2.6"/>
<line x1="710.6" y1="1695.2" x2="1140.5" y2="1695.2" stroke="#000" stroke-width="2.6"/>
<line x1="710.6" y1="1695.2" x2="719.6" y2="1695.2" stroke="#000" stroke-width="2.6"/>
<text x="706.90" y="1700.80" text-anchor="end" fill="#000" style="font-family:'Liberation Sans',Arial,sans-serif;font-weight:bold;font-size:24.5px;letter-spacing:1px">-100</text>
<line x1="710.6" y1="1625.0" x2="719.6" y2="1625.0" stroke="#000" stroke-width="2.6"/>
<text x="706.90" y="1633.60" text-anchor="end" fill="#000" style="font-family:'Liberation Sans',Arial,sans-serif;font-weight:bold;font-size:24.5px;letter-spacing:1px">0</text>
<line x1="710.6" y1="1554.8" x2="719.6" y2="1554.8" stroke="#000" stroke-width="2.6"/>
<text x="706.90" y="1563.40" text-anchor="end" fill="#000" style="font-family:'Liberation Sans',Arial,sans-serif;font-weight:bold;font-size:24.5px;letter-spacing:1px">100</text>
<line x1="710.6" y1="1484.6" x2="719.6" y2="1484.6" stroke="#000" stroke-width="2.6"/>
<text x="706.90" y="1493.20" text-anchor="end" fill="#000" style="font-family:'Liberation Sans',Arial,sans-serif;font-weight:bold;font-size:24.5px;letter-spacing:1px">200</text>
<line x1="710.6" y1="1414.4" x2="719.6" y2="1414.4" stroke="#000" stroke-width="2.6"/>
<text x="706.90" y="1423.00" text-anchor="end" fill="#000" style="font-family:'Liberation Sans',Arial,sans-serif;font-weight:bold;font-size:24.5px;letter-spacing:1px">300</text>
<line x1="719.6" y1="1695.2" x2="719.6" y2="1704.2" stroke="#000" stroke-width="2.6"/>
<text x="720.10" y="1725.70" text-anchor="middle" fill="#000" style="font-family:'Liberation Sans',Arial,sans-serif;font-weight:bold;font-size:24.5px;letter-spacing:1px">0</text>
<line x1="824.5" y1="1695.2" x2="824.5" y2="1704.2" stroke="#000" stroke-width="2.6"/>
<text x="825.00" y="1725.70" text-anchor="middle" fill="#000" style="font-family:'Liberation Sans',Arial,sans-serif;font-weight:bold;font-size:24.5px;letter-spacing:1px">100</text>
<line x1="929.4" y1="1695.2" x2="929.4" y2="1704.2" stroke="#000" stroke-width="2.6"/>
<text x="929.90" y="1725.70" text-anchor="middle" fill="#000" style="font-family:'Liberation Sans',Arial,sans-serif;font-weight:bold;font-size:24.5px;letter-spacing:1px">200</text>
<line x1="1034.3" y1="1695.2" x2="1034.3" y2="1704.2" stroke="#000" stroke-width="2.6"/>
<text x="1034.80" y="1725.70" text-anchor="middle" fill="#000" style="font-family:'Liberation Sans',Arial,sans-serif;font-weight:bold;font-size:24.5px;letter-spacing:1px">300</text>
<line x1="1139.2" y1="1695.2" x2="1139.2" y2="1704.2" stroke="#000" stroke-width="2.6"/>
<text x="1139.70" y="1725.70" text-anchor="middle" fill="#000" style="font-family:'Liberation Sans',Arial,sans-serif;font-weight:bold;font-size:24.5px;letter-spacing:1px">400</text>
<text x="926.90" y="1750.90" text-anchor="middle" fill="#000" style="font-family:'Liberation Sans',Arial,sans-serif;font-weight:bold;font-size:24.5px;letter-spacing:2.3px">Time (s)</text>
<text x="654.00" y="1542.50" text-anchor="middle" fill="#000" style="font-family:'Liberation Sans',Arial,sans-serif;font-weight:bold;font-size:24.5px;letter-spacing:2.2px" transform="rotate(-90 654.0 1542.5000000000002)">phtocurrent (μA)</text>
<polyline points="1280.4,1640.9 1282.1,1641.0 1283.8,1633.4 1285.5,1636.1 1287.2,1632.0 1288.9,1618.8 1290.6,1612.2 1292.3,1611.4 1293.9,1604.3 1295.6,1588.4 1297.3,1593.5 1299.0,1587.8 1300.7,1583.9 1302.4,1586.3 1304.1,1585.5 1305.8,1591.0 1307.5,1597.8 1309.2,1599.5 1310.9,1603.8 1312.6,1600.8 1314.3,1602.6 1316.0,1608.6 1317.7,1607.4 1319.4,1616.0 1321.0,1618.2 1322.7,1624.3 1324.4,1624.4 1326.1,1632.1 1327.8,1622.4 1329.5,1627.2 1331.2,1618.8 1332.9,1620.7 1334.6,1613.7 1336.3,1609.2 1338.0,1604.7 1339.7,1602.8 1341.4,1605.6 1343.1,1610.8 1344.8,1616.0 1346.5,1622.6 1348.1,1624.0 1349.8,1625.8 1351.5,1623.5 1353.2,1618.3 1354.9,1619.4 1356.6,1629.6 1358.3,1627.0 1360.0,1627.6 1361.7,1631.6 1363.4,1633.9 1365.1,1630.4 1366.8,1624.5 1368.5,1621.6 1370.2,1622.3 1371.9,1618.3 1373.5,1619.3 1375.2,1616.1 1376.9,1616.2 1378.6,1621.0 1380.3,1619.7 1382.0,1617.9 1383.7,1616.8 1385.4,1620.5 1387.1,1616.8 1388.8,1621.8 1390.5,1626.0 1392.2,1629.0 1393.9,1622.6 1395.6,1631.6 1397.3,1635.2 1399.0,1627.4 1400.6,1626.9 1402.3,1624.1 1404.0,1632.4 1405.7,1627.1 1407.4,1626.7 1409.1,1624.1 1410.8,1619.4 1412.5,1609.7 1414.2,1600.9 1415.9,1602.9 1417.6,1598.4 1419.3,1591.1 1421.0,1589.5 1422.7,1588.4 1424.4,1584.8 1426.0,1584.9 1427.7,1586.3 1429.4,1584.2 1431.1,1589.6 1432.8,1579.4 1434.5,1575.1 1436.2,1573.7 1437.9,1574.9 1439.6,1566.7 1441.3,1565.5 1443.0,1570.0 1444.7,1565.6 1446.4,1563.8 1448.1,1560.9 1449.8,1551.3 1451.5,1547.4 1453.1,1548.4 1454.8,1544.2 1456.5,1540.0 1458.2,1539.6 1459.9,1533.3 1461.6,1536.0 1463.3,1536.8 1465.0,1543.2 1466.7,1536.0 1468.4,1544.9 1470.1,1537.0 1471.8,1532.2 1473.5,1533.8 1475.2,1535.0 1476.9,1533.1 1478.6,1536.1 1480.2,1529.4 1481.9,1532.4 1483.6,1537.0 1485.3,1529.6 1487.0,1537.6 1488.7,1536.0 1490.4,1543.8 1492.1,1539.8 1493.8,1539.1 1495.5,1542.0 1497.2,1548.8 1498.9,1550.1 1500.6,1563.1 1502.3,1559.3 1504.0,1563.9 1505.6,1563.6 1507.3,1562.3 1509.0,1554.2 1510.7,1536.8 1512.4,1529.4 1514.1,1521.8 1515.8,1502.2 1517.5,1491.5 1519.2,1475.4 1520.9,1460.8 1522.6,1452.9 1524.3,1446.1 1526.0,1446.0 1527.7,1444.1 1529.4,1441.8 1531.1,1447.9 1532.7,1454.6 1534.4,1460.2 1536.1,1468.2 1537.8,1469.7 1539.5,1481.2 1541.2,1475.6 1542.9,1478.8 1544.6,1498.2 1546.3,1498.6 1548.0,1512.4 1549.7,1512.1 1551.4,1502.5 1553.1,1502.5 1554.8,1483.0 1556.5,1464.2 1558.2,1452.6 1559.8,1443.8 1561.5,1439.9 1563.2,1449.3 1564.9,1448.3 1566.6,1448.9 1568.3,1451.0 1570.0,1454.7 1571.7,1455.3 1573.4,1450.2 1575.1,1449.8 1576.8,1445.8 1578.5,1450.1 1580.2,1444.1 1581.9,1440.6 1583.6,1449.4 1585.2,1453.2 1586.9,1474.2 1588.6,1474.4 1590.3,1488.9 1592.0,1495.3 1593.7,1498.0 1595.4,1497.0 1597.1,1504.2 1598.8,1498.2 1600.5,1504.1 1602.2,1498.5 1603.9,1501.2 1605.6,1502.2 1607.3,1509.2 1609.0,1510.0 1610.7,1515.4 1612.3,1514.7 1614.0,1515.4 1615.7,1518.8 1617.4,1522.4 1619.1,1518.8 1620.8,1520.9 1622.5,1519.2 1624.2,1522.0 1625.9,1524.4 1627.6,1522.4 1629.3,1520.8 1631.0,1525.1 1632.7,1523.9 1634.4,1527.2 1636.1,1521.8 1637.7,1526.8 1639.4,1530.6 1641.1,1522.4 1642.8,1528.9 1644.5,1520.9 1646.2,1526.9 1647.9,1528.7 1649.6,1527.8 1651.3,1523.0 1653.0,1532.0 1654.7,1533.9 1656.4,1545.3 1658.1,1551.2 1659.8,1564.9 1661.5,1576.5 1663.2,1578.4 1664.8,1603.8 1666.5,1609.0 1668.2,1627.7 1669.9,1635.7 1671.6,1645.8 1673.3,1641.9 1675.0,1637.5 1676.7,1640.2 1678.4,1637.4 1680.1,1644.3 1681.8,1637.8 1683.5,1634.5 1685.2,1625.4 1686.9,1620.4 1688.6,1622.2 1690.3,1619.8 1691.9,1612.2 1693.6,1616.6 1695.3,1613.8 1697.0,1611.8 1698.7,1615.0 1700.4,1622.1 1702.1,1614.3 1703.8,1626.3" fill="none" stroke="#170f8c" stroke-width="2.9" stroke-linejoin="round" stroke-miterlimit="2"/>
<line x1="1286.4" y1="1639.2" x2="1704.8" y2="1639.2" stroke="#000" stroke-width="2.2" stroke-dasharray="1.8 6.7"/>
<line x1="1280.4" y1="1411.5" x2="1280.4" y2="1697.1" stroke="#000" stroke-width="2.6"/>
<line x1="1271.4" y1="1695.8" x2="1705.1" y2="1695.8" stroke="#000" stroke-width="2.6"/>
<line x1="1271.4" y1="1695.8" x2="1280.4" y2="1695.8" stroke="#000" stroke-width="2.6"/>
<text x="1267.70" y="1701.40" text-anchor="end" fill="#000" style="font-family:'Liberation Sans',Arial,sans-serif;font-weight:bold;font-size:24.5px;letter-spacing:1px">-50</text>
<line x1="1271.4" y1="1639.2" x2="1280.4" y2="1639.2" stroke="#000" stroke-width="2.6"/>
<text x="1267.70" y="1647.80" text-anchor="end" fill="#000" style="font-family:'Liberation Sans',Arial,sans-serif;font-weight:bold;font-size:24.5px;letter-spacing:1px">0</text>
<line x1="1271.4" y1="1582.6" x2="1280.4" y2="1582.6" stroke="#000" stroke-width="2.6"/>
<text x="1267.70" y="1591.20" text-anchor="end" fill="#000" style="font-family:'Liberation Sans',Arial,sans-serif;font-weight:bold;font-size:24.5px;letter-spacing:1px">50</text>
<line x1="1271.4" y1="1526.0" x2="1280.4" y2="1526.0" stroke="#000" stroke-width="2.6"/>
<text x="1267.70" y="1534.60" text-anchor="end" fill="#000" style="font-family:'Liberation Sans',Arial,sans-serif;font-weight:bold;font-size:24.5px;letter-spacing:1px">100</text>
<line x1="1271.4" y1="1469.4" x2="1280.4" y2="1469.4" stroke="#000" stroke-width="2.6"/>
<text x="1267.70" y="1478.00" text-anchor="end" fill="#000" style="font-family:'Liberation Sans',Arial,sans-serif;font-weight:bold;font-size:24.5px;letter-spacing:1px">150</text>
<line x1="1271.4" y1="1412.8" x2="1280.4" y2="1412.8" stroke="#000" stroke-width="2.6"/>
<text x="1267.70" y="1421.40" text-anchor="end" fill="#000" style="font-family:'Liberation Sans',Arial,sans-serif;font-weight:bold;font-size:24.5px;letter-spacing:1px">200</text>
<line x1="1280.4" y1="1695.8" x2="1280.4" y2="1704.8" stroke="#000" stroke-width="2.6"/>
<text x="1282.10" y="1725.70" text-anchor="middle" fill="#000" style="font-family:'Liberation Sans',Arial,sans-serif;font-weight:bold;font-size:24.5px;letter-spacing:1px">0</text>
<line x1="1386.2" y1="1695.8" x2="1386.2" y2="1704.8" stroke="#000" stroke-width="2.6"/>
<text x="1387.35" y="1725.70" text-anchor="middle" fill="#000" style="font-family:'Liberation Sans',Arial,sans-serif;font-weight:bold;font-size:24.5px;letter-spacing:1px">50</text>
<line x1="1492.1" y1="1695.8" x2="1492.1" y2="1704.8" stroke="#000" stroke-width="2.6"/>
<text x="1490.10" y="1725.70" text-anchor="middle" fill="#000" style="font-family:'Liberation Sans',Arial,sans-serif;font-weight:bold;font-size:24.5px;letter-spacing:1px">100</text>
<line x1="1598.0" y1="1695.8" x2="1598.0" y2="1704.8" stroke="#000" stroke-width="2.6"/>
<text x="1594.65" y="1725.70" text-anchor="middle" fill="#000" style="font-family:'Liberation Sans',Arial,sans-serif;font-weight:bold;font-size:24.5px;letter-spacing:1px">150</text>
<line x1="1703.8" y1="1695.8" x2="1703.8" y2="1704.8" stroke="#000" stroke-width="2.6"/>
<text x="1700.10" y="1725.70" text-anchor="middle" fill="#000" style="font-family:'Liberation Sans',Arial,sans-serif;font-weight:bold;font-size:24.5px;letter-spacing:1px">200</text>
<text x="1487.10" y="1750.90" text-anchor="middle" fill="#000" style="font-family:'Liberation Sans',Arial,sans-serif;font-weight:bold;font-size:24.5px;letter-spacing:2.3px">Time (s)</text>
<text x="1215.00" y="1542.00" text-anchor="middle" fill="#000" style="font-family:'Liberation Sans',Arial,sans-serif;font-weight:bold;font-size:24.5px;letter-spacing:2.2px" transform="rotate(-90 1215.0 1542.0000000000002)">phtocurrent (μA)</text>
<text x="339.40" y="998.60" text-anchor="middle" fill="#000" style="font-family:'Liberation Sans',Arial,sans-serif;font-weight:bold;font-size:36px;letter-spacing:1.1px">Control</text>
<text x="913.30" y="998.60" text-anchor="middle" fill="#000" style="font-family:'Liberation Sans',Arial,sans-serif;font-weight:bold;font-size:36px;letter-spacing:0.92px">Bioluminescence</text>
<text x="1486.00" y="998.60" text-anchor="middle" fill="#000" style="font-family:'Liberation Sans',Arial,sans-serif;font-weight:bold;font-size:36px;letter-spacing:1.0px">Signal Changes</text>
<text x="32.80" y="1165.90" text-anchor="middle" fill="#000" style="font-family:'Liberation Sans',Arial,sans-serif;font-weight:bold;font-size:37.5px;letter-spacing:0.5px" transform="rotate(-90 32.8 1165.9)">Original</text>
<text x="32.80" y="1562.90" text-anchor="middle" fill="#000" style="font-family:'Liberation Sans',Arial,sans-serif;font-weight:bold;font-size:37.5px;letter-spacing:0.5px" transform="rotate(-90 32.8 1562.9)">Filtered</text>
<text x="10.00" y="977.00" text-anchor="start" fill="#000" style="font-family:'Liberation Sans',Arial,sans-serif;font-size:69.5px">D</text>
</svg>
</body></html>
